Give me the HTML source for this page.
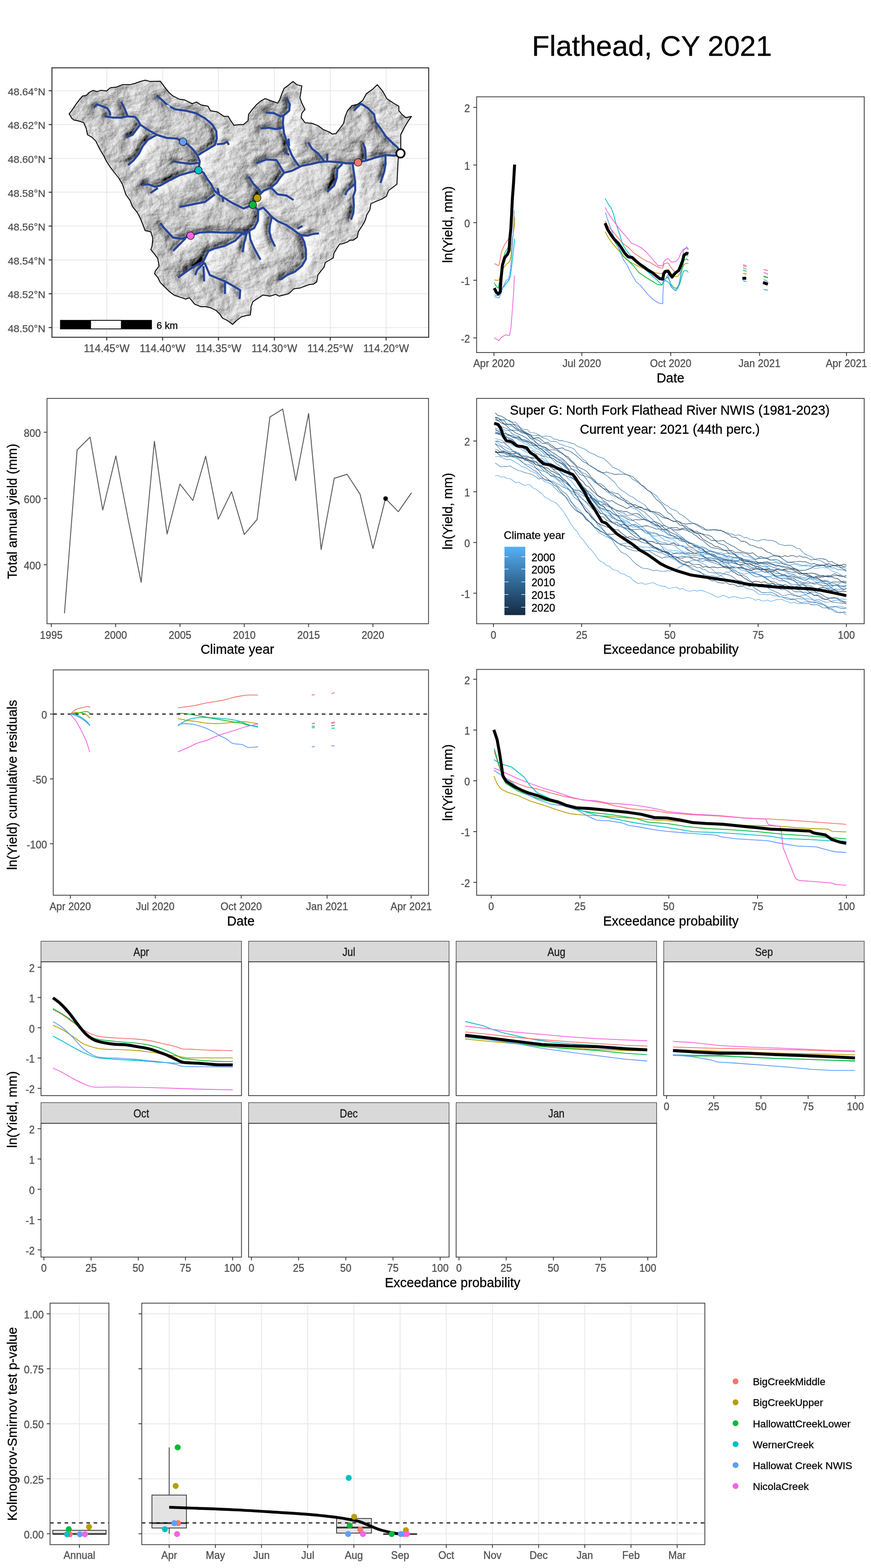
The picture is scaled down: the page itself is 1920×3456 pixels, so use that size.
<!DOCTYPE html><html><head><meta charset="utf-8"><title>Flathead, CY 2021</title>
<style>html,body{margin:0;padding:0;background:#fff;}svg{display:block;}text{font-family:'Liberation Sans', Arial, Helvetica, sans-serif;stroke-width:0.35px;}</style></head><body>
<svg width="1920" height="3456" viewBox="0 0 1920 3456">
<rect x="0" y="0" width="1920" height="3456" fill="#ffffff"/>
<text x="1437" y="123.4" font-size="63.6" text-anchor="middle" fill="#000000" stroke="#000000">Flathead, CY 2021</text>
<g id="map">
<line x1="235.2" y1="149.5" x2="235.2" y2="743.4" stroke="#EBEBEB" stroke-width="2.2"/>
<line x1="358.4" y1="149.5" x2="358.4" y2="743.4" stroke="#EBEBEB" stroke-width="2.2"/>
<line x1="481.6" y1="149.5" x2="481.6" y2="743.4" stroke="#EBEBEB" stroke-width="2.2"/>
<line x1="604.8" y1="149.5" x2="604.8" y2="743.4" stroke="#EBEBEB" stroke-width="2.2"/>
<line x1="728" y1="149.5" x2="728" y2="743.4" stroke="#EBEBEB" stroke-width="2.2"/>
<line x1="851.2" y1="149.5" x2="851.2" y2="743.4" stroke="#EBEBEB" stroke-width="2.2"/>
<line x1="114.5" y1="200" x2="945" y2="200" stroke="#EBEBEB" stroke-width="2.2"/>
<line x1="114.5" y1="274.57" x2="945" y2="274.57" stroke="#EBEBEB" stroke-width="2.2"/>
<line x1="114.5" y1="349.14" x2="945" y2="349.14" stroke="#EBEBEB" stroke-width="2.2"/>
<line x1="114.5" y1="423.71" x2="945" y2="423.71" stroke="#EBEBEB" stroke-width="2.2"/>
<line x1="114.5" y1="498.28" x2="945" y2="498.28" stroke="#EBEBEB" stroke-width="2.2"/>
<line x1="114.5" y1="572.85" x2="945" y2="572.85" stroke="#EBEBEB" stroke-width="2.2"/>
<line x1="114.5" y1="647.42" x2="945" y2="647.42" stroke="#EBEBEB" stroke-width="2.2"/>
<line x1="114.5" y1="721.99" x2="945" y2="721.99" stroke="#EBEBEB" stroke-width="2.2"/>
<defs><clipPath id="wsclip"><polygon points="152.4,250.8 158,243.9 166.3,231.3 174.7,220.1 181.7,211.7 190.1,210.3 197.1,203.3 205.5,199.1 213.9,201.9 222.2,199.1 234.8,200.5 243.2,193.5 255.8,192.1 269.8,186.6 286.5,186.6 297.7,183.8 308.9,179.6 320.1,176.8 331.3,179.6 353.6,179 362,190.7 373.2,204.7 381.6,211.7 395.5,218.7 406.7,220.1 423.5,228.5 433.3,224.9 443.1,231.3 458.4,234.1 464,243.9 479.4,246.7 493.4,256.4 503.2,256.4 508.8,266.2 515.7,276 530,274.6 536.8,274.6 546.6,266.2 548,252.2 556.3,241.1 564.7,231.3 574.5,222.9 584.3,217.3 595.5,221.5 612.2,227.1 616.4,220.1 622,204.7 626.2,194.9 637.4,186.6 645.8,179.6 654.2,186.6 665.4,189.4 662.6,207.5 661.2,215.9 665.4,227.1 672.3,241.1 665.4,249.4 664,259.2 672.3,270.4 687.7,271.8 701.7,277.4 712.9,285.8 726.9,291.4 732.4,295.6 740.8,294.2 749.2,283 757.6,271.8 760.4,257.8 766,243.9 775.8,232.7 788.3,229.9 799.5,221.5 807.9,206.1 821.9,196.3 831.7,186.6 844.3,201.9 852.6,217.3 869.4,228.5 879.2,234.1 879.2,243.9 886.2,252.2 894.6,259.2 907.1,256.4 900.2,266.2 891.8,280.2 883.4,297 883.4,327.7 877.8,350.1 876.4,378 875,406 856.7,420 851.7,432.6 841.6,438.9 829,443.9 817.7,448.9 815.2,462.8 808.9,472.8 805.2,485.4 801.4,493 796.4,500.5 790.1,510.6 787.5,523.1 778.7,529.4 771.2,529.4 766.2,533.2 756.1,537 748.6,538.2 743.5,545.8 736,558.4 734.7,568.4 725.9,573.5 717.1,578.5 714.6,588.6 708.3,596.1 700.8,606.2 698.2,621.3 690.7,626.3 680.6,627.5 670.6,631.3 660.5,635.1 647.9,636.4 640.4,643.9 635.3,647.7 625.3,650.2 615.2,652.7 607.7,648.9 595.1,652.7 580,650.2 565.9,659.2 557.5,664.8 553.3,676 553.3,681.6 551.9,694.2 543.5,695.5 532.3,698.3 521.1,706.7 512.8,715.1 501.6,706.7 490.4,701.1 484.8,692.8 476.4,684.4 465.2,678.8 454.1,676 442.9,676 428.9,670.4 417.7,656.4 409.3,659.2 400.9,656.4 384.2,650.8 373,642.4 361.8,631.3 353.4,622.9 347.8,611.7 340.8,603.3 342.2,597.7 350.6,586.5 347.8,569.8 339.4,558.6 332.5,550.2 335.3,541.8 336.7,525 332.5,511.1 319.9,508.3 315.7,497.1 310.1,483.1 303.1,469.1 291.9,455.2 286.3,441.2 278,430 275.4,422.8 269.8,406 261.4,392 250.2,378 241.8,366.8 234.8,355.7 229.2,344.5 219.4,327.7 211.1,310.9 202.7,302.6 192.9,297 190.1,283 184.5,270.4 171.9,266.2 163.5,264.8 158,260.6"/></clipPath>
<filter id="terrain" filterUnits="userSpaceOnUse" x="130" y="165" width="790" height="565" color-interpolation-filters="sRGB"><feGaussianBlur in="SourceAlpha" stdDeviation="6" result="b1"/><feGaussianBlur in="SourceAlpha" stdDeviation="20" result="b2"/><feComposite in="b1" in2="b2" operator="arithmetic" k2="0.5" k3="1.15" result="v"/><feTurbulence type="fractalNoise" baseFrequency="0.03 0.04" numOctaves="4" seed="4" result="n"/><feComposite in="v" in2="n" operator="arithmetic" k2="-0.6" k3="0.15" k4="0.77" result="h"/><feDiffuseLighting in="h" surfaceScale="27" diffuseConstant="1.0" lighting-color="#ffffff"><feDistantLight azimuth="205" elevation="45"/></feDiffuseLighting><feComponentTransfer><feFuncR type="gamma" amplitude="1" exponent="0.64" offset="0"/><feFuncG type="gamma" amplitude="1" exponent="0.64" offset="0"/><feFuncB type="gamma" amplitude="1" exponent="0.64" offset="0"/></feComponentTransfer></filter></defs>
<polygon points="152.4,250.8 158,243.9 166.3,231.3 174.7,220.1 181.7,211.7 190.1,210.3 197.1,203.3 205.5,199.1 213.9,201.9 222.2,199.1 234.8,200.5 243.2,193.5 255.8,192.1 269.8,186.6 286.5,186.6 297.7,183.8 308.9,179.6 320.1,176.8 331.3,179.6 353.6,179 362,190.7 373.2,204.7 381.6,211.7 395.5,218.7 406.7,220.1 423.5,228.5 433.3,224.9 443.1,231.3 458.4,234.1 464,243.9 479.4,246.7 493.4,256.4 503.2,256.4 508.8,266.2 515.7,276 530,274.6 536.8,274.6 546.6,266.2 548,252.2 556.3,241.1 564.7,231.3 574.5,222.9 584.3,217.3 595.5,221.5 612.2,227.1 616.4,220.1 622,204.7 626.2,194.9 637.4,186.6 645.8,179.6 654.2,186.6 665.4,189.4 662.6,207.5 661.2,215.9 665.4,227.1 672.3,241.1 665.4,249.4 664,259.2 672.3,270.4 687.7,271.8 701.7,277.4 712.9,285.8 726.9,291.4 732.4,295.6 740.8,294.2 749.2,283 757.6,271.8 760.4,257.8 766,243.9 775.8,232.7 788.3,229.9 799.5,221.5 807.9,206.1 821.9,196.3 831.7,186.6 844.3,201.9 852.6,217.3 869.4,228.5 879.2,234.1 879.2,243.9 886.2,252.2 894.6,259.2 907.1,256.4 900.2,266.2 891.8,280.2 883.4,297 883.4,327.7 877.8,350.1 876.4,378 875,406 856.7,420 851.7,432.6 841.6,438.9 829,443.9 817.7,448.9 815.2,462.8 808.9,472.8 805.2,485.4 801.4,493 796.4,500.5 790.1,510.6 787.5,523.1 778.7,529.4 771.2,529.4 766.2,533.2 756.1,537 748.6,538.2 743.5,545.8 736,558.4 734.7,568.4 725.9,573.5 717.1,578.5 714.6,588.6 708.3,596.1 700.8,606.2 698.2,621.3 690.7,626.3 680.6,627.5 670.6,631.3 660.5,635.1 647.9,636.4 640.4,643.9 635.3,647.7 625.3,650.2 615.2,652.7 607.7,648.9 595.1,652.7 580,650.2 565.9,659.2 557.5,664.8 553.3,676 553.3,681.6 551.9,694.2 543.5,695.5 532.3,698.3 521.1,706.7 512.8,715.1 501.6,706.7 490.4,701.1 484.8,692.8 476.4,684.4 465.2,678.8 454.1,676 442.9,676 428.9,670.4 417.7,656.4 409.3,659.2 400.9,656.4 384.2,650.8 373,642.4 361.8,631.3 353.4,622.9 347.8,611.7 340.8,603.3 342.2,597.7 350.6,586.5 347.8,569.8 339.4,558.6 332.5,550.2 335.3,541.8 336.7,525 332.5,511.1 319.9,508.3 315.7,497.1 310.1,483.1 303.1,469.1 291.9,455.2 286.3,441.2 278,430 275.4,422.8 269.8,406 261.4,392 250.2,378 241.8,366.8 234.8,355.7 229.2,344.5 219.4,327.7 211.1,310.9 202.7,302.6 192.9,297 190.1,283 184.5,270.4 171.9,266.2 163.5,264.8 158,260.6" fill="#cfcfcf" stroke="none"/>
<g clip-path="url(#wsclip)"><g filter="url(#terrain)"><path d="M206.9 236.9 L213.9 229.9 L225 234.1 L236.2 238.3 L241.8 246.7 L243.2 255 M230.6 256.4 L250.2 259.2 L267 259.2 L280.9 256.4 L297.7 257.8 L304.7 266.2 L308.9 274.6 L325.7 285.8 L345.2 297 L367.6 304 L390 305.4 L403.4 312.3 L415.1 319.3 L426.3 330.5 L434.7 341.7 L440.3 355.7 L437.5 375.2 L448.7 380.8 L457 394.8 L465.4 406 L472.4 420 L483 429.4 L509.9 446.1 L536.7 459.5 L557.2 451.5 M267 224.3 L271 232 L275.4 241.1 L280.9 255 M308.9 274.6 L300.5 285.8 L292.1 297 L278.1 302.6 M345.2 297 L325.7 308.2 L314.5 322.1 L306.1 338.9 L294.9 352.9 L282.3 364 M345.2 210.3 L353.6 217.3 L370.4 232.7 L387.2 241.1 L409.5 243.9 L431.9 249.4 L451.5 260.6 L468.2 274.6 L476.6 288.6 L478 305.4 L473.8 319.3 L459.8 327.7 L445.9 336.1 L437.5 341.7 M478 318 L493.4 316.5 L500.4 312.3 L504.6 319.3 M381.6 355.7 L398.3 358.5 L420.7 361.3 L440.3 358.5 M313.1 407.4 L325.7 406 L342.4 411.6 L353.6 408.8 L373.2 397.6 L395.5 386.4 L415.1 380.8 L437.5 375.2 M331.3 425.6 L348 414.4 M395.5 456.3 L423.5 450.7 L451.5 445.1 L473.8 428.3 M490.6 435.3 L492 445.1 M479.4 414.4 L483 429.4 M557.2 451.5 L567 436.2 L573.1 428.3 L581.5 420 L595.5 414.4 L609.4 403.2 L619.2 389.2 L626.2 380.8 L643 376.6 L654.2 371 L665.4 365.5 L687.7 361.3 L704.5 357.1 L721.3 355.7 L743.6 357.1 L763.2 359.9 L777.2 359.9 L789.2 357.9 L798.1 355.7 L810.7 352.9 L827.5 347.3 L849.8 341.7 L870.8 343.1 L882.8 338.1 M564.7 359.9 L587.1 351.5 L609.4 352.9 L617.8 366.8 L626.2 380.8 M631.8 215.9 L638.8 229.9 L637.4 243.9 L624.8 255 L623.4 271.8 L626.2 294.2 L631.8 311 L637.4 327.7 L643 341.7 L651.4 355.7 L659.8 366.8 M585.7 248 L603.9 249.4 L617.8 256.4 L624.8 255 M574.5 283 L592.7 281.6 L606.7 284.4 L619.2 283 L623.4 280 M627.6 334.7 L637.4 341.7 M636 305.4 L637.4 322.1 M780 243.9 L795.3 228.5 L810.7 238.3 L824.7 252.2 L827.5 269 L838.7 283 L849.8 299.8 L866.6 316.5 L876.4 324.9 L882.8 338.1 M799.5 313.7 L805.1 327.7 L806.5 355.7 M849.8 341.7 L849.8 361.3 L847 378 L838.7 403.2 M777.2 359.9 L780 380.8 L782.8 400.4 L783 420 L778.7 432.6 L780 452.7 L778.7 470.3 L773.7 484.2 M782.8 405 L771.6 414.4 L763.6 422.5 L761.1 430.1 M754.8 361.3 L743.6 372.4 L742.2 392 L736.6 408.8 L721.3 422.8 M721.3 338.9 L721.3 355.7 M679.3 313.7 L687.7 327.7 L701.7 338.9 L712.9 352.9 L716 357 M598.3 414.4 L612.2 428.3 L631.8 431.1 L647.2 440.9 M548 389.2 L559.1 406 L570.3 417.2 L575.9 425.6 L581.5 420 M557.2 451.5 L568.9 462.9 L568.7 485.9 L560.3 502.7 L549.1 508.3 L532.3 516.7 L518.3 530.6 L496 541.8 L473.6 547.4 L459.6 553 L451.3 569.8 L448.5 575.4 L428.9 586.5 L412.1 597.7 L392.6 611.7 M451.3 578.1 L434.5 594.9 L430.3 606.1 M448.5 586.5 L449.9 620.1 M451.3 580 L462.4 606.1 L482 614.5 L496 620.1 L515.6 631.3 L529.5 639.6 L528.1 659.2 M496 620.1 L496 648 M549.1 508.3 L551.9 527.8 L560.3 547.4 L574.3 572.6 M545 510 L537.9 536.2 L535.1 555.8 M353.4 491.5 L361.8 502.7 L381.4 523.6 L400.9 526.4 L420 519.4 L440.1 512.5 L462.4 511.1 L487.6 512.5 L529.5 512.5 L540.7 516.7 M409.3 525 L395.4 539 L381.4 553 M568.9 462.9 L580 457.7 L590.1 467.8 L598.9 477.9 L612.7 487.9 L630.3 495.5 L645.4 505.5 L655.5 513.1 L663 518.1 L670.6 533.2 L674.3 550.8 L674.3 570.9 L665.5 586 L650.4 598.6 L632.8 606.2 L620.3 615 L614 616.2 M663 518.1 L678.1 519.4 L690.7 515.6 L703.3 514.3 M655.5 504.3 L666.8 498 M598.9 479 L595.1 495.5 L593.8 510.6 L597.6 525.7 L606.4 543.3" fill="none" stroke="#000" stroke-width="6" stroke-linejoin="round"/></g></g>
<polygon points="152.4,250.8 158,243.9 166.3,231.3 174.7,220.1 181.7,211.7 190.1,210.3 197.1,203.3 205.5,199.1 213.9,201.9 222.2,199.1 234.8,200.5 243.2,193.5 255.8,192.1 269.8,186.6 286.5,186.6 297.7,183.8 308.9,179.6 320.1,176.8 331.3,179.6 353.6,179 362,190.7 373.2,204.7 381.6,211.7 395.5,218.7 406.7,220.1 423.5,228.5 433.3,224.9 443.1,231.3 458.4,234.1 464,243.9 479.4,246.7 493.4,256.4 503.2,256.4 508.8,266.2 515.7,276 530,274.6 536.8,274.6 546.6,266.2 548,252.2 556.3,241.1 564.7,231.3 574.5,222.9 584.3,217.3 595.5,221.5 612.2,227.1 616.4,220.1 622,204.7 626.2,194.9 637.4,186.6 645.8,179.6 654.2,186.6 665.4,189.4 662.6,207.5 661.2,215.9 665.4,227.1 672.3,241.1 665.4,249.4 664,259.2 672.3,270.4 687.7,271.8 701.7,277.4 712.9,285.8 726.9,291.4 732.4,295.6 740.8,294.2 749.2,283 757.6,271.8 760.4,257.8 766,243.9 775.8,232.7 788.3,229.9 799.5,221.5 807.9,206.1 821.9,196.3 831.7,186.6 844.3,201.9 852.6,217.3 869.4,228.5 879.2,234.1 879.2,243.9 886.2,252.2 894.6,259.2 907.1,256.4 900.2,266.2 891.8,280.2 883.4,297 883.4,327.7 877.8,350.1 876.4,378 875,406 856.7,420 851.7,432.6 841.6,438.9 829,443.9 817.7,448.9 815.2,462.8 808.9,472.8 805.2,485.4 801.4,493 796.4,500.5 790.1,510.6 787.5,523.1 778.7,529.4 771.2,529.4 766.2,533.2 756.1,537 748.6,538.2 743.5,545.8 736,558.4 734.7,568.4 725.9,573.5 717.1,578.5 714.6,588.6 708.3,596.1 700.8,606.2 698.2,621.3 690.7,626.3 680.6,627.5 670.6,631.3 660.5,635.1 647.9,636.4 640.4,643.9 635.3,647.7 625.3,650.2 615.2,652.7 607.7,648.9 595.1,652.7 580,650.2 565.9,659.2 557.5,664.8 553.3,676 553.3,681.6 551.9,694.2 543.5,695.5 532.3,698.3 521.1,706.7 512.8,715.1 501.6,706.7 490.4,701.1 484.8,692.8 476.4,684.4 465.2,678.8 454.1,676 442.9,676 428.9,670.4 417.7,656.4 409.3,659.2 400.9,656.4 384.2,650.8 373,642.4 361.8,631.3 353.4,622.9 347.8,611.7 340.8,603.3 342.2,597.7 350.6,586.5 347.8,569.8 339.4,558.6 332.5,550.2 335.3,541.8 336.7,525 332.5,511.1 319.9,508.3 315.7,497.1 310.1,483.1 303.1,469.1 291.9,455.2 286.3,441.2 278,430 275.4,422.8 269.8,406 261.4,392 250.2,378 241.8,366.8 234.8,355.7 229.2,344.5 219.4,327.7 211.1,310.9 202.7,302.6 192.9,297 190.1,283 184.5,270.4 171.9,266.2 163.5,264.8 158,260.6" fill="none" stroke="#000000" stroke-width="2" stroke-linejoin="round"/>
<path d="M206.9 236.9 L213.9 229.9 L225 234.1 L236.2 238.3 L241.8 246.7 L243.2 255 M230.6 256.4 L250.2 259.2 L267 259.2 L280.9 256.4 L297.7 257.8 L304.7 266.2 L308.9 274.6 L325.7 285.8 L345.2 297 L367.6 304 L390 305.4 L403.4 312.3 L415.1 319.3 L426.3 330.5 L434.7 341.7 L440.3 355.7 L437.5 375.2 L448.7 380.8 L457 394.8 L465.4 406 L472.4 420 L483 429.4 L509.9 446.1 L536.7 459.5 L557.2 451.5 M267 224.3 L271 232 L275.4 241.1 L280.9 255 M308.9 274.6 L300.5 285.8 L292.1 297 L278.1 302.6 M345.2 297 L325.7 308.2 L314.5 322.1 L306.1 338.9 L294.9 352.9 L282.3 364 M345.2 210.3 L353.6 217.3 L370.4 232.7 L387.2 241.1 L409.5 243.9 L431.9 249.4 L451.5 260.6 L468.2 274.6 L476.6 288.6 L478 305.4 L473.8 319.3 L459.8 327.7 L445.9 336.1 L437.5 341.7 M478 318 L493.4 316.5 L500.4 312.3 L504.6 319.3 M381.6 355.7 L398.3 358.5 L420.7 361.3 L440.3 358.5 M313.1 407.4 L325.7 406 L342.4 411.6 L353.6 408.8 L373.2 397.6 L395.5 386.4 L415.1 380.8 L437.5 375.2 M331.3 425.6 L348 414.4 M395.5 456.3 L423.5 450.7 L451.5 445.1 L473.8 428.3 M490.6 435.3 L492 445.1 M479.4 414.4 L483 429.4 M557.2 451.5 L567 436.2 L573.1 428.3 L581.5 420 L595.5 414.4 L609.4 403.2 L619.2 389.2 L626.2 380.8 L643 376.6 L654.2 371 L665.4 365.5 L687.7 361.3 L704.5 357.1 L721.3 355.7 L743.6 357.1 L763.2 359.9 L777.2 359.9 L789.2 357.9 L798.1 355.7 L810.7 352.9 L827.5 347.3 L849.8 341.7 L870.8 343.1 L882.8 338.1 M564.7 359.9 L587.1 351.5 L609.4 352.9 L617.8 366.8 L626.2 380.8 M631.8 215.9 L638.8 229.9 L637.4 243.9 L624.8 255 L623.4 271.8 L626.2 294.2 L631.8 311 L637.4 327.7 L643 341.7 L651.4 355.7 L659.8 366.8 M585.7 248 L603.9 249.4 L617.8 256.4 L624.8 255 M574.5 283 L592.7 281.6 L606.7 284.4 L619.2 283 L623.4 280 M627.6 334.7 L637.4 341.7 M636 305.4 L637.4 322.1 M780 243.9 L795.3 228.5 L810.7 238.3 L824.7 252.2 L827.5 269 L838.7 283 L849.8 299.8 L866.6 316.5 L876.4 324.9 L882.8 338.1 M799.5 313.7 L805.1 327.7 L806.5 355.7 M849.8 341.7 L849.8 361.3 L847 378 L838.7 403.2 M777.2 359.9 L780 380.8 L782.8 400.4 L783 420 L778.7 432.6 L780 452.7 L778.7 470.3 L773.7 484.2 M782.8 405 L771.6 414.4 L763.6 422.5 L761.1 430.1 M754.8 361.3 L743.6 372.4 L742.2 392 L736.6 408.8 L721.3 422.8 M721.3 338.9 L721.3 355.7 M679.3 313.7 L687.7 327.7 L701.7 338.9 L712.9 352.9 L716 357 M598.3 414.4 L612.2 428.3 L631.8 431.1 L647.2 440.9 M548 389.2 L559.1 406 L570.3 417.2 L575.9 425.6 L581.5 420 M557.2 451.5 L568.9 462.9 L568.7 485.9 L560.3 502.7 L549.1 508.3 L532.3 516.7 L518.3 530.6 L496 541.8 L473.6 547.4 L459.6 553 L451.3 569.8 L448.5 575.4 L428.9 586.5 L412.1 597.7 L392.6 611.7 M451.3 578.1 L434.5 594.9 L430.3 606.1 M448.5 586.5 L449.9 620.1 M451.3 580 L462.4 606.1 L482 614.5 L496 620.1 L515.6 631.3 L529.5 639.6 L528.1 659.2 M496 620.1 L496 648 M549.1 508.3 L551.9 527.8 L560.3 547.4 L574.3 572.6 M545 510 L537.9 536.2 L535.1 555.8 M353.4 491.5 L361.8 502.7 L381.4 523.6 L400.9 526.4 L420 519.4 L440.1 512.5 L462.4 511.1 L487.6 512.5 L529.5 512.5 L540.7 516.7 M409.3 525 L395.4 539 L381.4 553 M568.9 462.9 L580 457.7 L590.1 467.8 L598.9 477.9 L612.7 487.9 L630.3 495.5 L645.4 505.5 L655.5 513.1 L663 518.1 L670.6 533.2 L674.3 550.8 L674.3 570.9 L665.5 586 L650.4 598.6 L632.8 606.2 L620.3 615 L614 616.2 M663 518.1 L678.1 519.4 L690.7 515.6 L703.3 514.3 M655.5 504.3 L666.8 498 M598.9 479 L595.1 495.5 L593.8 510.6 L597.6 525.7 L606.4 543.3" fill="none" stroke="#26449A" stroke-width="4.6" stroke-linejoin="round" stroke-linecap="butt"/>
<ellipse cx="371" cy="234" rx="4.5" ry="2" fill="#a8d8f2" transform="rotate(30 371 234)"/>
<ellipse cx="857" cy="246" rx="2" ry="5" fill="#a8d8f2" transform="rotate(-40 857 246)"/>
<circle cx="403.4" cy="312.3" r="8.3" fill="#619CFF" stroke="#000000" stroke-width="1.1"/>
<circle cx="437.5" cy="375.2" r="8.3" fill="#00BFC4" stroke="#000000" stroke-width="1.1"/>
<circle cx="567" cy="436.2" r="8.3" fill="#B79F00" stroke="#000000" stroke-width="1.1"/>
<circle cx="557.2" cy="451.5" r="8.3" fill="#00BA38" stroke="#000000" stroke-width="1.1"/>
<circle cx="420" cy="519.4" r="8.3" fill="#F564E3" stroke="#000000" stroke-width="1.1"/>
<circle cx="789.2" cy="357.9" r="8.3" fill="#F8766D" stroke="#000000" stroke-width="1.1"/>
<circle cx="882.8" cy="338.1" r="9.3" fill="#ffffff" stroke="#000000" stroke-width="3.6"/>
<rect x="132.4" y="705.2" width="202.4" height="20.6" fill="#000000" stroke="none" stroke-width="0"/>
<rect x="200.6" y="707" width="66" height="17" fill="#ffffff" stroke="none" stroke-width="0"/>
<text x="345" y="724.7" font-size="21.8" text-anchor="start" fill="#000000" stroke="#000000">6 km</text>
<rect x="114.5" y="149.5" width="830.5" height="593.9" fill="none" stroke="#333333" stroke-width="2.2"/>
<line x1="235.2" y1="743.4" x2="235.2" y2="750.4" stroke="#333333" stroke-width="2.2"/>
<text x="235.2" y="775.6" font-size="23.3" text-anchor="middle" fill="#4D4D4D" stroke="#4D4D4D">114.45°W</text>
<line x1="358.4" y1="743.4" x2="358.4" y2="750.4" stroke="#333333" stroke-width="2.2"/>
<text x="358.4" y="775.6" font-size="23.3" text-anchor="middle" fill="#4D4D4D" stroke="#4D4D4D">114.40°W</text>
<line x1="481.6" y1="743.4" x2="481.6" y2="750.4" stroke="#333333" stroke-width="2.2"/>
<text x="481.6" y="775.6" font-size="23.3" text-anchor="middle" fill="#4D4D4D" stroke="#4D4D4D">114.35°W</text>
<line x1="604.8" y1="743.4" x2="604.8" y2="750.4" stroke="#333333" stroke-width="2.2"/>
<text x="604.8" y="775.6" font-size="23.3" text-anchor="middle" fill="#4D4D4D" stroke="#4D4D4D">114.30°W</text>
<line x1="728" y1="743.4" x2="728" y2="750.4" stroke="#333333" stroke-width="2.2"/>
<text x="728" y="775.6" font-size="23.3" text-anchor="middle" fill="#4D4D4D" stroke="#4D4D4D">114.25°W</text>
<line x1="851.2" y1="743.4" x2="851.2" y2="750.4" stroke="#333333" stroke-width="2.2"/>
<text x="851.2" y="775.6" font-size="23.3" text-anchor="middle" fill="#4D4D4D" stroke="#4D4D4D">114.20°W</text>
<line x1="107.3" y1="200" x2="114.5" y2="200" stroke="#333333" stroke-width="2.2"/>
<text x="100.1" y="209.8" font-size="22.86" text-anchor="end" fill="#4D4D4D" stroke="#4D4D4D">48.64°N</text>
<line x1="107.3" y1="274.57" x2="114.5" y2="274.57" stroke="#333333" stroke-width="2.2"/>
<text x="100.1" y="284.37" font-size="22.86" text-anchor="end" fill="#4D4D4D" stroke="#4D4D4D">48.62°N</text>
<line x1="107.3" y1="349.14" x2="114.5" y2="349.14" stroke="#333333" stroke-width="2.2"/>
<text x="100.1" y="358.94" font-size="22.86" text-anchor="end" fill="#4D4D4D" stroke="#4D4D4D">48.60°N</text>
<line x1="107.3" y1="423.71" x2="114.5" y2="423.71" stroke="#333333" stroke-width="2.2"/>
<text x="100.1" y="433.51" font-size="22.86" text-anchor="end" fill="#4D4D4D" stroke="#4D4D4D">48.58°N</text>
<line x1="107.3" y1="498.28" x2="114.5" y2="498.28" stroke="#333333" stroke-width="2.2"/>
<text x="100.1" y="508.08" font-size="22.86" text-anchor="end" fill="#4D4D4D" stroke="#4D4D4D">48.56°N</text>
<line x1="107.3" y1="572.85" x2="114.5" y2="572.85" stroke="#333333" stroke-width="2.2"/>
<text x="100.1" y="582.65" font-size="22.86" text-anchor="end" fill="#4D4D4D" stroke="#4D4D4D">48.54°N</text>
<line x1="107.3" y1="647.42" x2="114.5" y2="647.42" stroke="#333333" stroke-width="2.2"/>
<text x="100.1" y="657.22" font-size="22.86" text-anchor="end" fill="#4D4D4D" stroke="#4D4D4D">48.52°N</text>
<line x1="107.3" y1="721.99" x2="114.5" y2="721.99" stroke="#333333" stroke-width="2.2"/>
<text x="100.1" y="731.79" font-size="22.86" text-anchor="end" fill="#4D4D4D" stroke="#4D4D4D">48.50°N</text>
</g>
<g id="ts">
<polyline points="1089.6,581.2 1094.4,582.9 1096.9,585.3 1100.2,584.5 1102.6,571.5 1105,556.8 1108.3,548.6 1112.4,538.9 1117.3,531.5 1120.5,527.4 1122.2,524" fill="none" stroke="#F8766D" stroke-width="1.7" stroke-linejoin="round" stroke-linecap="butt"/>
<polyline points="1089.6,617.1 1096.1,617.9 1100.2,617.1 1104,605 1110.7,589.4 1115.6,582.9 1122.2,578 1126.2,566.6 1127.9,543.7 1128.7,530.7 1134.4,494.8 1134.4,478.5" fill="none" stroke="#B79F00" stroke-width="1.7" stroke-linejoin="round" stroke-linecap="butt"/>
<polyline points="1089.6,623.6 1094.4,631.8 1098.5,635 1103,610 1107.5,576.3 1113.2,556.8 1117.3,550.3 1119.7,545.4" fill="none" stroke="#00BA38" stroke-width="1.7" stroke-linejoin="round" stroke-linecap="butt"/>
<polyline points="1089.6,650 1096,652 1100.2,650 1102.6,644.8 1109.1,633.4 1122.2,617.1 1125.4,607.3 1128.7,581.2 1131.9,551.9 1134.4,525.8" fill="none" stroke="#00BFC4" stroke-width="1.7" stroke-linejoin="round" stroke-linecap="butt"/>
<polyline points="1089.6,653.8 1096.1,656.2 1100.2,656.2 1104.2,648.1 1109.1,631.8 1116.5,617.1 1121.3,615.5 1125.4,594.3 1128.7,551.9 1131.9,503 1133.6,463.9" fill="none" stroke="#619CFF" stroke-width="1.7" stroke-linejoin="round" stroke-linecap="butt"/>
<polyline points="1089.6,744.2 1094.4,747.5 1100.2,750.8 1104.2,744.2 1109.1,741 1115.6,737.7 1118.9,739.3 1123,739.3 1126.2,723.1 1129.5,682.3 1131.9,649.7 1133.9,607.3" fill="none" stroke="#F564E3" stroke-width="1.7" stroke-linejoin="round" stroke-linecap="butt"/>
<polyline points="1333.9,486.8 1339.1,497.8 1349.4,508.1 1361.1,522.7 1374.3,537.4 1386,546.2 1397.8,558 1411,566.8 1422.7,574.1 1433,578.5 1444.7,585.8 1453.5,590.2 1460.9,591 1463.8,581.4 1472.6,579.2 1478.5,588.8 1485.8,597.6 1493.2,599 1499.1,588.8 1504.9,574.1 1510.8,562.4 1517.4,563.8" fill="none" stroke="#F8766D" stroke-width="1.7" stroke-linejoin="round" stroke-linecap="butt"/>
<polyline points="1333.9,510.3 1342,525.7 1350.8,537.4 1361.1,549.1 1371.4,560.9 1381.6,572.6 1393.4,580 1408.1,587.3 1422.7,594.6 1437.4,599 1449.1,602 1459.4,603.4 1463.8,596.1 1474.1,594.6 1481.4,604.9 1488.8,609.3 1494.6,609.3 1502,596.1 1507.8,582.9 1513.7,580 1517.4,580.7" fill="none" stroke="#B79F00" stroke-width="1.7" stroke-linejoin="round" stroke-linecap="butt"/>
<polyline points="1333.9,497.8 1340.5,509.5 1349.4,521.3 1356.7,535.9 1365.5,549.1 1374.3,565.3 1386,575.6 1396.3,585.8 1408.1,600.5 1422.7,610.8 1437.4,619.6 1449.1,626.9 1459.4,628.4 1463.1,616.7 1472.6,610.8 1478.5,625.5 1485.8,634.3 1491.7,635.7 1497.6,625.5 1503.5,591.7 1507.8,574.1 1513,570.4 1517.4,574.1" fill="none" stroke="#00BA38" stroke-width="1.7" stroke-linejoin="round" stroke-linecap="butt"/>
<polyline points="1333.9,437.6 1340.5,449.4 1346.4,456.7 1352.3,471.4 1356.7,489 1361.1,502.2 1367,519.8 1371.4,535.9 1378.7,549.1 1389,562.4 1402.2,575.6 1419.8,591.7 1434.5,604.9 1447.7,616.7 1459.4,628.4 1462.4,619.6 1468.2,618.9 1474.1,622.5 1480,632.8 1485.8,638.7 1491.7,638.7 1497.6,628.4 1502,613.7 1506.4,597.6 1513.7,596.1 1517.4,600.5" fill="none" stroke="#00BFC4" stroke-width="1.7" stroke-linejoin="round" stroke-linecap="butt"/>
<polyline points="1334.7,468.4 1339.1,483.1 1345,499.2 1352.3,519.8 1361.1,540.3 1368.4,558 1374.3,572.6 1381.6,582.9 1391.9,603.4 1402.2,621.1 1411,628.4 1425.7,646 1440.3,660.7 1452.1,668 1460.9,669.5 1461.6,640.1 1463.1,622.5 1466.8,615.2 1472.6,604.9 1475.6,616.7 1480,631.3 1485.8,638.7 1490.2,640.9 1494.6,634.3 1499,615.2 1503.5,581.4 1506.4,552.1 1510.8,547.7 1513.7,544 1517.4,549.1" fill="none" stroke="#619CFF" stroke-width="1.7" stroke-linejoin="round" stroke-linecap="butt"/>
<polyline points="1333.9,457.4 1343.5,474.3 1355.2,490.4 1368.4,508.1 1381.6,522.7 1391.9,535.9 1402.2,540.3 1413.9,546.2 1424.2,555 1435.9,568.2 1444.7,578.5 1450.6,585.8 1460.9,585.8 1462.4,578.5 1466.8,572.6 1472.6,569.7 1480,577.8 1490.2,576.3 1496.1,569.7 1500.5,558 1506.4,549.1 1513.7,547.7 1517.4,549.9" fill="none" stroke="#F564E3" stroke-width="1.7" stroke-linejoin="round" stroke-linecap="butt"/>
<polyline points="1637.9,583.4 1641.5,584.4 1645.7,585.7" fill="none" stroke="#F564E3" stroke-width="1.9" stroke-linejoin="round" stroke-linecap="butt"/>
<polyline points="1637.9,586.2 1641.5,587.2 1645.7,587.9" fill="none" stroke="#F8766D" stroke-width="1.9" stroke-linejoin="round" stroke-linecap="butt"/>
<polyline points="1637.9,590.7 1641.5,591.7 1645.7,593.5" fill="none" stroke="#619CFF" stroke-width="1.9" stroke-linejoin="round" stroke-linecap="butt"/>
<polyline points="1637.9,595.7 1641.5,596.7 1645.7,597.7" fill="none" stroke="#00BA38" stroke-width="1.9" stroke-linejoin="round" stroke-linecap="butt"/>
<polyline points="1637.9,602.7 1641.5,603.7 1645.7,603.8" fill="none" stroke="#B79F00" stroke-width="1.9" stroke-linejoin="round" stroke-linecap="butt"/>
<polyline points="1637.9,618.6 1641.5,619.6 1645.7,620.6" fill="none" stroke="#00BFC4" stroke-width="1.9" stroke-linejoin="round" stroke-linecap="butt"/>
<polyline points="1683.2,593.8 1687.5,595 1692.7,596.8" fill="none" stroke="#F8766D" stroke-width="1.9" stroke-linejoin="round" stroke-linecap="butt"/>
<polyline points="1683.2,600.7 1687.5,601.9 1692.7,604.7" fill="none" stroke="#F564E3" stroke-width="1.9" stroke-linejoin="round" stroke-linecap="butt"/>
<polyline points="1683.2,609.8 1687.5,611 1692.7,612.2" fill="none" stroke="#B79F00" stroke-width="1.9" stroke-linejoin="round" stroke-linecap="butt"/>
<polyline points="1683.2,608.6 1687.5,609.8 1692.7,611.4" fill="none" stroke="#00BA38" stroke-width="1.9" stroke-linejoin="round" stroke-linecap="butt"/>
<polyline points="1683.2,616.4 1687.5,617.6 1692.7,621.4" fill="none" stroke="#619CFF" stroke-width="1.9" stroke-linejoin="round" stroke-linecap="butt"/>
<polyline points="1683.2,637.6 1687.5,638.8 1692.7,639.3" fill="none" stroke="#00BFC4" stroke-width="1.9" stroke-linejoin="round" stroke-linecap="butt"/>
<polyline points="1089.6,635 1094.4,644.8 1098.5,648.1 1102.6,643.2 1104.2,617.1 1107.5,584.5 1112.4,568.2 1118.9,560 1122.2,551.9 1123.8,527.4 1126.2,503 1127.9,470.4 1129.5,437.8 1131.9,405.2 1134.4,362.8" fill="none" stroke="#000000" stroke-width="6.5" stroke-linejoin="round" stroke-linecap="butt"/>
<polyline points="1333.9,491.9 1339.1,505.1 1346.4,516.9 1353.8,527.1 1362.6,535.9 1369.9,546.2 1377.2,558 1384.6,566 1393.4,567.5 1402.2,575.6 1411,582.9 1419.8,588.8 1428.6,595.4 1437.4,600.5 1446.2,607.8 1453.5,613.7 1460.9,615.2 1463.1,603.4 1466.8,598.3 1472.6,597.6 1477,604.9 1481.4,610.8 1485.8,604.9 1490.2,600.5 1496.1,596.1 1500.5,585.8 1504.9,574.1 1507.8,562.4 1513.7,558 1517.4,559.4" fill="none" stroke="#000000" stroke-width="6.5" stroke-linejoin="round" stroke-linecap="butt"/>
<polyline points="1636.5,613.6 1645,613.3" fill="none" stroke="#000000" stroke-width="6.5" stroke-linejoin="round" stroke-linecap="butt"/>
<polyline points="1682,622.6 1692.7,626.4" fill="none" stroke="#000000" stroke-width="6.5" stroke-linejoin="round" stroke-linecap="butt"/>
<rect x="1050.6" y="213.4" width="854.5" height="563.6" fill="none" stroke="#333333" stroke-width="1.7"/>
<line x1="1043.4" y1="236.7" x2="1050.6" y2="236.7" stroke="#333333" stroke-width="1.8"/>
<text x="1036" y="247.1" font-size="22.5" text-anchor="end" fill="#4D4D4D" stroke="#4D4D4D" transform="translate(0 247.1) scale(1 1.08) translate(0 -247.1)">2</text>
<line x1="1043.4" y1="363.7" x2="1050.6" y2="363.7" stroke="#333333" stroke-width="1.8"/>
<text x="1036" y="374.1" font-size="22.5" text-anchor="end" fill="#4D4D4D" stroke="#4D4D4D" transform="translate(0 374.1) scale(1 1.08) translate(0 -374.1)">1</text>
<line x1="1043.4" y1="490.7" x2="1050.6" y2="490.7" stroke="#333333" stroke-width="1.8"/>
<text x="1036" y="501.1" font-size="22.5" text-anchor="end" fill="#4D4D4D" stroke="#4D4D4D" transform="translate(0 501.1) scale(1 1.08) translate(0 -501.1)">0</text>
<line x1="1043.4" y1="617.7" x2="1050.6" y2="617.7" stroke="#333333" stroke-width="1.8"/>
<text x="1036" y="628.1" font-size="22.5" text-anchor="end" fill="#4D4D4D" stroke="#4D4D4D" transform="translate(0 628.1) scale(1 1.08) translate(0 -628.1)">-1</text>
<line x1="1043.4" y1="744.7" x2="1050.6" y2="744.7" stroke="#333333" stroke-width="1.8"/>
<text x="1036" y="755.1" font-size="22.5" text-anchor="end" fill="#4D4D4D" stroke="#4D4D4D" transform="translate(0 755.1) scale(1 1.08) translate(0 -755.1)">-2</text>
<line x1="1088.8" y1="777" x2="1088.8" y2="784.4" stroke="#333333" stroke-width="1.8"/>
<text x="1088.8" y="808.9" font-size="22.5" text-anchor="middle" fill="#4D4D4D" stroke="#4D4D4D" transform="translate(0 808.9) scale(1 1.08) translate(0 -808.9)">Apr 2020</text>
<line x1="1282.57" y1="777" x2="1282.57" y2="784.4" stroke="#333333" stroke-width="1.8"/>
<text x="1282.57" y="808.9" font-size="22.5" text-anchor="middle" fill="#4D4D4D" stroke="#4D4D4D" transform="translate(0 808.9) scale(1 1.08) translate(0 -808.9)">Jul 2020</text>
<line x1="1478.46" y1="777" x2="1478.46" y2="784.4" stroke="#333333" stroke-width="1.8"/>
<text x="1478.46" y="808.9" font-size="22.5" text-anchor="middle" fill="#4D4D4D" stroke="#4D4D4D" transform="translate(0 808.9) scale(1 1.08) translate(0 -808.9)">Oct 2020</text>
<line x1="1674.36" y1="777" x2="1674.36" y2="784.4" stroke="#333333" stroke-width="1.8"/>
<text x="1674.36" y="808.9" font-size="22.5" text-anchor="middle" fill="#4D4D4D" stroke="#4D4D4D" transform="translate(0 808.9) scale(1 1.08) translate(0 -808.9)">Jan 2021</text>
<line x1="1865.99" y1="777" x2="1865.99" y2="784.4" stroke="#333333" stroke-width="1.8"/>
<text x="1865.99" y="808.9" font-size="22.5" text-anchor="middle" fill="#4D4D4D" stroke="#4D4D4D" transform="translate(0 808.9) scale(1 1.08) translate(0 -808.9)">Apr 2021</text>
<text x="997.3" y="495" font-size="28.9" text-anchor="middle" fill="#000000" stroke="#000000" transform="rotate(-90 997.3 495)">ln(Yield, mm)</text>
<text x="1478" y="842.8" font-size="28.9" text-anchor="middle" fill="#000000" stroke="#000000">Date</text>
</g>
<g id="annual">
<polyline points="142.1,1351.8 170,991.8 198.6,963.5 226.5,1124 255.3,1005 283.6,1150.4 311.2,1283.5 340.4,972.5 368.3,1176.9 396.6,1066.9 425.1,1103 453.4,1005.6 481,1144.4 510.5,1083.7 538.5,1178.1 566.7,1145 595,919.1 623.2,901.6 652,1059.1 680.3,911.3 707.9,1211.1 736.8,1054.3 765,1045.3 793.6,1089.1 822.1,1209 849.8,1098.8 878,1127.9 907.1,1086.1" fill="none" stroke="#595959" stroke-width="2" stroke-linejoin="round" stroke-linecap="butt"/>
<circle cx="850" cy="1098.9" r="5" fill="#000000" stroke="none" stroke-width="0"/>
<rect x="103.6" y="878.2" width="841" height="496.5" fill="none" stroke="#333333" stroke-width="1.7"/>
<line x1="96.4" y1="1244.7" x2="103.6" y2="1244.7" stroke="#333333" stroke-width="1.8"/>
<text x="90" y="1255.1" font-size="22.5" text-anchor="end" fill="#4D4D4D" stroke="#4D4D4D" transform="translate(0 1255.1) scale(1 1.08) translate(0 -1255.1)">400</text>
<line x1="96.4" y1="1098.7" x2="103.6" y2="1098.7" stroke="#333333" stroke-width="1.8"/>
<text x="90" y="1109.1" font-size="22.5" text-anchor="end" fill="#4D4D4D" stroke="#4D4D4D" transform="translate(0 1109.1) scale(1 1.08) translate(0 -1109.1)">600</text>
<line x1="96.4" y1="952.7" x2="103.6" y2="952.7" stroke="#333333" stroke-width="1.8"/>
<text x="90" y="963.1" font-size="22.5" text-anchor="end" fill="#4D4D4D" stroke="#4D4D4D" transform="translate(0 963.1) scale(1 1.08) translate(0 -963.1)">800</text>
<line x1="113.1" y1="1374.7" x2="113.1" y2="1381.9" stroke="#333333" stroke-width="1.8"/>
<text x="113.1" y="1407.9" font-size="22.5" text-anchor="middle" fill="#4D4D4D" stroke="#4D4D4D" transform="translate(0 1407.9) scale(1 1.08) translate(0 -1407.9)">1995</text>
<line x1="254.9" y1="1374.7" x2="254.9" y2="1381.9" stroke="#333333" stroke-width="1.8"/>
<text x="254.9" y="1407.9" font-size="22.5" text-anchor="middle" fill="#4D4D4D" stroke="#4D4D4D" transform="translate(0 1407.9) scale(1 1.08) translate(0 -1407.9)">2000</text>
<line x1="396.7" y1="1374.7" x2="396.7" y2="1381.9" stroke="#333333" stroke-width="1.8"/>
<text x="396.7" y="1407.9" font-size="22.5" text-anchor="middle" fill="#4D4D4D" stroke="#4D4D4D" transform="translate(0 1407.9) scale(1 1.08) translate(0 -1407.9)">2005</text>
<line x1="538.5" y1="1374.7" x2="538.5" y2="1381.9" stroke="#333333" stroke-width="1.8"/>
<text x="538.5" y="1407.9" font-size="22.5" text-anchor="middle" fill="#4D4D4D" stroke="#4D4D4D" transform="translate(0 1407.9) scale(1 1.08) translate(0 -1407.9)">2010</text>
<line x1="680.3" y1="1374.7" x2="680.3" y2="1381.9" stroke="#333333" stroke-width="1.8"/>
<text x="680.3" y="1407.9" font-size="22.5" text-anchor="middle" fill="#4D4D4D" stroke="#4D4D4D" transform="translate(0 1407.9) scale(1 1.08) translate(0 -1407.9)">2015</text>
<line x1="822.1" y1="1374.7" x2="822.1" y2="1381.9" stroke="#333333" stroke-width="1.8"/>
<text x="822.1" y="1407.9" font-size="22.5" text-anchor="middle" fill="#4D4D4D" stroke="#4D4D4D" transform="translate(0 1407.9) scale(1 1.08) translate(0 -1407.9)">2020</text>
<text x="36.8" y="1127.3" font-size="28.9" text-anchor="middle" fill="#000000" stroke="#000000" transform="rotate(-90 36.8 1127.3)">Total annual yield (mm)</text>
<text x="523.3" y="1441.3" font-size="28.9" text-anchor="middle" fill="#000000" stroke="#000000">Climate year</text>
</g>
<g id="superg">
<defs><linearGradient id="cbar" x1="0" y1="0" x2="0" y2="1"><stop offset="0" stop-color="#56B1F7"/><stop offset="0.5" stop-color="#336A98"/><stop offset="1" stop-color="#132B43"/></linearGradient></defs>
<polyline points="1091.59,1048.64 1098.04,1047.97 1104.49,1051.7 1110.94,1050.74 1117.39,1054.57 1123.84,1054.8 1130.3,1058.97 1136.75,1064.03 1143.2,1062.75 1149.65,1066.44 1156.1,1069.91 1162.55,1067.95 1169,1069.07 1175.45,1076.08 1181.9,1078.25 1188.35,1083.72 1194.8,1088.23 1201.26,1096.1 1207.71,1098.61 1214.16,1103.19 1220.61,1105.98 1227.06,1109.59 1233.51,1117.53 1239.96,1124.74 1246.41,1134.35 1252.86,1145.1 1259.31,1156.09 1265.76,1165.11 1272.22,1171.95 1278.67,1183.07 1285.12,1189.36 1291.57,1198.44 1298.02,1207.65 1304.47,1213.28 1310.92,1221.58 1317.37,1231.05 1323.82,1237.44 1330.27,1239.83 1336.72,1246.9 1343.18,1247.31 1349.63,1254.73 1356.08,1256.75 1362.53,1257.94 1368.98,1264.46 1375.43,1265.25 1381.88,1269.22 1388.33,1271.6 1394.78,1277.97 1401.23,1283.24 1407.68,1286.51 1414.14,1284.25 1420.59,1287.7 1427.04,1287.08 1433.49,1285.54 1439.94,1284.3 1446.39,1287.51 1452.84,1290.47 1459.29,1292.09 1465.74,1291.97 1472.19,1296.66 1478.64,1296.32 1485.1,1295.29 1491.55,1294.04 1498,1298.7 1504.45,1296.62 1510.9,1300.77 1517.35,1302.79 1523.8,1302.79 1530.25,1300.76 1536.7,1303.04 1543.15,1301.1 1549.61,1302.1 1556.06,1304.67 1562.51,1306.99 1568.96,1310.08 1575.41,1313.56 1581.86,1316.22 1588.31,1314.92 1594.76,1311.73 1601.21,1314.77 1607.66,1318.3 1614.11,1315.03 1620.57,1315.36 1627.02,1316.61 1633.47,1318.97 1639.92,1318.67 1646.37,1316.91 1652.82,1318 1659.27,1319.29 1665.72,1323.05 1672.17,1320.5 1678.62,1324.29 1685.07,1324.52 1691.53,1322.43 1697.98,1325.55 1704.43,1324.24 1710.88,1321.67 1717.33,1321.7 1723.78,1320.73 1730.23,1324.67 1736.68,1325.98 1743.13,1329.2 1749.58,1327.35 1756.03,1329.62 1762.49,1330.63 1768.94,1327.89 1775.39,1326.6 1781.84,1324.74 1788.29,1326.83 1794.74,1328.41 1801.19,1328.25 1807.64,1329.96 1814.09,1332.89 1820.54,1334.82 1826.99,1338.42 1833.45,1340.14 1839.9,1337.59 1846.35,1335.68 1852.8,1336.44 1859.25,1338.15 1865.7,1340.91" fill="none" stroke="#51A6E9" stroke-width="1.1" stroke-linejoin="round" stroke-linecap="butt"/>
<polyline points="1091.59,948.09 1098.04,950.36 1104.49,948.93 1110.94,947.17 1117.39,949.22 1123.84,948.19 1130.3,947.9 1136.75,948.68 1143.2,949.79 1149.65,950.32 1156.1,953.75 1162.55,954.66 1169,958.31 1175.45,959.95 1181.9,959.51 1188.35,959.74 1194.8,962.75 1201.26,960.99 1207.71,961.57 1214.16,962.66 1220.61,967.64 1227.06,968.46 1233.51,971.36 1239.96,971.16 1246.41,973.52 1252.86,974.45 1259.31,976.86 1265.76,978.38 1272.22,983.29 1278.67,986.06 1285.12,988.52 1291.57,990.82 1298.02,996.74 1304.47,999.16 1310.92,1001.75 1317.37,1005.94 1323.82,1008.03 1330.27,1010.28 1336.72,1015.89 1343.18,1021.38 1349.63,1029.34 1356.08,1032.36 1362.53,1034.52 1368.98,1039.5 1375.43,1042.9 1381.88,1046.2 1388.33,1049.51 1394.78,1056.76 1401.23,1059.77 1407.68,1064.92 1414.14,1069.41 1420.59,1075.58 1427.04,1080.13 1433.49,1083.58 1439.94,1088.05 1446.39,1091.87 1452.84,1100.46 1459.29,1107.53 1465.74,1112.23 1472.19,1115.33 1478.64,1121.3 1485.1,1123.44 1491.55,1126.01 1498,1132.64 1504.45,1135.81 1510.9,1140.58 1517.35,1146.25 1523.8,1150.96 1530.25,1154.13 1536.7,1158.12 1543.15,1161.83 1549.61,1166.45 1556.06,1167.59 1562.51,1168.61 1568.96,1168.07 1575.41,1167.89 1581.86,1170.33 1588.31,1168.06 1594.76,1172.46 1601.21,1173.73 1607.66,1175.92 1614.11,1177.16 1620.57,1180.5 1627.02,1178.75 1633.47,1180.61 1639.92,1184.85 1646.37,1184.88 1652.82,1188.78 1659.27,1189.43 1665.72,1191.74 1672.17,1192.33 1678.62,1189.83 1685.07,1188.87 1691.53,1191.07 1697.98,1190.58 1704.43,1191.65 1710.88,1194.8 1717.33,1199.48 1723.78,1200.83 1730.23,1202.61 1736.68,1201.84 1743.13,1201.49 1749.58,1204.05 1756.03,1208.49 1762.49,1209.07 1768.94,1216.16 1775.39,1222.08 1781.84,1224.56 1788.29,1226.83 1794.74,1232.38 1801.19,1234.3 1807.64,1234.6 1814.09,1238.82 1820.54,1242.54 1826.99,1247.63 1833.45,1252.05 1839.9,1251.63 1846.35,1255.71 1852.8,1255.66 1859.25,1256.29 1865.7,1259.38" fill="none" stroke="#3C7CB1" stroke-width="1.1" stroke-linejoin="round" stroke-linecap="butt"/>
<polyline points="1091.59,1007.05 1098.04,1005.48 1104.49,1007.68 1110.94,1010.43 1117.39,1013.77 1123.84,1012.36 1130.3,1015.2 1136.75,1019.72 1143.2,1022.73 1149.65,1028.15 1156.1,1029.82 1162.55,1032.84 1169,1037.99 1175.45,1040.57 1181.9,1043.09 1188.35,1051.49 1194.8,1055.86 1201.26,1062.05 1207.71,1063.5 1214.16,1066.38 1220.61,1073.15 1227.06,1079.5 1233.51,1086.39 1239.96,1087.24 1246.41,1094.47 1252.86,1100.56 1259.31,1107.63 1265.76,1113.47 1272.22,1119.66 1278.67,1124.91 1285.12,1134.77 1291.57,1139.98 1298.02,1148.52 1304.47,1155.2 1310.92,1163.19 1317.37,1171.24 1323.82,1176.06 1330.27,1179.41 1336.72,1183.43 1343.18,1184.65 1349.63,1187.13 1356.08,1193.46 1362.53,1197.43 1368.98,1199.12 1375.43,1197.61 1381.88,1196.66 1388.33,1198.35 1394.78,1203.66 1401.23,1203.08 1407.68,1204.88 1414.14,1205.59 1420.59,1205.44 1427.04,1205.96 1433.49,1207.61 1439.94,1206.24 1446.39,1208.81 1452.84,1211.18 1459.29,1210.26 1465.74,1214.11 1472.19,1216.98 1478.64,1215.82 1485.1,1219.8 1491.55,1218.1 1498,1217.71 1504.45,1219.29 1510.9,1221.82 1517.35,1220.78 1523.8,1219.12 1530.25,1223.1 1536.7,1224.46 1543.15,1225.33 1549.61,1226.63 1556.06,1228.97 1562.51,1232 1568.96,1231.81 1575.41,1230.2 1581.86,1234.03 1588.31,1236.43 1594.76,1234.61 1601.21,1233.35 1607.66,1233.28 1614.11,1237.77 1620.57,1237.09 1627.02,1234.89 1633.47,1233.01 1639.92,1233.58 1646.37,1238.76 1652.82,1238.06 1659.27,1241.94 1665.72,1242.62 1672.17,1241.24 1678.62,1241.4 1685.07,1245.69 1691.53,1248.53 1697.98,1246.88 1704.43,1250.9 1710.88,1251.44 1717.33,1253.45 1723.78,1257.14 1730.23,1257.41 1736.68,1261.84 1743.13,1265.48 1749.58,1267.04 1756.03,1270.73 1762.49,1274.29 1768.94,1274.08 1775.39,1272.97 1781.84,1271.29 1788.29,1275.15 1794.74,1276.59 1801.19,1278.88 1807.64,1279.15 1814.09,1280.37 1820.54,1278.58 1826.99,1281.12 1833.45,1285.78 1839.9,1285.7 1846.35,1289.62 1852.8,1289.99 1859.25,1291.42 1865.7,1290.13" fill="none" stroke="#4C9CDB" stroke-width="1.1" stroke-linejoin="round" stroke-linecap="butt"/>
<polyline points="1091.59,997.19 1098.04,996.51 1104.49,998.51 1110.94,998.44 1117.39,1000.59 1123.84,999.26 1130.3,1000.34 1136.75,1004.52 1143.2,1007.85 1149.65,1010.19 1156.1,1010.1 1162.55,1014.26 1169,1015.33 1175.45,1017.71 1181.9,1024.28 1188.35,1026.62 1194.8,1033.24 1201.26,1039.45 1207.71,1042.3 1214.16,1047.91 1220.61,1049.11 1227.06,1053.59 1233.51,1059.3 1239.96,1061.78 1246.41,1071.08 1252.86,1076.53 1259.31,1086.98 1265.76,1096.53 1272.22,1100.44 1278.67,1106.79 1285.12,1116.72 1291.57,1127.45 1298.02,1132.04 1304.47,1139.26 1310.92,1145.57 1317.37,1156.83 1323.82,1163.07 1330.27,1169.42 1336.72,1176.36 1343.18,1182.3 1349.63,1186.08 1356.08,1191.7 1362.53,1196.38 1368.98,1201.89 1375.43,1202.2 1381.88,1203.95 1388.33,1204.62 1394.78,1207.92 1401.23,1207.92 1407.68,1210.02 1414.14,1211.42 1420.59,1212.84 1427.04,1212.99 1433.49,1215.54 1439.94,1219.88 1446.39,1224.18 1452.84,1226.84 1459.29,1230.34 1465.74,1227.63 1472.19,1228.11 1478.64,1226.49 1485.1,1229.94 1491.55,1229.77 1498,1226.79 1504.45,1226.1 1510.9,1226.9 1517.35,1227.46 1523.8,1230.61 1530.25,1233.17 1536.7,1235.57 1543.15,1236.41 1549.61,1237.3 1556.06,1234.81 1562.51,1237.48 1568.96,1239.36 1575.41,1241.1 1581.86,1243.7 1588.31,1245.41 1594.76,1247.59 1601.21,1248.15 1607.66,1252.09 1614.11,1249.79 1620.57,1251.98 1627.02,1250.4 1633.47,1251.16 1639.92,1252.36 1646.37,1255.25 1652.82,1254.99 1659.27,1260.93 1665.72,1262.84 1672.17,1267.52 1678.62,1269.08 1685.07,1270.52 1691.53,1276.14 1697.98,1281.26 1704.43,1287.42 1710.88,1291.86 1717.33,1297.26 1723.78,1300.21 1730.23,1299.29 1736.68,1303.08 1743.13,1307.18 1749.58,1310.1 1756.03,1314.31 1762.49,1315.29 1768.94,1316.59 1775.39,1321.88 1781.84,1326.32 1788.29,1327.54 1794.74,1326.89 1801.19,1328.59 1807.64,1331.79 1814.09,1331.06 1820.54,1337.28 1826.99,1342.55 1833.45,1342.39 1839.9,1344.92 1846.35,1349.8 1852.8,1350.73 1859.25,1348.6 1865.7,1350.06" fill="none" stroke="#3772A3" stroke-width="1.1" stroke-linejoin="round" stroke-linecap="butt"/>
<polyline points="1091.59,1020.2 1098.04,1025.07 1104.49,1029.47 1110.94,1027.59 1117.39,1028.66 1123.84,1026.44 1130.3,1030.87 1136.75,1033.72 1143.2,1037.53 1149.65,1038.47 1156.1,1041.61 1162.55,1043.04 1169,1044.4 1175.45,1047.32 1181.9,1051.8 1188.35,1056.02 1194.8,1053.49 1201.26,1056.94 1207.71,1057.98 1214.16,1059.93 1220.61,1061.12 1227.06,1065.65 1233.51,1068.54 1239.96,1073.03 1246.41,1075.71 1252.86,1077.45 1259.31,1082.21 1265.76,1085.7 1272.22,1094.35 1278.67,1104.52 1285.12,1111.31 1291.57,1119.2 1298.02,1126.97 1304.47,1136.6 1310.92,1144.83 1317.37,1152.88 1323.82,1158.86 1330.27,1167.78 1336.72,1175.63 1343.18,1180.88 1349.63,1190.54 1356.08,1200.61 1362.53,1208.45 1368.98,1216.85 1375.43,1220.01 1381.88,1222.86 1388.33,1229.19 1394.78,1236.26 1401.23,1242.7 1407.68,1246.8 1414.14,1251.43 1420.59,1252.99 1427.04,1253.15 1433.49,1255.35 1439.94,1258.3 1446.39,1256.21 1452.84,1258.57 1459.29,1259.32 1465.74,1259.09 1472.19,1258.02 1478.64,1258.52 1485.1,1256.05 1491.55,1254.38 1498,1249.71 1504.45,1246.82 1510.9,1241.86 1517.35,1239.15 1523.8,1236.1 1530.25,1234.8 1536.7,1234.76 1543.15,1232.39 1549.61,1231.73 1556.06,1229.32 1562.51,1228.79 1568.96,1228.89 1575.41,1232.4 1581.86,1232.23 1588.31,1235.55 1594.76,1240.77 1601.21,1246.38 1607.66,1251.19 1614.11,1255.39 1620.57,1256.85 1627.02,1261.42 1633.47,1267.55 1639.92,1268.7 1646.37,1271.68 1652.82,1278.47 1659.27,1284.76 1665.72,1290.19 1672.17,1293.73 1678.62,1293.43 1685.07,1292.81 1691.53,1294.81 1697.98,1299.36 1704.43,1302.12 1710.88,1305.06 1717.33,1307.87 1723.78,1312.5 1730.23,1312.53 1736.68,1310.75 1743.13,1309.7 1749.58,1312.91 1756.03,1312.49 1762.49,1314.33 1768.94,1311.95 1775.39,1311.38 1781.84,1307.17 1788.29,1304.15 1794.74,1305.72 1801.19,1305.43 1807.64,1300.77 1814.09,1299.56 1820.54,1298.45 1826.99,1297.25 1833.45,1293.81 1839.9,1289.52 1846.35,1288.48 1852.8,1284.56 1859.25,1283.74 1865.7,1286.52" fill="none" stroke="#3F82B8" stroke-width="1.1" stroke-linejoin="round" stroke-linecap="butt"/>
<polyline points="1091.59,989.62 1098.04,992.75 1104.49,998.35 1110.94,997.22 1117.39,1003.06 1123.84,1004.77 1130.3,1007.67 1136.75,1008.16 1143.2,1012.36 1149.65,1017.68 1156.1,1022.34 1162.55,1027.36 1169,1030.65 1175.45,1036.29 1181.9,1039.17 1188.35,1045.85 1194.8,1051.58 1201.26,1057.96 1207.71,1059.13 1214.16,1061.75 1220.61,1064.59 1227.06,1069.29 1233.51,1075.5 1239.96,1083.33 1246.41,1087.2 1252.86,1094.9 1259.31,1105.64 1265.76,1115.01 1272.22,1124.56 1278.67,1129.51 1285.12,1133.56 1291.57,1142.97 1298.02,1147.94 1304.47,1156.38 1310.92,1162.13 1317.37,1166.73 1323.82,1171.8 1330.27,1173.73 1336.72,1178.72 1343.18,1186.02 1349.63,1189.35 1356.08,1192.14 1362.53,1197.3 1368.98,1200.07 1375.43,1203.25 1381.88,1208.29 1388.33,1211.02 1394.78,1213.18 1401.23,1214.52 1407.68,1214.1 1414.14,1216.07 1420.59,1214.03 1427.04,1213.64 1433.49,1212.82 1439.94,1213.97 1446.39,1215.43 1452.84,1217.94 1459.29,1218.65 1465.74,1222.61 1472.19,1224.84 1478.64,1226.36 1485.1,1228.68 1491.55,1232.65 1498,1237.87 1504.45,1242.7 1510.9,1245.43 1517.35,1246.6 1523.8,1246.72 1530.25,1247.48 1536.7,1251.29 1543.15,1250.7 1549.61,1255.03 1556.06,1256.07 1562.51,1261.51 1568.96,1261.92 1575.41,1263.18 1581.86,1262.62 1588.31,1262.87 1594.76,1264.84 1601.21,1265.86 1607.66,1267.76 1614.11,1270.62 1620.57,1276.21 1627.02,1279.32 1633.47,1279.74 1639.92,1284.92 1646.37,1284.71 1652.82,1287.77 1659.27,1291.77 1665.72,1298.24 1672.17,1301.5 1678.62,1305.83 1685.07,1306.59 1691.53,1305.78 1697.98,1305.19 1704.43,1306.92 1710.88,1310.19 1717.33,1315.17 1723.78,1315.73 1730.23,1317.32 1736.68,1317.77 1743.13,1320.67 1749.58,1319.84 1756.03,1323.89 1762.49,1326.95 1768.94,1330.04 1775.39,1330.45 1781.84,1329.03 1788.29,1332.92 1794.74,1333.11 1801.19,1332.46 1807.64,1335.71 1814.09,1339.77 1820.54,1339.98 1826.99,1338.44 1833.45,1336.84 1839.9,1336.57 1846.35,1338.57 1852.8,1340.38 1859.25,1341.36 1865.7,1339.75" fill="none" stroke="#346D9C" stroke-width="1.1" stroke-linejoin="round" stroke-linecap="butt"/>
<polyline points="1091.59,995.88 1098.04,997.73 1104.49,997.2 1110.94,994.36 1117.39,997.37 1123.84,1001.24 1130.3,1004.67 1136.75,1005.19 1143.2,1005.67 1149.65,1009.33 1156.1,1012.86 1162.55,1013.57 1169,1014.89 1175.45,1016.77 1181.9,1018.69 1188.35,1025.56 1194.8,1029.28 1201.26,1030.77 1207.71,1031.88 1214.16,1037.91 1220.61,1040.24 1227.06,1044.39 1233.51,1046.81 1239.96,1054.45 1246.41,1059.77 1252.86,1065.51 1259.31,1074.05 1265.76,1085.13 1272.22,1095.21 1278.67,1105.27 1285.12,1115.66 1291.57,1125.51 1298.02,1131.9 1304.47,1141.9 1310.92,1147.04 1317.37,1152.51 1323.82,1156.26 1330.27,1158.46 1336.72,1161.33 1343.18,1162.67 1349.63,1163.88 1356.08,1167.45 1362.53,1168.01 1368.98,1173.9 1375.43,1179.11 1381.88,1183.98 1388.33,1187.31 1394.78,1189.1 1401.23,1190.03 1407.68,1189.2 1414.14,1188.1 1420.59,1191.77 1427.04,1192.9 1433.49,1193.08 1439.94,1194.57 1446.39,1197.87 1452.84,1197.72 1459.29,1199.4 1465.74,1199.07 1472.19,1200.43 1478.64,1198.64 1485.1,1197.19 1491.55,1202.33 1498,1202.53 1504.45,1203.41 1510.9,1207.59 1517.35,1212.98 1523.8,1215.72 1530.25,1219.5 1536.7,1220.7 1543.15,1221.03 1549.61,1225.51 1556.06,1230.47 1562.51,1233.48 1568.96,1235.2 1575.41,1236.51 1581.86,1239.54 1588.31,1244.53 1594.76,1249 1601.21,1249.77 1607.66,1253.04 1614.11,1259.44 1620.57,1262.8 1627.02,1267.27 1633.47,1268.46 1639.92,1273.8 1646.37,1277.29 1652.82,1281.72 1659.27,1283.12 1665.72,1280.95 1672.17,1282.13 1678.62,1283.96 1685.07,1281.8 1691.53,1285.7 1697.98,1287.29 1704.43,1285.54 1710.88,1289.53 1717.33,1287.77 1723.78,1288.99 1730.23,1292.42 1736.68,1293.82 1743.13,1293.64 1749.58,1294.01 1756.03,1293.46 1762.49,1296.23 1768.94,1297.61 1775.39,1293.73 1781.84,1294.1 1788.29,1294.37 1794.74,1297.31 1801.19,1298.75 1807.64,1295.58 1814.09,1294.88 1820.54,1295.76 1826.99,1299.95 1833.45,1301.61 1839.9,1300.74 1846.35,1302.69 1852.8,1303.66 1859.25,1302.76 1865.7,1304.12" fill="none" stroke="#132B43" stroke-width="1.1" stroke-linejoin="round" stroke-linecap="butt"/>
<polyline points="1091.59,994.81 1098.04,1000.18 1104.49,1005.2 1110.94,1004.68 1117.39,1006.86 1123.84,1005.78 1130.3,1005.76 1136.75,1005.65 1143.2,1009.5 1149.65,1008.84 1156.1,1010.17 1162.55,1010.62 1169,1017.24 1175.45,1019.73 1181.9,1024.71 1188.35,1025.63 1194.8,1026.59 1201.26,1033.07 1207.71,1037.62 1214.16,1042.92 1220.61,1046.44 1227.06,1051.03 1233.51,1052.65 1239.96,1058.01 1246.41,1063.7 1252.86,1068.19 1259.31,1075.21 1265.76,1079.69 1272.22,1080.48 1278.67,1081.66 1285.12,1088.01 1291.57,1095.45 1298.02,1096.86 1304.47,1097.64 1310.92,1101.27 1317.37,1108.11 1323.82,1112.98 1330.27,1111.68 1336.72,1110.73 1343.18,1116.46 1349.63,1120.78 1356.08,1123.27 1362.53,1126.52 1368.98,1125.71 1375.43,1127.91 1381.88,1127.38 1388.33,1131.54 1394.78,1133.04 1401.23,1131.69 1407.68,1133 1414.14,1138.83 1420.59,1144.28 1427.04,1145.91 1433.49,1149.68 1439.94,1153.55 1446.39,1156.73 1452.84,1159.33 1459.29,1159.5 1465.74,1165.18 1472.19,1168.45 1478.64,1173.82 1485.1,1176.77 1491.55,1178.55 1498,1184.71 1504.45,1188.18 1510.9,1190.15 1517.35,1197.12 1523.8,1198.44 1530.25,1202.45 1536.7,1205.81 1543.15,1208.43 1549.61,1209.87 1556.06,1216.44 1562.51,1219.01 1568.96,1224.75 1575.41,1227.69 1581.86,1230.81 1588.31,1236.04 1594.76,1238.97 1601.21,1240.73 1607.66,1241.08 1614.11,1239.73 1620.57,1242.54 1627.02,1244.1 1633.47,1244.37 1639.92,1243.22 1646.37,1242.27 1652.82,1241.31 1659.27,1245.32 1665.72,1249.9 1672.17,1248.7 1678.62,1253.17 1685.07,1254.59 1691.53,1253.89 1697.98,1254.74 1704.43,1256.47 1710.88,1254.32 1717.33,1256.77 1723.78,1257.2 1730.23,1255.7 1736.68,1259.16 1743.13,1260.78 1749.58,1261.25 1756.03,1261.21 1762.49,1263.69 1768.94,1264.24 1775.39,1267.49 1781.84,1270.24 1788.29,1270.97 1794.74,1272.94 1801.19,1269.08 1807.64,1270.63 1814.09,1272.02 1820.54,1269.87 1826.99,1268.41 1833.45,1270.57 1839.9,1268.73 1846.35,1268.69 1852.8,1270.47 1859.25,1270.6 1865.7,1273.56" fill="none" stroke="#1A3956" stroke-width="1.1" stroke-linejoin="round" stroke-linecap="butt"/>
<polyline points="1091.59,972.53 1098.04,972.16 1104.49,975.34 1110.94,975.5 1117.39,981.13 1123.84,986.89 1130.3,993.51 1136.75,995.52 1143.2,999.14 1149.65,1006.75 1156.1,1013.84 1162.55,1015.29 1169,1020.17 1175.45,1023.25 1181.9,1032.52 1188.35,1037.73 1194.8,1046.38 1201.26,1050.62 1207.71,1055.88 1214.16,1061.23 1220.61,1069.32 1227.06,1072.09 1233.51,1080.91 1239.96,1089.57 1246.41,1094.59 1252.86,1104.95 1259.31,1114.95 1265.76,1121.71 1272.22,1126.96 1278.67,1130.47 1285.12,1135.41 1291.57,1144.95 1298.02,1149.86 1304.47,1153.25 1310.92,1161.63 1317.37,1165.03 1323.82,1170.46 1330.27,1173.38 1336.72,1178.09 1343.18,1177.13 1349.63,1178.1 1356.08,1176.48 1362.53,1177.84 1368.98,1180.71 1375.43,1183.01 1381.88,1184.94 1388.33,1182.21 1394.78,1185.28 1401.23,1189.1 1407.68,1190.98 1414.14,1195.03 1420.59,1196.76 1427.04,1197.53 1433.49,1198.65 1439.94,1203.57 1446.39,1208.83 1452.84,1211.75 1459.29,1213.69 1465.74,1217.77 1472.19,1221.23 1478.64,1222.48 1485.1,1229.12 1491.55,1234.72 1498,1238.68 1504.45,1242.43 1510.9,1243.74 1517.35,1247.76 1523.8,1251 1530.25,1255.92 1536.7,1258.1 1543.15,1259.97 1549.61,1265.62 1556.06,1272.04 1562.51,1276.66 1568.96,1280.17 1575.41,1279.69 1581.86,1283.62 1588.31,1284.58 1594.76,1285.33 1601.21,1283.77 1607.66,1288.11 1614.11,1287.33 1620.57,1289.53 1627.02,1292.94 1633.47,1292.17 1639.92,1289.9 1646.37,1289.58 1652.82,1292.85 1659.27,1289.26 1665.72,1290.07 1672.17,1288.91 1678.62,1286.94 1685.07,1288.32 1691.53,1288.46 1697.98,1289.11 1704.43,1291.3 1710.88,1293.48 1717.33,1291 1723.78,1291.04 1730.23,1288.07 1736.68,1291.21 1743.13,1292.57 1749.58,1294.86 1756.03,1291.93 1762.49,1290.73 1768.94,1289.31 1775.39,1291.13 1781.84,1295.91 1788.29,1298.38 1794.74,1302.16 1801.19,1307.29 1807.64,1308.52 1814.09,1311.94 1820.54,1316.63 1826.99,1318.39 1833.45,1317.45 1839.9,1316.92 1846.35,1320.13 1852.8,1325.8 1859.25,1326.52 1865.7,1331.94" fill="none" stroke="#28557C" stroke-width="1.1" stroke-linejoin="round" stroke-linecap="butt"/>
<polyline points="1091.59,993.76 1098.04,997.72 1104.49,995.05 1110.94,995.83 1117.39,997.31 1123.84,999.83 1130.3,1000.63 1136.75,998.88 1143.2,1001.28 1149.65,1005.08 1156.1,1006.52 1162.55,1005.22 1169,1008.62 1175.45,1010.62 1181.9,1010.7 1188.35,1015.12 1194.8,1015.95 1201.26,1018.9 1207.71,1024.47 1214.16,1030.28 1220.61,1029.6 1227.06,1032.59 1233.51,1035.73 1239.96,1035.59 1246.41,1039.28 1252.86,1044.7 1259.31,1051.65 1265.76,1055.3 1272.22,1062.6 1278.67,1068.31 1285.12,1072.3 1291.57,1077.9 1298.02,1086.95 1304.47,1095.35 1310.92,1100.28 1317.37,1105.35 1323.82,1114.17 1330.27,1115.33 1336.72,1123.04 1343.18,1130.32 1349.63,1138.03 1356.08,1143.11 1362.53,1146.72 1368.98,1148.29 1375.43,1155.1 1381.88,1158.04 1388.33,1165.35 1394.78,1169.14 1401.23,1175.33 1407.68,1180.59 1414.14,1187.87 1420.59,1190.2 1427.04,1196.9 1433.49,1198.86 1439.94,1204.02 1446.39,1207.25 1452.84,1210.2 1459.29,1214.25 1465.74,1215.55 1472.19,1216.75 1478.64,1222.35 1485.1,1226.8 1491.55,1227.2 1498,1232.88 1504.45,1236.08 1510.9,1239.11 1517.35,1238.04 1523.8,1243.09 1530.25,1244.01 1536.7,1244.23 1543.15,1244.7 1549.61,1250.22 1556.06,1248.55 1562.51,1251.19 1568.96,1249.79 1575.41,1249.87 1581.86,1251.58 1588.31,1250.2 1594.76,1250.07 1601.21,1252.25 1607.66,1251.44 1614.11,1252.26 1620.57,1251.54 1627.02,1251.55 1633.47,1250.3 1639.92,1253.58 1646.37,1254.16 1652.82,1258.08 1659.27,1256.11 1665.72,1254.54 1672.17,1252.67 1678.62,1256.11 1685.07,1255.73 1691.53,1255.8 1697.98,1258.35 1704.43,1260.06 1710.88,1256.3 1717.33,1253.89 1723.78,1256.09 1730.23,1254.05 1736.68,1253.61 1743.13,1255.18 1749.58,1254.92 1756.03,1257.73 1762.49,1260.08 1768.94,1264.16 1775.39,1263.52 1781.84,1263.7 1788.29,1262.99 1794.74,1264.13 1801.19,1265.86 1807.64,1268.53 1814.09,1268.21 1820.54,1270.72 1826.99,1271.68 1833.45,1271.72 1839.9,1274.23 1846.35,1275.1 1852.8,1280.48 1859.25,1284.17 1865.7,1283.76" fill="none" stroke="#153049" stroke-width="1.1" stroke-linejoin="round" stroke-linecap="butt"/>
<polyline points="1091.59,978.28 1098.04,985.37 1104.49,992.37 1110.94,993.78 1117.39,999.98 1123.84,1003.36 1130.3,1007.21 1136.75,1008.73 1143.2,1012.64 1149.65,1016.06 1156.1,1022.74 1162.55,1023.52 1169,1025.5 1175.45,1029.26 1181.9,1031.43 1188.35,1035.12 1194.8,1037.88 1201.26,1039.54 1207.71,1042.73 1214.16,1049.73 1220.61,1049.98 1227.06,1049.5 1233.51,1054.5 1239.96,1059.8 1246.41,1063.67 1252.86,1069.99 1259.31,1073.92 1265.76,1079.55 1272.22,1083.87 1278.67,1089.45 1285.12,1091.92 1291.57,1095.59 1298.02,1096.34 1304.47,1099.88 1310.92,1105.13 1317.37,1105.02 1323.82,1105.19 1330.27,1106.3 1336.72,1111.24 1343.18,1115.09 1349.63,1118.98 1356.08,1123.6 1362.53,1130.83 1368.98,1134.5 1375.43,1136.5 1381.88,1139.71 1388.33,1142.36 1394.78,1146.9 1401.23,1151.38 1407.68,1155.58 1414.14,1159.88 1420.59,1165.41 1427.04,1173.72 1433.49,1180.17 1439.94,1186.61 1446.39,1191.43 1452.84,1197.49 1459.29,1205.27 1465.74,1214.38 1472.19,1221.91 1478.64,1229.27 1485.1,1232.64 1491.55,1235.18 1498,1241.52 1504.45,1244.83 1510.9,1245.64 1517.35,1249.61 1523.8,1254.91 1530.25,1255.97 1536.7,1258.46 1543.15,1262.03 1549.61,1264.04 1556.06,1267.51 1562.51,1269.18 1568.96,1268.55 1575.41,1270 1581.86,1271.78 1588.31,1269.44 1594.76,1264.44 1601.21,1260.79 1607.66,1261.01 1614.11,1257.06 1620.57,1259.41 1627.02,1261.06 1633.47,1263.61 1639.92,1265.66 1646.37,1263.93 1652.82,1261.6 1659.27,1261.79 1665.72,1260.07 1672.17,1261.32 1678.62,1259.2 1685.07,1259.91 1691.53,1261.49 1697.98,1265.92 1704.43,1268.59 1710.88,1271.42 1717.33,1271.87 1723.78,1276.97 1730.23,1281.63 1736.68,1282.77 1743.13,1289.55 1749.58,1292.93 1756.03,1298.71 1762.49,1301.34 1768.94,1304.72 1775.39,1311.7 1781.84,1313.99 1788.29,1318.72 1794.74,1323.79 1801.19,1324.95 1807.64,1326.87 1814.09,1332.1 1820.54,1334.42 1826.99,1340.51 1833.45,1343.3 1839.9,1348.9 1846.35,1350.06 1852.8,1349.22 1859.25,1350.4 1865.7,1355.52" fill="none" stroke="#4691CD" stroke-width="1.1" stroke-linejoin="round" stroke-linecap="butt"/>
<polyline points="1091.59,966.74 1098.04,968.29 1104.49,970.06 1110.94,973.85 1117.39,976.56 1123.84,978.01 1130.3,982.58 1136.75,983.07 1143.2,986.84 1149.65,990.2 1156.1,994.91 1162.55,997.98 1169,997.01 1175.45,1001.21 1181.9,1006.68 1188.35,1010.23 1194.8,1009.67 1201.26,1015.54 1207.71,1019.43 1214.16,1024.24 1220.61,1025.71 1227.06,1029 1233.51,1034.9 1239.96,1035.34 1246.41,1040.96 1252.86,1045.21 1259.31,1051.35 1265.76,1054.64 1272.22,1063.94 1278.67,1071.75 1285.12,1079.18 1291.57,1086.89 1298.02,1090.67 1304.47,1097.03 1310.92,1104.54 1317.37,1110.88 1323.82,1113.99 1330.27,1118 1336.72,1122.88 1343.18,1126.27 1349.63,1130.06 1356.08,1135.33 1362.53,1139.88 1368.98,1145.67 1375.43,1148.99 1381.88,1149.21 1388.33,1153.67 1394.78,1157.5 1401.23,1159.54 1407.68,1161.76 1414.14,1166.86 1420.59,1169.77 1427.04,1170.63 1433.49,1176.42 1439.94,1181.33 1446.39,1181.46 1452.84,1180.81 1459.29,1186.26 1465.74,1191.22 1472.19,1192.09 1478.64,1195.31 1485.1,1195.45 1491.55,1200.06 1498,1201.41 1504.45,1204.83 1510.9,1206.88 1517.35,1206.41 1523.8,1207.49 1530.25,1206.29 1536.7,1205.56 1543.15,1206.68 1549.61,1206.35 1556.06,1210.77 1562.51,1212.35 1568.96,1214.99 1575.41,1215.39 1581.86,1219.49 1588.31,1217.97 1594.76,1220.4 1601.21,1219.91 1607.66,1218.62 1614.11,1217.75 1620.57,1221.02 1627.02,1220.95 1633.47,1220.19 1639.92,1225.77 1646.37,1226.72 1652.82,1227.99 1659.27,1231.26 1665.72,1235.7 1672.17,1240.55 1678.62,1242.99 1685.07,1241.81 1691.53,1244.7 1697.98,1248.53 1704.43,1249.68 1710.88,1252.23 1717.33,1253.56 1723.78,1256.13 1730.23,1259.85 1736.68,1265.16 1743.13,1264.75 1749.58,1265.81 1756.03,1269.92 1762.49,1272.09 1768.94,1273.76 1775.39,1276.08 1781.84,1275.71 1788.29,1276.53 1794.74,1280.68 1801.19,1284.4 1807.64,1286.09 1814.09,1290.97 1820.54,1290.23 1826.99,1295.99 1833.45,1298.21 1839.9,1301.99 1846.35,1303.85 1852.8,1309.06 1859.25,1312.68 1865.7,1310.84" fill="none" stroke="#4EA1E2" stroke-width="1.1" stroke-linejoin="round" stroke-linecap="butt"/>
<polyline points="1091.59,977.57 1098.04,982.07 1104.49,984.54 1110.94,989.75 1117.39,993.84 1123.84,997.06 1130.3,994.96 1136.75,998.22 1143.2,1001.73 1149.65,1006.26 1156.1,1010.15 1162.55,1007.69 1169,1008.04 1175.45,1007.8 1181.9,1008.45 1188.35,1009.68 1194.8,1014.7 1201.26,1020.02 1207.71,1024.33 1214.16,1029.89 1220.61,1034.4 1227.06,1035.01 1233.51,1037.55 1239.96,1043.55 1246.41,1048.35 1252.86,1050.61 1259.31,1053.4 1265.76,1057.53 1272.22,1062.03 1278.67,1065.66 1285.12,1072.41 1291.57,1080.74 1298.02,1087.8 1304.47,1097.09 1310.92,1108.04 1317.37,1117.24 1323.82,1124.07 1330.27,1131.98 1336.72,1139.98 1343.18,1146.63 1349.63,1152.39 1356.08,1154.12 1362.53,1159.13 1368.98,1161.07 1375.43,1163.91 1381.88,1167.92 1388.33,1173.75 1394.78,1178.78 1401.23,1184.01 1407.68,1186.6 1414.14,1187.59 1420.59,1189.11 1427.04,1194.03 1433.49,1199.5 1439.94,1205.4 1446.39,1206.71 1452.84,1210.39 1459.29,1215.21 1465.74,1217.46 1472.19,1219.97 1478.64,1222.2 1485.1,1220.59 1491.55,1219.69 1498,1220.97 1504.45,1218.99 1510.9,1220.86 1517.35,1217.61 1523.8,1220.32 1530.25,1219.51 1536.7,1218.12 1543.15,1216.83 1549.61,1217.53 1556.06,1215.54 1562.51,1215.15 1568.96,1214.52 1575.41,1218.35 1581.86,1221.17 1588.31,1221.95 1594.76,1222.34 1601.21,1226.05 1607.66,1225.16 1614.11,1227.42 1620.57,1228.85 1627.02,1230.15 1633.47,1229.47 1639.92,1232.95 1646.37,1234.62 1652.82,1236.16 1659.27,1237.57 1665.72,1241.57 1672.17,1245.62 1678.62,1247.74 1685.07,1249.02 1691.53,1250.15 1697.98,1254.95 1704.43,1257.3 1710.88,1258.83 1717.33,1262.94 1723.78,1267.4 1730.23,1265.82 1736.68,1270.86 1743.13,1272.14 1749.58,1274.79 1756.03,1279.03 1762.49,1281.18 1768.94,1283.86 1775.39,1284.59 1781.84,1281.72 1788.29,1284.87 1794.74,1285.58 1801.19,1283.75 1807.64,1282.52 1814.09,1285.48 1820.54,1286.53 1826.99,1286.96 1833.45,1282.97 1839.9,1282.44 1846.35,1283.1 1852.8,1282.01 1859.25,1280.88 1865.7,1282.07" fill="none" stroke="#2B5A82" stroke-width="1.1" stroke-linejoin="round" stroke-linecap="butt"/>
<polyline points="1091.59,954.12 1098.04,956.01 1104.49,959.78 1110.94,963.11 1117.39,964.85 1123.84,965.53 1130.3,969.34 1136.75,977.39 1143.2,981.8 1149.65,985.09 1156.1,990.75 1162.55,993.78 1169,999.54 1175.45,1003.85 1181.9,1008.28 1188.35,1012.43 1194.8,1014.95 1201.26,1019.28 1207.71,1023.7 1214.16,1028.24 1220.61,1036.09 1227.06,1040.95 1233.51,1045.76 1239.96,1054.42 1246.41,1058.93 1252.86,1068.39 1259.31,1075.7 1265.76,1082.71 1272.22,1088.29 1278.67,1093.67 1285.12,1101.35 1291.57,1105.82 1298.02,1113.92 1304.47,1120.93 1310.92,1124.89 1317.37,1133.66 1323.82,1138.19 1330.27,1139.42 1336.72,1146.83 1343.18,1148.9 1349.63,1151.89 1356.08,1155.6 1362.53,1157 1368.98,1157.3 1375.43,1162.64 1381.88,1165.15 1388.33,1166.62 1394.78,1167.49 1401.23,1166.57 1407.68,1166.92 1414.14,1167.24 1420.59,1172.96 1427.04,1175.69 1433.49,1174.95 1439.94,1174.29 1446.39,1175.25 1452.84,1179.25 1459.29,1180.02 1465.74,1182.6 1472.19,1184.23 1478.64,1186 1485.1,1185.91 1491.55,1187.13 1498,1186.73 1504.45,1189.95 1510.9,1193.1 1517.35,1195.07 1523.8,1197.79 1530.25,1204.07 1536.7,1203.69 1543.15,1208.14 1549.61,1211.19 1556.06,1217.26 1562.51,1221.5 1568.96,1220.47 1575.41,1224.4 1581.86,1228.07 1588.31,1228.12 1594.76,1232.46 1601.21,1233.72 1607.66,1235.89 1614.11,1235.92 1620.57,1239.22 1627.02,1243.53 1633.47,1248.2 1639.92,1251.97 1646.37,1258.18 1652.82,1263.21 1659.27,1267.81 1665.72,1271.1 1672.17,1271.18 1678.62,1270.02 1685.07,1273.37 1691.53,1277.36 1697.98,1280.88 1704.43,1281.98 1710.88,1284.27 1717.33,1289.08 1723.78,1290.79 1730.23,1294.32 1736.68,1298.56 1743.13,1298.13 1749.58,1302.69 1756.03,1304.63 1762.49,1304.31 1768.94,1305.79 1775.39,1305.01 1781.84,1308.35 1788.29,1307.13 1794.74,1312.3 1801.19,1311.12 1807.64,1313.46 1814.09,1318.53 1820.54,1321.35 1826.99,1318.9 1833.45,1318.7 1839.9,1318.47 1846.35,1317.83 1852.8,1322.88 1859.25,1325.3 1865.7,1326.39" fill="none" stroke="#2F638F" stroke-width="1.1" stroke-linejoin="round" stroke-linecap="butt"/>
<polyline points="1091.59,956.35 1098.04,954.28 1104.49,957.81 1110.94,955.29 1117.39,956.24 1123.84,959.01 1130.3,963.65 1136.75,966 1143.2,967.82 1149.65,970.31 1156.1,973.93 1162.55,973.21 1169,976.32 1175.45,980.7 1181.9,981.85 1188.35,987.09 1194.8,991.08 1201.26,997.42 1207.71,1002.75 1214.16,1002.91 1220.61,1006.35 1227.06,1010.81 1233.51,1014.46 1239.96,1018.46 1246.41,1024.84 1252.86,1033.55 1259.31,1043.79 1265.76,1054.67 1272.22,1064.66 1278.67,1072.52 1285.12,1083.32 1291.57,1089.45 1298.02,1098.15 1304.47,1107.46 1310.92,1116 1317.37,1123.12 1323.82,1131.1 1330.27,1132.88 1336.72,1137.33 1343.18,1144.41 1349.63,1150.78 1356.08,1151.05 1362.53,1153.17 1368.98,1156.4 1375.43,1156.31 1381.88,1160.75 1388.33,1158.76 1394.78,1156.56 1401.23,1156.39 1407.68,1160.4 1414.14,1161.26 1420.59,1159.13 1427.04,1158.89 1433.49,1161.31 1439.94,1163.28 1446.39,1166.23 1452.84,1165.76 1459.29,1167.81 1465.74,1167.97 1472.19,1165.22 1478.64,1162.87 1485.1,1163.59 1491.55,1162.51 1498,1166.39 1504.45,1164.59 1510.9,1164.01 1517.35,1166.6 1523.8,1166.62 1530.25,1171.24 1536.7,1171.16 1543.15,1176.23 1549.61,1177.15 1556.06,1179 1562.51,1179.94 1568.96,1182.76 1575.41,1190.32 1581.86,1196.13 1588.31,1199.23 1594.76,1200.78 1601.21,1204.27 1607.66,1212.32 1614.11,1217.8 1620.57,1223.16 1627.02,1229.55 1633.47,1235.27 1639.92,1238.72 1646.37,1243.15 1652.82,1248.14 1659.27,1251.86 1665.72,1251.74 1672.17,1254.23 1678.62,1255.13 1685.07,1254.82 1691.53,1260.86 1697.98,1260.4 1704.43,1265.44 1710.88,1269.19 1717.33,1268.73 1723.78,1268.19 1730.23,1268.6 1736.68,1269.82 1743.13,1269.1 1749.58,1270.37 1756.03,1272.98 1762.49,1274.96 1768.94,1277.31 1775.39,1279.78 1781.84,1275.51 1788.29,1271.65 1794.74,1272.15 1801.19,1272.05 1807.64,1272.8 1814.09,1269.94 1820.54,1269.38 1826.99,1271.11 1833.45,1267.74 1839.9,1264.53 1846.35,1267.87 1852.8,1268.09 1859.25,1270.09 1865.7,1269.17" fill="none" stroke="#214769" stroke-width="1.1" stroke-linejoin="round" stroke-linecap="butt"/>
<polyline points="1091.59,971.72 1098.04,976.89 1104.49,981.76 1110.94,984.29 1117.39,987.56 1123.84,990.86 1130.3,993.15 1136.75,997.26 1143.2,997.97 1149.65,1002.45 1156.1,1004.3 1162.55,1005.3 1169,1009.36 1175.45,1014.19 1181.9,1017.55 1188.35,1021.51 1194.8,1029.01 1201.26,1034.51 1207.71,1041.56 1214.16,1049.1 1220.61,1051.54 1227.06,1056.54 1233.51,1061.81 1239.96,1068.37 1246.41,1075.62 1252.86,1079.19 1259.31,1085.08 1265.76,1090.31 1272.22,1093.83 1278.67,1095.9 1285.12,1099.88 1291.57,1107.48 1298.02,1109.48 1304.47,1117.38 1310.92,1122.22 1317.37,1126.65 1323.82,1132.53 1330.27,1132.6 1336.72,1134.96 1343.18,1136.73 1349.63,1142.64 1356.08,1143.49 1362.53,1147.99 1368.98,1149.41 1375.43,1150.19 1381.88,1154.1 1388.33,1158.31 1394.78,1161.99 1401.23,1161.18 1407.68,1163.13 1414.14,1166.6 1420.59,1169.52 1427.04,1171.94 1433.49,1177.29 1439.94,1183.81 1446.39,1189.86 1452.84,1192.48 1459.29,1195.23 1465.74,1195.6 1472.19,1198.96 1478.64,1200.73 1485.1,1201.52 1491.55,1206.11 1498,1211.17 1504.45,1215.79 1510.9,1221.05 1517.35,1223.5 1523.8,1227.43 1530.25,1234.5 1536.7,1235.45 1543.15,1239.73 1549.61,1242.41 1556.06,1246.52 1562.51,1250.01 1568.96,1253.56 1575.41,1260.27 1581.86,1266.44 1588.31,1268.11 1594.76,1272.57 1601.21,1278.36 1607.66,1279.06 1614.11,1280.46 1620.57,1281.88 1627.02,1286.01 1633.47,1291.68 1639.92,1292.6 1646.37,1297.4 1652.82,1298.72 1659.27,1299.9 1665.72,1304.05 1672.17,1309.7 1678.62,1310.57 1685.07,1310.08 1691.53,1311.14 1697.98,1309.44 1704.43,1313.23 1710.88,1313.17 1717.33,1315.2 1723.78,1316.02 1730.23,1318.69 1736.68,1321.54 1743.13,1321.85 1749.58,1321.72 1756.03,1319.5 1762.49,1319.62 1768.94,1320.41 1775.39,1320.02 1781.84,1319.79 1788.29,1321.03 1794.74,1322.9 1801.19,1321.6 1807.64,1322.41 1814.09,1325.45 1820.54,1327.13 1826.99,1327.23 1833.45,1324.98 1839.9,1323.13 1846.35,1322.58 1852.8,1319.78 1859.25,1320.63 1865.7,1321.16" fill="none" stroke="#4997D4" stroke-width="1.1" stroke-linejoin="round" stroke-linecap="butt"/>
<polyline points="1091.59,943.55 1098.04,945.61 1104.49,949.61 1110.94,950.37 1117.39,957.44 1123.84,960.59 1130.3,962.02 1136.75,963.94 1143.2,970.89 1149.65,973.29 1156.1,977.81 1162.55,979.53 1169,985.97 1175.45,990.11 1181.9,994.52 1188.35,996.61 1194.8,1003.54 1201.26,1009.89 1207.71,1017.9 1214.16,1021.67 1220.61,1029.77 1227.06,1032.09 1233.51,1039.51 1239.96,1046.25 1246.41,1048.52 1252.86,1055.4 1259.31,1060.41 1265.76,1068.36 1272.22,1076.75 1278.67,1083.93 1285.12,1086.84 1291.57,1095.69 1298.02,1099.23 1304.47,1103.13 1310.92,1108.57 1317.37,1116.83 1323.82,1120.45 1330.27,1121.49 1336.72,1124.88 1343.18,1130.75 1349.63,1133.55 1356.08,1133.97 1362.53,1136.76 1368.98,1141.89 1375.43,1146.27 1381.88,1147.43 1388.33,1152.74 1394.78,1158.02 1401.23,1160.44 1407.68,1163.77 1414.14,1165.45 1420.59,1170.21 1427.04,1171.47 1433.49,1172.21 1439.94,1175.78 1446.39,1177.57 1452.84,1179.99 1459.29,1180.81 1465.74,1183.5 1472.19,1185.95 1478.64,1188.97 1485.1,1189.97 1491.55,1196.31 1498,1202.22 1504.45,1202.69 1510.9,1203.77 1517.35,1210.85 1523.8,1211.4 1530.25,1214.27 1536.7,1215.5 1543.15,1218.04 1549.61,1222.89 1556.06,1229.21 1562.51,1230.21 1568.96,1231.75 1575.41,1235.02 1581.86,1239.51 1588.31,1243.06 1594.76,1242.45 1601.21,1245.37 1607.66,1249.87 1614.11,1248.64 1620.57,1247.76 1627.02,1252.64 1633.47,1256.93 1639.92,1257.13 1646.37,1259.78 1652.82,1261.59 1659.27,1261.83 1665.72,1264.94 1672.17,1265.47 1678.62,1268.29 1685.07,1270.65 1691.53,1270.5 1697.98,1271.18 1704.43,1268.57 1710.88,1271.45 1717.33,1268.68 1723.78,1270.76 1730.23,1272.07 1736.68,1274.88 1743.13,1275.96 1749.58,1272.39 1756.03,1273.58 1762.49,1271.44 1768.94,1268.69 1775.39,1268.31 1781.84,1271.63 1788.29,1272.97 1794.74,1275.98 1801.19,1278.21 1807.64,1279.74 1814.09,1282.42 1820.54,1281.43 1826.99,1281.83 1833.45,1283.99 1839.9,1286.35 1846.35,1289.42 1852.8,1292.54 1859.25,1293.28 1865.7,1296.67" fill="none" stroke="#53ACF0" stroke-width="1.1" stroke-linejoin="round" stroke-linecap="butt"/>
<polyline points="1091.59,953.9 1098.04,957.61 1104.49,957.53 1110.94,961.16 1117.39,960.53 1123.84,959.57 1130.3,959.49 1136.75,964.85 1143.2,965.06 1149.65,968.71 1156.1,969.41 1162.55,973.26 1169,976.53 1175.45,981.73 1181.9,983.19 1188.35,987.47 1194.8,988.01 1201.26,990.01 1207.71,994.01 1214.16,1000.6 1220.61,1005.09 1227.06,1008.35 1233.51,1011.89 1239.96,1013.88 1246.41,1020.98 1252.86,1025.61 1259.31,1027.37 1265.76,1029.13 1272.22,1033.13 1278.67,1037.31 1285.12,1042.38 1291.57,1045 1298.02,1049.47 1304.47,1056.4 1310.92,1063 1317.37,1066.49 1323.82,1072.28 1330.27,1076.74 1336.72,1083.24 1343.18,1087.08 1349.63,1092.25 1356.08,1094.25 1362.53,1095.77 1368.98,1097 1375.43,1098.86 1381.88,1107.22 1388.33,1114.83 1394.78,1120.17 1401.23,1122.12 1407.68,1126.39 1414.14,1132.72 1420.59,1139.86 1427.04,1145.6 1433.49,1151.98 1439.94,1157.96 1446.39,1159.55 1452.84,1165.21 1459.29,1170.82 1465.74,1173.09 1472.19,1178.9 1478.64,1179.45 1485.1,1181.24 1491.55,1181.61 1498,1183.32 1504.45,1185.12 1510.9,1190.23 1517.35,1193.97 1523.8,1197.86 1530.25,1201.5 1536.7,1201.42 1543.15,1204.91 1549.61,1205.75 1556.06,1207.77 1562.51,1213.05 1568.96,1216.99 1575.41,1218.1 1581.86,1217.78 1588.31,1221.49 1594.76,1224.79 1601.21,1226.96 1607.66,1228.44 1614.11,1230.15 1620.57,1228.3 1627.02,1228.98 1633.47,1231.98 1639.92,1234.28 1646.37,1235.29 1652.82,1238.69 1659.27,1240.2 1665.72,1243.9 1672.17,1243.09 1678.62,1240.51 1685.07,1238.05 1691.53,1237.99 1697.98,1239.43 1704.43,1239.52 1710.88,1239.66 1717.33,1242.43 1723.78,1242.39 1730.23,1242.69 1736.68,1245.05 1743.13,1245.48 1749.58,1243.2 1756.03,1242.58 1762.49,1244.24 1768.94,1246.39 1775.39,1245.64 1781.84,1245.58 1788.29,1247.35 1794.74,1247.65 1801.19,1248.42 1807.64,1247.66 1814.09,1245.33 1820.54,1246.85 1826.99,1247.15 1833.45,1247.34 1839.9,1246.89 1846.35,1249.53 1852.8,1251.94 1859.25,1249.53 1865.7,1252.9" fill="none" stroke="#448CC6" stroke-width="1.1" stroke-linejoin="round" stroke-linecap="butt"/>
<polyline points="1091.59,944.89 1098.04,950.48 1104.49,954.21 1110.94,958.15 1117.39,963.44 1123.84,968.86 1130.3,969 1136.75,976.11 1143.2,982.02 1149.65,983.46 1156.1,987.59 1162.55,992.76 1169,993.84 1175.45,993.9 1181.9,999.61 1188.35,1001.49 1194.8,1005.55 1201.26,1005.23 1207.71,1007.93 1214.16,1008.46 1220.61,1010.71 1227.06,1016.52 1233.51,1019.65 1239.96,1020.74 1246.41,1026.67 1252.86,1033.7 1259.31,1034.05 1265.76,1035.2 1272.22,1038.48 1278.67,1045.81 1285.12,1048.45 1291.57,1049.45 1298.02,1052.24 1304.47,1055.68 1310.92,1061.17 1317.37,1065.25 1323.82,1066.76 1330.27,1070.69 1336.72,1077.62 1343.18,1083.81 1349.63,1084.3 1356.08,1087.05 1362.53,1088.16 1368.98,1094.54 1375.43,1101.04 1381.88,1103.42 1388.33,1107.92 1394.78,1112.32 1401.23,1118.63 1407.68,1121.54 1414.14,1124.71 1420.59,1128.61 1427.04,1134.81 1433.49,1140.55 1439.94,1146.96 1446.39,1152.8 1452.84,1159.57 1459.29,1165.18 1465.74,1167.33 1472.19,1170.92 1478.64,1179.08 1485.1,1182.72 1491.55,1185.33 1498,1191.3 1504.45,1193.18 1510.9,1194.81 1517.35,1202.55 1523.8,1205.82 1530.25,1210.64 1536.7,1214.53 1543.15,1217.59 1549.61,1218.32 1556.06,1220.58 1562.51,1220.49 1568.96,1224.9 1575.41,1225.06 1581.86,1228.03 1588.31,1232.13 1594.76,1231.5 1601.21,1232.53 1607.66,1235.9 1614.11,1234.29 1620.57,1235.69 1627.02,1235.71 1633.47,1233.64 1639.92,1236.43 1646.37,1237.48 1652.82,1238.49 1659.27,1241.3 1665.72,1242.21 1672.17,1240.11 1678.62,1239.79 1685.07,1242.62 1691.53,1242.39 1697.98,1242.83 1704.43,1245.13 1710.88,1245.29 1717.33,1247.72 1723.78,1247.34 1730.23,1250.02 1736.68,1249.69 1743.13,1253.37 1749.58,1257.83 1756.03,1261.04 1762.49,1265.67 1768.94,1264.98 1775.39,1263.96 1781.84,1267.47 1788.29,1272.2 1794.74,1272.22 1801.19,1272.87 1807.64,1278.03 1814.09,1282.57 1820.54,1285.63 1826.99,1291.24 1833.45,1296.02 1839.9,1299.31 1846.35,1304.47 1852.8,1309.18 1859.25,1310.47 1865.7,1314" fill="none" stroke="#326895" stroke-width="1.1" stroke-linejoin="round" stroke-linecap="butt"/>
<polyline points="1091.59,925.08 1098.04,925.14 1104.49,927.6 1110.94,932.87 1117.39,934.57 1123.84,939.37 1130.3,940.77 1136.75,945.86 1143.2,949 1149.65,951.87 1156.1,955.24 1162.55,958.39 1169,964.34 1175.45,971.31 1181.9,976.5 1188.35,977.56 1194.8,985.43 1201.26,991.26 1207.71,996.81 1214.16,1001.4 1220.61,1003.11 1227.06,1010.08 1233.51,1017.32 1239.96,1024.95 1246.41,1031.15 1252.86,1035.86 1259.31,1042.85 1265.76,1048.64 1272.22,1055.63 1278.67,1063.81 1285.12,1071.84 1291.57,1082.64 1298.02,1086.92 1304.47,1093.23 1310.92,1104.2 1317.37,1114.17 1323.82,1118.99 1330.27,1124.66 1336.72,1128.67 1343.18,1132.84 1349.63,1141.34 1356.08,1144.8 1362.53,1152.31 1368.98,1159.24 1375.43,1161.61 1381.88,1163.67 1388.33,1169.45 1394.78,1174.39 1401.23,1176.67 1407.68,1181.98 1414.14,1185.95 1420.59,1185.98 1427.04,1192.25 1433.49,1192.44 1439.94,1193.27 1446.39,1193.5 1452.84,1199.13 1459.29,1204.64 1465.74,1208.06 1472.19,1213.12 1478.64,1212.4 1485.1,1213.97 1491.55,1213.6 1498,1215.8 1504.45,1217.8 1510.9,1216.51 1517.35,1221.2 1523.8,1224.74 1530.25,1223.6 1536.7,1224.54 1543.15,1224.15 1549.61,1222.43 1556.06,1222.43 1562.51,1223.23 1568.96,1222.99 1575.41,1224.31 1581.86,1227.67 1588.31,1229.93 1594.76,1227.83 1601.21,1228.77 1607.66,1233.04 1614.11,1232.67 1620.57,1229.97 1627.02,1230.2 1633.47,1231.39 1639.92,1232.78 1646.37,1232.88 1652.82,1233.18 1659.27,1234.42 1665.72,1232.77 1672.17,1231.46 1678.62,1230.63 1685.07,1230.35 1691.53,1230.21 1697.98,1233.75 1704.43,1234.92 1710.88,1237.59 1717.33,1240.45 1723.78,1237.95 1730.23,1240.81 1736.68,1239.42 1743.13,1238.2 1749.58,1240.22 1756.03,1244.77 1762.49,1247.86 1768.94,1247.52 1775.39,1246.94 1781.84,1249.04 1788.29,1249.38 1794.74,1252.72 1801.19,1252.41 1807.64,1251.46 1814.09,1250.8 1820.54,1251.9 1826.99,1252.99 1833.45,1258.06 1839.9,1260.89 1846.35,1262.6 1852.8,1266.6 1859.25,1270.29 1865.7,1267.64" fill="none" stroke="#56B1F7" stroke-width="1.1" stroke-linejoin="round" stroke-linecap="butt"/>
<polyline points="1091.59,951.81 1098.04,954.14 1104.49,955.44 1110.94,955.47 1117.39,957.22 1123.84,960.3 1130.3,963.79 1136.75,963.35 1143.2,963.28 1149.65,968.96 1156.1,969.59 1162.55,971.58 1169,975.69 1175.45,977.13 1181.9,981.49 1188.35,982.29 1194.8,984.51 1201.26,986.54 1207.71,992.23 1214.16,991.71 1220.61,991.22 1227.06,992.49 1233.51,997.24 1239.96,998.9 1246.41,1006.02 1252.86,1011.04 1259.31,1017.67 1265.76,1023.5 1272.22,1030.8 1278.67,1039.71 1285.12,1046.22 1291.57,1054.59 1298.02,1063.54 1304.47,1071.54 1310.92,1081.24 1317.37,1091.75 1323.82,1094.96 1330.27,1104.2 1336.72,1107.58 1343.18,1114.82 1349.63,1124.25 1356.08,1131.41 1362.53,1137.71 1368.98,1146.58 1375.43,1151.81 1381.88,1160.85 1388.33,1167.53 1394.78,1171.24 1401.23,1174.2 1407.68,1181.9 1414.14,1187.58 1420.59,1189.28 1427.04,1195.52 1433.49,1202.7 1439.94,1208.43 1446.39,1209.46 1452.84,1214.17 1459.29,1216.28 1465.74,1216.4 1472.19,1218.8 1478.64,1223.73 1485.1,1225.73 1491.55,1228.54 1498,1229.91 1504.45,1230.14 1510.9,1227.8 1517.35,1227.68 1523.8,1228.78 1530.25,1227.62 1536.7,1228.68 1543.15,1231.78 1549.61,1231.23 1556.06,1233.42 1562.51,1235.4 1568.96,1235.93 1575.41,1235.76 1581.86,1238.79 1588.31,1239.28 1594.76,1235.69 1601.21,1235.79 1607.66,1237.04 1614.11,1237.74 1620.57,1236.95 1627.02,1237.88 1633.47,1239.68 1639.92,1240.41 1646.37,1243.52 1652.82,1243.85 1659.27,1246.34 1665.72,1247.04 1672.17,1250.51 1678.62,1251.56 1685.07,1255.97 1691.53,1258.32 1697.98,1260.8 1704.43,1266.75 1710.88,1271.69 1717.33,1274.22 1723.78,1274.83 1730.23,1275.51 1736.68,1276.36 1743.13,1277.83 1749.58,1278.45 1756.03,1284.73 1762.49,1290.97 1768.94,1296.93 1775.39,1298.03 1781.84,1303.48 1788.29,1307.7 1794.74,1312.76 1801.19,1312.14 1807.64,1316.6 1814.09,1320.51 1820.54,1321.61 1826.99,1321.93 1833.45,1326.86 1839.9,1327.5 1846.35,1328.43 1852.8,1329.05 1859.25,1329.83 1865.7,1328.51" fill="none" stroke="#2D5E88" stroke-width="1.1" stroke-linejoin="round" stroke-linecap="butt"/>
<polyline points="1091.59,919.16 1098.04,921.1 1104.49,926.98 1110.94,934.64 1117.39,938.94 1123.84,946.27 1130.3,949.44 1136.75,954.16 1143.2,957.04 1149.65,959.53 1156.1,962.97 1162.55,966.81 1169,973.16 1175.45,976.59 1181.9,980.81 1188.35,988.04 1194.8,990.53 1201.26,996.05 1207.71,1001.11 1214.16,1008.46 1220.61,1011.14 1227.06,1016.55 1233.51,1020.03 1239.96,1022.97 1246.41,1029.37 1252.86,1036.35 1259.31,1044.12 1265.76,1053.3 1272.22,1058.27 1278.67,1062.55 1285.12,1073.31 1291.57,1083.73 1298.02,1090.63 1304.47,1100.1 1310.92,1106.66 1317.37,1113.77 1323.82,1120.41 1330.27,1121.75 1336.72,1124.62 1343.18,1125.13 1349.63,1130.91 1356.08,1135.01 1362.53,1136.85 1368.98,1136.94 1375.43,1139.54 1381.88,1143.62 1388.33,1145.95 1394.78,1146.86 1401.23,1145.07 1407.68,1145.92 1414.14,1145.48 1420.59,1145.33 1427.04,1148.14 1433.49,1150.24 1439.94,1150.01 1446.39,1150.73 1452.84,1153.79 1459.29,1158.12 1465.74,1158.4 1472.19,1161.88 1478.64,1165.21 1485.1,1168.12 1491.55,1167.88 1498,1168.16 1504.45,1166.63 1510.9,1167.91 1517.35,1170.02 1523.8,1169.38 1530.25,1174.23 1536.7,1175.69 1543.15,1174.54 1549.61,1178.35 1556.06,1183.08 1562.51,1187.16 1568.96,1191.59 1575.41,1190.89 1581.86,1192.75 1588.31,1191.85 1594.76,1191.25 1601.21,1196.61 1607.66,1199.7 1614.11,1203.05 1620.57,1206.32 1627.02,1211.17 1633.47,1214.24 1639.92,1216.72 1646.37,1218.49 1652.82,1219.89 1659.27,1218.39 1665.72,1223.49 1672.17,1228.09 1678.62,1226.65 1685.07,1229.94 1691.53,1231.44 1697.98,1234.72 1704.43,1233.87 1710.88,1233.21 1717.33,1235.48 1723.78,1241.11 1730.23,1244.5 1736.68,1245.54 1743.13,1247.76 1749.58,1252.03 1756.03,1255.33 1762.49,1260.88 1768.94,1263.75 1775.39,1263.71 1781.84,1267.02 1788.29,1269.7 1794.74,1274.29 1801.19,1274.86 1807.64,1277.69 1814.09,1280.67 1820.54,1280.89 1826.99,1284.62 1833.45,1289.66 1839.9,1290.45 1846.35,1290.71 1852.8,1295.88 1859.25,1298.63 1865.7,1297.51" fill="none" stroke="#244C6F" stroke-width="1.1" stroke-linejoin="round" stroke-linecap="butt"/>
<polyline points="1091.59,924.85 1098.04,927.37 1104.49,931.78 1110.94,934.86 1117.39,935.8 1123.84,934.69 1130.3,936.2 1136.75,936.13 1143.2,940.37 1149.65,946.88 1156.1,951.2 1162.55,955.3 1169,961.08 1175.45,966.07 1181.9,965.16 1188.35,964.88 1194.8,970.33 1201.26,975.92 1207.71,975.12 1214.16,980.5 1220.61,984.8 1227.06,989.61 1233.51,994.47 1239.96,1000.49 1246.41,1004.32 1252.86,1007.22 1259.31,1015.41 1265.76,1020.5 1272.22,1028.24 1278.67,1031.3 1285.12,1034.14 1291.57,1037.82 1298.02,1044.2 1304.47,1053.29 1310.92,1058.09 1317.37,1067.52 1323.82,1071.04 1330.27,1077.11 1336.72,1078.85 1343.18,1085 1349.63,1087.7 1356.08,1092.16 1362.53,1097.8 1368.98,1100.65 1375.43,1103.79 1381.88,1108.63 1388.33,1110.37 1394.78,1112.15 1401.23,1112.9 1407.68,1116.54 1414.14,1118.05 1420.59,1122.46 1427.04,1124.3 1433.49,1128.07 1439.94,1127.84 1446.39,1131.95 1452.84,1135.1 1459.29,1139.63 1465.74,1142.28 1472.19,1143.21 1478.64,1146.33 1485.1,1149.8 1491.55,1147.79 1498,1150.32 1504.45,1153.5 1510.9,1155.35 1517.35,1154.27 1523.8,1154.33 1530.25,1153.68 1536.7,1155.95 1543.15,1159.81 1549.61,1162.49 1556.06,1168.09 1562.51,1168.38 1568.96,1167.89 1575.41,1167.29 1581.86,1167.71 1588.31,1169.72 1594.76,1170.79 1601.21,1175.64 1607.66,1178.45 1614.11,1184.07 1620.57,1184.09 1627.02,1187.42 1633.47,1193.08 1639.92,1192.89 1646.37,1195.62 1652.82,1201.23 1659.27,1202.18 1665.72,1204.91 1672.17,1207.58 1678.62,1207.89 1685.07,1212.3 1691.53,1216.69 1697.98,1218.79 1704.43,1223.38 1710.88,1224.23 1717.33,1226.7 1723.78,1230.96 1730.23,1235.41 1736.68,1239.21 1743.13,1239.85 1749.58,1238.21 1756.03,1237.69 1762.49,1236.97 1768.94,1238.37 1775.39,1238.05 1781.84,1241.08 1788.29,1243.53 1794.74,1241.89 1801.19,1244.9 1807.64,1245.06 1814.09,1245.58 1820.54,1249.59 1826.99,1249.58 1833.45,1247.97 1839.9,1245.92 1846.35,1247.36 1852.8,1245.33 1859.25,1249.47 1865.7,1247.15" fill="none" stroke="#1F4262" stroke-width="1.1" stroke-linejoin="round" stroke-linecap="butt"/>
<polyline points="1091.59,932.67 1098.04,934.59 1104.49,939.18 1110.94,942.66 1117.39,944.45 1123.84,950.56 1130.3,957 1136.75,959.48 1143.2,961.25 1149.65,967.72 1156.1,971.64 1162.55,975.78 1169,981.27 1175.45,982.93 1181.9,988.71 1188.35,990.84 1194.8,995.7 1201.26,1002.25 1207.71,1002.83 1214.16,1009.4 1220.61,1015.92 1227.06,1022.59 1233.51,1026.66 1239.96,1032.89 1246.41,1038.93 1252.86,1040.49 1259.31,1047.24 1265.76,1050.67 1272.22,1057.79 1278.67,1066.08 1285.12,1074.24 1291.57,1081.49 1298.02,1082.82 1304.47,1088.1 1310.92,1094.85 1317.37,1102.87 1323.82,1105.67 1330.27,1109.79 1336.72,1114.81 1343.18,1117.9 1349.63,1119.2 1356.08,1123.34 1362.53,1125.5 1368.98,1129.72 1375.43,1131.21 1381.88,1136.43 1388.33,1135.31 1394.78,1134.65 1401.23,1136.96 1407.68,1140.25 1414.14,1144.08 1420.59,1145.45 1427.04,1148.25 1433.49,1150.24 1439.94,1154.26 1446.39,1158.53 1452.84,1160.5 1459.29,1166.42 1465.74,1170.97 1472.19,1176.13 1478.64,1181.21 1485.1,1181.25 1491.55,1185.48 1498,1186.68 1504.45,1192.88 1510.9,1192.71 1517.35,1196.11 1523.8,1197.62 1530.25,1203.74 1536.7,1206.11 1543.15,1207.17 1549.61,1212.11 1556.06,1218.05 1562.51,1221.18 1568.96,1221.61 1575.41,1222.37 1581.86,1228.17 1588.31,1231.81 1594.76,1231.27 1601.21,1235.44 1607.66,1240.81 1614.11,1240.47 1620.57,1240.82 1627.02,1244.01 1633.47,1245.39 1639.92,1246.53 1646.37,1247.24 1652.82,1252.61 1659.27,1253.9 1665.72,1253.97 1672.17,1255.16 1678.62,1257.9 1685.07,1261.39 1691.53,1260.64 1697.98,1260.07 1704.43,1261.06 1710.88,1264.17 1717.33,1264.42 1723.78,1264.94 1730.23,1268.1 1736.68,1273.6 1743.13,1275.28 1749.58,1280.19 1756.03,1283.27 1762.49,1284.49 1768.94,1286.14 1775.39,1286.72 1781.84,1286.13 1788.29,1284.8 1794.74,1287.98 1801.19,1286.41 1807.64,1289.43 1814.09,1291.96 1820.54,1291.43 1826.99,1289.48 1833.45,1291.03 1839.9,1290.43 1846.35,1289.72 1852.8,1292.63 1859.25,1293.12 1865.7,1291.35" fill="none" stroke="#3977AA" stroke-width="1.1" stroke-linejoin="round" stroke-linecap="butt"/>
<polyline points="1091.59,909.86 1098.04,916.1 1104.49,917 1110.94,920.49 1117.39,925.15 1123.84,927.25 1130.3,932.5 1136.75,940.16 1143.2,946.09 1149.65,949.11 1156.1,953.23 1162.55,958.47 1169,966.72 1175.45,967.6 1181.9,975.33 1188.35,981.4 1194.8,983.84 1201.26,985.59 1207.71,989.46 1214.16,995.56 1220.61,998.98 1227.06,1003.08 1233.51,1007.83 1239.96,1011.09 1246.41,1017.05 1252.86,1024.08 1259.31,1032.87 1265.76,1037.67 1272.22,1047.13 1278.67,1056.12 1285.12,1061.06 1291.57,1070.17 1298.02,1073.01 1304.47,1080.7 1310.92,1086.05 1317.37,1092.63 1323.82,1096.49 1330.27,1098.17 1336.72,1102.74 1343.18,1104.55 1349.63,1103.37 1356.08,1108.2 1362.53,1111.73 1368.98,1114.48 1375.43,1117.59 1381.88,1121.07 1388.33,1117.73 1394.78,1114.89 1401.23,1119.1 1407.68,1117.89 1414.14,1118.88 1420.59,1122.64 1427.04,1121.67 1433.49,1126.48 1439.94,1127.53 1446.39,1128.69 1452.84,1130 1459.29,1134.83 1465.74,1140.22 1472.19,1142.19 1478.64,1146.69 1485.1,1148.78 1491.55,1150.24 1498,1156.97 1504.45,1158.68 1510.9,1159.03 1517.35,1163.88 1523.8,1167.56 1530.25,1173.07 1536.7,1174.71 1543.15,1181.26 1549.61,1188.43 1556.06,1192.32 1562.51,1196.06 1568.96,1198.93 1575.41,1204.42 1581.86,1204.68 1588.31,1208.03 1594.76,1212.36 1601.21,1214.08 1607.66,1220.81 1614.11,1220.98 1620.57,1222.02 1627.02,1227.19 1633.47,1230.64 1639.92,1236.75 1646.37,1237.15 1652.82,1236.43 1659.27,1238.55 1665.72,1237.93 1672.17,1240.89 1678.62,1240.38 1685.07,1240.1 1691.53,1239.28 1697.98,1241.74 1704.43,1243.52 1710.88,1248.3 1717.33,1246.11 1723.78,1250.06 1730.23,1250.04 1736.68,1249.78 1743.13,1252.4 1749.58,1253.39 1756.03,1254.5 1762.49,1257.39 1768.94,1257.13 1775.39,1256.94 1781.84,1254.38 1788.29,1252.17 1794.74,1248.3 1801.19,1245.36 1807.64,1246.96 1814.09,1245.89 1820.54,1244.37 1826.99,1242.36 1833.45,1245.09 1839.9,1246.21 1846.35,1245.31 1852.8,1246.66 1859.25,1243.81 1865.7,1244.87" fill="none" stroke="#1C3E5C" stroke-width="1.1" stroke-linejoin="round" stroke-linecap="butt"/>
<polyline points="1091.59,920.86 1098.04,926.42 1104.49,925.88 1110.94,925.16 1117.39,924.86 1123.84,929.17 1130.3,930.29 1136.75,930.89 1143.2,937.83 1149.65,944.55 1156.1,946.78 1162.55,946.9 1169,953.54 1175.45,953.77 1181.9,955.47 1188.35,958.52 1194.8,963.78 1201.26,966.18 1207.71,968.65 1214.16,973.16 1220.61,972.63 1227.06,973.58 1233.51,978.69 1239.96,980.38 1246.41,983.33 1252.86,985.07 1259.31,986.9 1265.76,989.76 1272.22,998.65 1278.67,1004.6 1285.12,1012.49 1291.57,1016.22 1298.02,1024.84 1304.47,1028.04 1310.92,1033.08 1317.37,1038.12 1323.82,1040.78 1330.27,1043.73 1336.72,1047.94 1343.18,1053.03 1349.63,1058.75 1356.08,1064.68 1362.53,1073.53 1368.98,1080.14 1375.43,1083.16 1381.88,1088.29 1388.33,1093.15 1394.78,1095.32 1401.23,1101.23 1407.68,1105.1 1414.14,1108.64 1420.59,1112.21 1427.04,1120.12 1433.49,1125.16 1439.94,1131.2 1446.39,1136.33 1452.84,1144.93 1459.29,1152.41 1465.74,1159.22 1472.19,1162.13 1478.64,1165.15 1485.1,1170.8 1491.55,1174.77 1498,1179.9 1504.45,1184.26 1510.9,1190.45 1517.35,1195.84 1523.8,1196.83 1530.25,1198.66 1536.7,1205.98 1543.15,1212.88 1549.61,1214.23 1556.06,1218.59 1562.51,1221 1568.96,1223.71 1575.41,1226.42 1581.86,1227.05 1588.31,1233.09 1594.76,1233.84 1601.21,1238.92 1607.66,1244.95 1614.11,1249 1620.57,1251.33 1627.02,1251.65 1633.47,1253.71 1639.92,1253.07 1646.37,1258.12 1652.82,1261.47 1659.27,1263.29 1665.72,1264.98 1672.17,1265.87 1678.62,1267.76 1685.07,1272.34 1691.53,1271.81 1697.98,1271.38 1704.43,1276.09 1710.88,1275.23 1717.33,1280.14 1723.78,1279.88 1730.23,1280.17 1736.68,1282.76 1743.13,1286.54 1749.58,1288.8 1756.03,1288.33 1762.49,1288.62 1768.94,1287.02 1775.39,1290.1 1781.84,1289.8 1788.29,1291.77 1794.74,1295.22 1801.19,1297.31 1807.64,1299.73 1814.09,1301.58 1820.54,1304.09 1826.99,1299.9 1833.45,1300.5 1839.9,1298.36 1846.35,1298.84 1852.8,1298.72 1859.25,1300.48 1865.7,1297.32" fill="none" stroke="#4187BF" stroke-width="1.1" stroke-linejoin="round" stroke-linecap="butt"/>
<polyline points="1091.59,920.61 1098.04,921.83 1104.49,924.57 1110.94,926.83 1117.39,934.48 1123.84,935.46 1130.3,939.38 1136.75,944.02 1143.2,948.57 1149.65,953.78 1156.1,955.2 1162.55,956.58 1169,958.12 1175.45,965.18 1181.9,968.95 1188.35,971.29 1194.8,977.08 1201.26,977.44 1207.71,978.83 1214.16,984.49 1220.61,988.32 1227.06,989.08 1233.51,988.39 1239.96,986.99 1246.41,991.69 1252.86,993.12 1259.31,996.29 1265.76,1000.83 1272.22,1005.87 1278.67,1011.43 1285.12,1017.19 1291.57,1019.99 1298.02,1024.87 1304.47,1028.91 1310.92,1031.99 1317.37,1036.35 1323.82,1039.78 1330.27,1042.37 1336.72,1040.15 1343.18,1042.47 1349.63,1043.7 1356.08,1045.89 1362.53,1045.09 1368.98,1045.24 1375.43,1045.23 1381.88,1046.19 1388.33,1048.59 1394.78,1050.41 1401.23,1056.83 1407.68,1061.99 1414.14,1069.27 1420.59,1072.44 1427.04,1080.62 1433.49,1083.63 1439.94,1092.4 1446.39,1100.26 1452.84,1105.25 1459.29,1111.65 1465.74,1120.56 1472.19,1129.81 1478.64,1133.45 1485.1,1141.71 1491.55,1147.56 1498,1151.08 1504.45,1157.21 1510.9,1163.24 1517.35,1171.24 1523.8,1173.46 1530.25,1178.19 1536.7,1182.33 1543.15,1188.27 1549.61,1191.66 1556.06,1197.09 1562.51,1202.97 1568.96,1207.13 1575.41,1208.16 1581.86,1208.51 1588.31,1211.34 1594.76,1212.93 1601.21,1212.5 1607.66,1214.13 1614.11,1213.35 1620.57,1217.67 1627.02,1217.2 1633.47,1217.62 1639.92,1219.22 1646.37,1220.46 1652.82,1224.46 1659.27,1229 1665.72,1232.88 1672.17,1230.28 1678.62,1230.8 1685.07,1229.78 1691.53,1229.91 1697.98,1226.96 1704.43,1225.29 1710.88,1226.31 1717.33,1225.37 1723.78,1227.49 1730.23,1224.38 1736.68,1227.1 1743.13,1224.4 1749.58,1224.74 1756.03,1227.86 1762.49,1225.01 1768.94,1228.11 1775.39,1227.77 1781.84,1230.61 1788.29,1234.24 1794.74,1233.08 1801.19,1231.68 1807.64,1230.78 1814.09,1231.85 1820.54,1233.38 1826.99,1238.47 1833.45,1237.57 1839.9,1241.81 1846.35,1243.85 1852.8,1250.31 1859.25,1254.44 1865.7,1257.12" fill="none" stroke="#265075" stroke-width="1.1" stroke-linejoin="round" stroke-linecap="butt"/>
<polyline points="1089.4,932.8 1098.2,935.8 1104,944.6 1109.9,962.2 1115.8,971 1127.5,973.9 1139.2,982.7 1151,984.2 1161.3,987.1 1168.6,997.4 1180.3,1004.7 1189.1,1015 1198,1022.4 1215.6,1025.3 1230.2,1032.6 1247.8,1040 1262.5,1045.8 1268.4,1053.2 1277.2,1067.8 1288.9,1085.5 1297.7,1103.1 1309.5,1120.7 1318.3,1135.4 1327.1,1150 1335.9,1153 1347.6,1164.7 1359.4,1176.4 1377,1188.2 1394.6,1199.9 1409.3,1211.7 1426.9,1221.9 1441.6,1232.2 1456.2,1242.5 1470.9,1249.8 1491.4,1257.9 1522.9,1267.3 1554.3,1272 1585.8,1276.7 1617.2,1281.4 1648.7,1287.7 1680.1,1290.9 1711.6,1294 1743,1295.6 1774.5,1297.2 1805.9,1300.3 1837.4,1306.6 1865.7,1312.9" fill="none" stroke="#000000" stroke-width="6.5" stroke-linejoin="round" stroke-linecap="butt"/>
<text x="1476.5" y="913.5" font-size="28.9" text-anchor="middle" fill="#000000" stroke="#000000">Super G: North Fork Flathead River NWIS (1981-2023)</text>
<text x="1476.5" y="956" font-size="28.9" text-anchor="middle" fill="#000000" stroke="#000000">Current year: 2021 (44th perc.)</text>
<text x="1110.6" y="1188" font-size="24" text-anchor="start" fill="#000000" stroke="#000000">Climate year</text>
<rect x="1112" y="1205.1" width="45.9" height="150.6" fill="url(#cbar)"/>
<line x1="1112" y1="1227.1" x2="1121" y2="1227.1" stroke="#ffffff" stroke-width="1.2"/>
<line x1="1148.9" y1="1227.1" x2="1157.9" y2="1227.1" stroke="#ffffff" stroke-width="1.2"/>
<text x="1171.5" y="1236.6" font-size="23.6" text-anchor="start" fill="#000000" stroke="#000000">2000</text>
<line x1="1112" y1="1254.3" x2="1121" y2="1254.3" stroke="#ffffff" stroke-width="1.2"/>
<line x1="1148.9" y1="1254.3" x2="1157.9" y2="1254.3" stroke="#ffffff" stroke-width="1.2"/>
<text x="1171.5" y="1263.8" font-size="23.6" text-anchor="start" fill="#000000" stroke="#000000">2005</text>
<line x1="1112" y1="1282.5" x2="1121" y2="1282.5" stroke="#ffffff" stroke-width="1.2"/>
<line x1="1148.9" y1="1282.5" x2="1157.9" y2="1282.5" stroke="#ffffff" stroke-width="1.2"/>
<text x="1171.5" y="1292" font-size="23.6" text-anchor="start" fill="#000000" stroke="#000000">2010</text>
<line x1="1112" y1="1310.4" x2="1121" y2="1310.4" stroke="#ffffff" stroke-width="1.2"/>
<line x1="1148.9" y1="1310.4" x2="1157.9" y2="1310.4" stroke="#ffffff" stroke-width="1.2"/>
<text x="1171.5" y="1319.9" font-size="23.6" text-anchor="start" fill="#000000" stroke="#000000">2015</text>
<line x1="1112" y1="1338.4" x2="1121" y2="1338.4" stroke="#ffffff" stroke-width="1.2"/>
<line x1="1148.9" y1="1338.4" x2="1157.9" y2="1338.4" stroke="#ffffff" stroke-width="1.2"/>
<text x="1171.5" y="1347.9" font-size="23.6" text-anchor="start" fill="#000000" stroke="#000000">2020</text>
<rect x="1050.6" y="878.2" width="854.4" height="496.5" fill="none" stroke="#333333" stroke-width="1.7"/>
<line x1="1043.4" y1="972.04" x2="1050.6" y2="972.04" stroke="#333333" stroke-width="1.8"/>
<text x="1036" y="982.44" font-size="22.5" text-anchor="end" fill="#4D4D4D" stroke="#4D4D4D" transform="translate(0 982.44) scale(1 1.08) translate(0 -982.44)">2</text>
<line x1="1043.4" y1="1083.87" x2="1050.6" y2="1083.87" stroke="#333333" stroke-width="1.8"/>
<text x="1036" y="1094.27" font-size="22.5" text-anchor="end" fill="#4D4D4D" stroke="#4D4D4D" transform="translate(0 1094.27) scale(1 1.08) translate(0 -1094.27)">1</text>
<line x1="1043.4" y1="1195.7" x2="1050.6" y2="1195.7" stroke="#333333" stroke-width="1.8"/>
<text x="1036" y="1206.1" font-size="22.5" text-anchor="end" fill="#4D4D4D" stroke="#4D4D4D" transform="translate(0 1206.1) scale(1 1.08) translate(0 -1206.1)">0</text>
<line x1="1043.4" y1="1307.53" x2="1050.6" y2="1307.53" stroke="#333333" stroke-width="1.8"/>
<text x="1036" y="1317.93" font-size="22.5" text-anchor="end" fill="#4D4D4D" stroke="#4D4D4D" transform="translate(0 1317.93) scale(1 1.08) translate(0 -1317.93)">-1</text>
<line x1="1087.7" y1="1374.7" x2="1087.7" y2="1381.9" stroke="#333333" stroke-width="1.8"/>
<text x="1087.7" y="1407.7" font-size="22.5" text-anchor="middle" fill="#4D4D4D" stroke="#4D4D4D" transform="translate(0 1407.7) scale(1 1.08) translate(0 -1407.7)">0</text>
<line x1="1282.2" y1="1374.7" x2="1282.2" y2="1381.9" stroke="#333333" stroke-width="1.8"/>
<text x="1282.2" y="1407.7" font-size="22.5" text-anchor="middle" fill="#4D4D4D" stroke="#4D4D4D" transform="translate(0 1407.7) scale(1 1.08) translate(0 -1407.7)">25</text>
<line x1="1476.7" y1="1374.7" x2="1476.7" y2="1381.9" stroke="#333333" stroke-width="1.8"/>
<text x="1476.7" y="1407.7" font-size="22.5" text-anchor="middle" fill="#4D4D4D" stroke="#4D4D4D" transform="translate(0 1407.7) scale(1 1.08) translate(0 -1407.7)">50</text>
<line x1="1671.2" y1="1374.7" x2="1671.2" y2="1381.9" stroke="#333333" stroke-width="1.8"/>
<text x="1671.2" y="1407.7" font-size="22.5" text-anchor="middle" fill="#4D4D4D" stroke="#4D4D4D" transform="translate(0 1407.7) scale(1 1.08) translate(0 -1407.7)">75</text>
<line x1="1865.7" y1="1374.7" x2="1865.7" y2="1381.9" stroke="#333333" stroke-width="1.8"/>
<text x="1865.7" y="1407.7" font-size="22.5" text-anchor="middle" fill="#4D4D4D" stroke="#4D4D4D" transform="translate(0 1407.7) scale(1 1.08) translate(0 -1407.7)">100</text>
<text x="997.3" y="1126.7" font-size="28.9" text-anchor="middle" fill="#000000" stroke="#000000" transform="rotate(-90 997.3 1126.7)">ln(Yield, mm)</text>
<text x="1478.8" y="1441.1" font-size="28.9" text-anchor="middle" fill="#000000" stroke="#000000">Exceedance probability</text>
</g>
<g id="resid">
<line x1="117.4" y1="1573.8" x2="944.6" y2="1573.8" stroke="#000000" stroke-width="2.2" stroke-dasharray="8 8"/>
<path d="M155.5 1573.5 C157.43 1571.9 163.3 1566.05 167.1 1563.9 C170.9 1561.75 174.58 1561.63 178.3 1560.6 C182.02 1559.57 186.78 1558.3 189.4 1557.7 C192.02 1557.1 192.5 1556.72 194 1557 C195.5 1557.28 197.67 1559 198.4 1559.4" fill="none" stroke="#F8766D" stroke-width="1.8" stroke-linejoin="round" stroke-linecap="butt"/>
<path d="M155.5 1573.8 C157.43 1573.45 163.3 1572.3 167.1 1571.7 C170.9 1571.1 174.58 1570.75 178.3 1570.2 C182.02 1569.65 186.78 1568.6 189.4 1568.4 C192.02 1568.2 192.5 1568.33 194 1569 C195.5 1569.67 197.67 1571.83 198.4 1572.4" fill="none" stroke="#00BA38" stroke-width="1.8" stroke-linejoin="round" stroke-linecap="butt"/>
<path d="M155.5 1573.8 C157.43 1573.2 162.18 1570.35 167.1 1570.2 C172.02 1570.05 180.9 1571.9 185 1572.9 C189.1 1573.9 189.47 1574.53 191.7 1576.2 C193.93 1577.87 197.28 1581.78 198.4 1582.9" fill="none" stroke="#B79F00" stroke-width="1.8" stroke-linejoin="round" stroke-linecap="butt"/>
<path d="M155.5 1573.8 C157.43 1574.02 163.3 1573.95 167.1 1575.1 C170.9 1576.25 174.58 1578.47 178.3 1580.7 C182.02 1582.93 186.05 1585.52 189.4 1588.5 C192.75 1591.48 196.9 1596.92 198.4 1598.6" fill="none" stroke="#00BFC4" stroke-width="1.8" stroke-linejoin="round" stroke-linecap="butt"/>
<path d="M155.5 1573.8 C157.43 1574.38 163.3 1575.78 167.1 1577.3 C170.9 1578.82 174.58 1580.65 178.3 1582.9 C182.02 1585.15 186.05 1588 189.4 1590.8 C192.75 1593.6 196.9 1598.22 198.4 1599.7" fill="none" stroke="#619CFF" stroke-width="1.8" stroke-linejoin="round" stroke-linecap="butt"/>
<path d="M155.5 1575.1 C157.43 1577.33 163.3 1582.92 167.1 1588.5 C170.9 1594.08 175.32 1603 178.3 1608.6 C181.28 1614.2 182.77 1617.25 185 1622.1 C187.23 1626.95 189.55 1631.75 191.7 1637.7 C193.85 1643.65 196.87 1654.45 197.9 1657.8" fill="none" stroke="#F564E3" stroke-width="1.8" stroke-linejoin="round" stroke-linecap="butt"/>
<path d="M392.3 1560.1 C394.92 1559.75 401.9 1558.82 408 1558 C414.1 1557.18 421.92 1556.48 428.9 1555.2 C435.88 1553.92 442.92 1551.7 449.9 1550.3 C456.88 1548.9 463.82 1547.97 470.8 1546.8 C477.78 1545.63 484.8 1544.82 491.8 1543.3 C498.8 1541.78 505.82 1539.33 512.8 1537.7 C519.78 1536.07 527.42 1534.47 533.7 1533.5 C539.98 1532.53 544.67 1532.17 550.5 1531.9 C556.33 1531.63 565.67 1531.9 568.7 1531.9" fill="none" stroke="#F8766D" stroke-width="1.8" stroke-linejoin="round" stroke-linecap="butt"/>
<path d="M392.3 1583.9 C396.07 1584.58 407.63 1586.85 414.9 1588 C422.17 1589.15 428.9 1589.82 435.9 1590.8 C442.9 1591.78 449.92 1593.2 456.9 1593.9 C463.88 1594.6 470.82 1595.05 477.8 1595 C484.78 1594.95 491.8 1594.18 498.8 1593.6 C505.8 1593.02 512.82 1591.97 519.8 1591.5 C526.78 1591.03 532.55 1590.22 540.7 1590.8 C548.85 1591.38 564.03 1594.3 568.7 1595" fill="none" stroke="#B79F00" stroke-width="1.8" stroke-linejoin="round" stroke-linecap="butt"/>
<path d="M392.3 1572 C394.92 1572.12 401.9 1572 408 1572.7 C414.1 1573.4 421.92 1575.03 428.9 1576.2 C435.88 1577.37 442.92 1578.42 449.9 1579.7 C456.88 1580.98 463.82 1582.62 470.8 1583.9 C477.78 1585.18 484.8 1586.25 491.8 1587.4 C498.8 1588.55 505.82 1589.65 512.8 1590.8 C519.78 1591.95 527.88 1593.02 533.7 1594.3 C539.52 1595.58 541.87 1597.33 547.7 1598.5 C553.53 1599.67 565.2 1600.83 568.7 1601.3" fill="none" stroke="#00BA38" stroke-width="1.8" stroke-linejoin="round" stroke-linecap="butt"/>
<path d="M392.3 1599.9 C393.75 1598.85 397.7 1595.68 401 1593.6 C404.3 1591.52 407.92 1589.13 412.1 1587.4 C416.28 1585.67 420.97 1584.22 426.1 1583.2 C431.23 1582.18 436.6 1581.53 442.9 1581.3 C449.2 1581.07 456.92 1581.48 463.9 1581.8 C470.88 1582.12 477.82 1582.62 484.8 1583.2 C491.78 1583.78 498.8 1584.27 505.8 1585.3 C512.8 1586.33 519.82 1587.43 526.8 1589.4 C533.78 1591.37 540.72 1594.88 547.7 1597.1 C554.68 1599.32 565.2 1601.77 568.7 1602.7" fill="none" stroke="#00BFC4" stroke-width="1.8" stroke-linejoin="round" stroke-linecap="butt"/>
<path d="M392.3 1596.7 C394.92 1596.42 401.9 1594.93 408 1595 C414.1 1595.07 421.92 1595.7 428.9 1597.1 C435.88 1598.5 442.92 1600.72 449.9 1603.4 C456.88 1606.08 464.98 1610.17 470.8 1613.2 C476.62 1616.23 480.13 1619.03 484.8 1621.6 C489.47 1624.17 494.13 1625.8 498.8 1628.6 C503.47 1631.4 506.98 1636.3 512.8 1638.4 C518.62 1640.5 527.88 1639.7 533.7 1641.2 C539.52 1642.7 541.87 1646.6 547.7 1647.4 C553.53 1648.2 565.2 1646.23 568.7 1646" fill="none" stroke="#619CFF" stroke-width="1.8" stroke-linejoin="round" stroke-linecap="butt"/>
<path d="M392.3 1657.2 C396.07 1655.57 407.63 1650.65 414.9 1647.4 C422.17 1644.15 428.9 1640.37 435.9 1637.7 C442.9 1635.03 449.92 1633.97 456.9 1631.4 C463.88 1628.83 470.82 1624.98 477.8 1622.3 C484.78 1619.62 491.8 1617.52 498.8 1615.3 C505.8 1613.08 512.82 1611.22 519.8 1609 C526.78 1606.78 532.55 1604.22 540.7 1602 C548.85 1599.78 564.03 1596.75 568.7 1595.7" fill="none" stroke="#F564E3" stroke-width="1.8" stroke-linejoin="round" stroke-linecap="butt"/>
<polyline points="687.2,1532 693.9,1531" fill="none" stroke="#F8766D" stroke-width="1.8" stroke-linejoin="round" stroke-linecap="butt"/>
<polyline points="687.2,1595.2 693.9,1595" fill="none" stroke="#B79F00" stroke-width="1.8" stroke-linejoin="round" stroke-linecap="butt"/>
<polyline points="687.2,1594.8 693.9,1594" fill="none" stroke="#F564E3" stroke-width="1.8" stroke-linejoin="round" stroke-linecap="butt"/>
<polyline points="687.2,1600.8 693.9,1600.8" fill="none" stroke="#00BA38" stroke-width="1.8" stroke-linejoin="round" stroke-linecap="butt"/>
<polyline points="687.2,1603.9 693.9,1603.9" fill="none" stroke="#00BFC4" stroke-width="1.8" stroke-linejoin="round" stroke-linecap="butt"/>
<polyline points="687.2,1646.2 693.9,1645.5" fill="none" stroke="#619CFF" stroke-width="1.8" stroke-linejoin="round" stroke-linecap="butt"/>
<polyline points="730.3,1528.8 737.8,1526.6" fill="none" stroke="#F8766D" stroke-width="1.8" stroke-linejoin="round" stroke-linecap="butt"/>
<polyline points="730.3,1594.2 737.8,1593.4" fill="none" stroke="#B79F00" stroke-width="1.8" stroke-linejoin="round" stroke-linecap="butt"/>
<polyline points="730.3,1592.6 737.8,1591.2" fill="none" stroke="#F564E3" stroke-width="1.8" stroke-linejoin="round" stroke-linecap="butt"/>
<polyline points="730.3,1599.9 737.8,1598.6" fill="none" stroke="#00BA38" stroke-width="1.8" stroke-linejoin="round" stroke-linecap="butt"/>
<polyline points="730.3,1604.8 737.8,1605.2" fill="none" stroke="#00BFC4" stroke-width="1.8" stroke-linejoin="round" stroke-linecap="butt"/>
<polyline points="730.3,1643.9 737.8,1643.9" fill="none" stroke="#619CFF" stroke-width="1.8" stroke-linejoin="round" stroke-linecap="butt"/>
<rect x="117.4" y="1476.5" width="827.2" height="496.7" fill="none" stroke="#333333" stroke-width="1.7"/>
<line x1="110.2" y1="1573.8" x2="117.4" y2="1573.8" stroke="#333333" stroke-width="1.8"/>
<text x="103.8" y="1584.2" font-size="22.5" text-anchor="end" fill="#4D4D4D" stroke="#4D4D4D" transform="translate(0 1584.2) scale(1 1.08) translate(0 -1584.2)">0</text>
<line x1="110.2" y1="1716.7" x2="117.4" y2="1716.7" stroke="#333333" stroke-width="1.8"/>
<text x="103.8" y="1727.1" font-size="22.5" text-anchor="end" fill="#4D4D4D" stroke="#4D4D4D" transform="translate(0 1727.1) scale(1 1.08) translate(0 -1727.1)">-50</text>
<line x1="110.2" y1="1859.6" x2="117.4" y2="1859.6" stroke="#333333" stroke-width="1.8"/>
<text x="103.8" y="1870" font-size="22.5" text-anchor="end" fill="#4D4D4D" stroke="#4D4D4D" transform="translate(0 1870) scale(1 1.08) translate(0 -1870)">-100</text>
<line x1="155" y1="1973.2" x2="155" y2="1980.4" stroke="#333333" stroke-width="1.8"/>
<text x="155" y="2005.8" font-size="22.5" text-anchor="middle" fill="#4D4D4D" stroke="#4D4D4D" transform="translate(0 2005.8) scale(1 1.08) translate(0 -2005.8)">Apr 2020</text>
<line x1="342.31" y1="1973.2" x2="342.31" y2="1980.4" stroke="#333333" stroke-width="1.8"/>
<text x="342.31" y="2005.8" font-size="22.5" text-anchor="middle" fill="#4D4D4D" stroke="#4D4D4D" transform="translate(0 2005.8) scale(1 1.08) translate(0 -2005.8)">Jul 2020</text>
<line x1="531.69" y1="1973.2" x2="531.69" y2="1980.4" stroke="#333333" stroke-width="1.8"/>
<text x="531.69" y="2005.8" font-size="22.5" text-anchor="middle" fill="#4D4D4D" stroke="#4D4D4D" transform="translate(0 2005.8) scale(1 1.08) translate(0 -2005.8)">Oct 2020</text>
<line x1="721.06" y1="1973.2" x2="721.06" y2="1980.4" stroke="#333333" stroke-width="1.8"/>
<text x="721.06" y="2005.8" font-size="22.5" text-anchor="middle" fill="#4D4D4D" stroke="#4D4D4D" transform="translate(0 2005.8) scale(1 1.08) translate(0 -2005.8)">Jan 2021</text>
<line x1="906.32" y1="1973.2" x2="906.32" y2="1980.4" stroke="#333333" stroke-width="1.8"/>
<text x="906.32" y="2005.8" font-size="22.5" text-anchor="middle" fill="#4D4D4D" stroke="#4D4D4D" transform="translate(0 2005.8) scale(1 1.08) translate(0 -2005.8)">Apr 2021</text>
<text x="36.8" y="1730" font-size="28.9" text-anchor="middle" fill="#000000" stroke="#000000" transform="rotate(-90 36.8 1730)">ln(Yield) cumulative residuals</text>
<text x="530.9" y="2039.7" font-size="28.9" text-anchor="middle" fill="#000000" stroke="#000000">Date</text>
</g>
<g id="exc">
<polyline points="1089.5,1656 1098.7,1685 1107.2,1708 1115.8,1716.1 1141.6,1727.5 1161.7,1734.7 1184.6,1739 1213.3,1747.6 1241.9,1754.8 1270.6,1760.5 1299.2,1764.8 1327.9,1769.1 1356.5,1776.2 1385.2,1782 1413.8,1784.8 1442.5,1786.3 1470,1791.6 1527.3,1795.9 1584.6,1798.7 1641.9,1803 1699.2,1805.3 1756.5,1808.8 1813.8,1813.1 1865.4,1816.8" fill="none" stroke="#F8766D" stroke-width="1.8" stroke-linejoin="round" stroke-linecap="butt"/>
<polyline points="1088.6,1710.3 1095.8,1727.5 1104.4,1739 1118.7,1746.2 1141.6,1753.3 1170.3,1766.2 1198.9,1774.8 1227.6,1784.8 1256.2,1793.4 1284.9,1796.3 1313.5,1797.7 1342.1,1799.2 1370.8,1802 1399.4,1803.5 1428.1,1806.3 1470,1808.8 1504.4,1811.6 1556,1814.5 1641.9,1818.8 1699.2,1820.2 1727.9,1821.7 1756.5,1824.5 1785.2,1826 1825.3,1827.4 1833.9,1832.3 1865.4,1833.7" fill="none" stroke="#B79F00" stroke-width="1.8" stroke-linejoin="round" stroke-linecap="butt"/>
<polyline points="1089.5,1650.2 1098.7,1681.7 1107.2,1713.2 1115.8,1727.5 1141.6,1743.3 1170.3,1754.8 1198.9,1763.4 1227.6,1770.5 1256.2,1780.5 1284.9,1787.7 1313.5,1792 1342.1,1794.9 1370.8,1799.2 1399.4,1803.5 1428.1,1812.1 1470,1815.1 1513,1821.7 1556,1826 1613.3,1828.8 1670.6,1833.1 1727.9,1838.9 1785.2,1842.6 1828.2,1846 1865.4,1848.9" fill="none" stroke="#00BA38" stroke-width="1.8" stroke-linejoin="round" stroke-linecap="butt"/>
<polyline points="1088.6,1674.5 1107.2,1684.6 1127.3,1690.3 1141.6,1701.7 1156,1713.2 1167.4,1730.4 1184.6,1747.6 1207.5,1757.6 1230.5,1770.5 1256.2,1779.1 1284.9,1787.7 1313.5,1796.3 1342.1,1802 1370.8,1807.8 1399.4,1813.5 1428.1,1817.8 1470,1823.7 1527.3,1833.1 1584.6,1835.1 1641.9,1838.9 1699.2,1843.2 1727.9,1848.3 1785.2,1850.3 1828.2,1853.2 1865.4,1854" fill="none" stroke="#00BFC4" stroke-width="1.8" stroke-linejoin="round" stroke-linecap="butt"/>
<polyline points="1088.6,1697.4 1107.2,1710.3 1127.3,1723.2 1156,1747.6 1184.6,1761.9 1213.3,1772 1241.9,1776.2 1270.6,1784.8 1299.2,1800.6 1316.4,1807.8 1342.1,1809.2 1370.8,1813.5 1385.2,1819.2 1413.8,1823.5 1442.5,1828.9 1470,1832.3 1513,1836 1578.9,1840.9 1590.3,1844.6 1624.7,1848.9 1693.5,1853.2 1713.6,1857.5 1756.5,1864.6 1799.5,1866.6 1828.2,1874.7 1842.5,1877.5 1865.4,1879" fill="none" stroke="#619CFF" stroke-width="1.8" stroke-linejoin="round" stroke-linecap="butt"/>
<polyline points="1088.6,1692.6 1113,1703.2 1141.6,1716.1 1170.3,1727.5 1198.9,1737.6 1227.6,1746.2 1256.2,1756.2 1284.9,1763.4 1313.5,1764.8 1342.1,1770.5 1370.8,1772 1399.4,1774.8 1428.1,1779.1 1456.8,1784.8 1470,1788.7 1527.3,1794.4 1584.6,1797.3 1613.3,1800.2 1641.9,1803 1687.8,1805.3 1693.5,1817.4 1719.3,1821.7 1722.1,1831.7 1726.4,1868.9 1739.3,1900.5 1753.7,1936.3 1760.8,1940.6 1799.5,1943.4 1833.9,1946.3 1842.5,1949.7 1865.4,1951.2" fill="none" stroke="#F564E3" stroke-width="1.8" stroke-linejoin="round" stroke-linecap="butt"/>
<polyline points="1088.6,1608.6 1095.8,1630.1 1101.5,1661.6 1105.8,1690.3 1108.7,1710.3 1115.8,1721.8 1133,1733.3 1150.2,1741.9 1164.6,1747.6 1184.6,1753.3 1207.5,1761.9 1230.5,1767.7 1247.7,1774.8 1270.6,1780.5 1299.2,1782 1327.9,1784.8 1356.5,1787.7 1385.2,1790.6 1413.8,1794.9 1442.5,1802 1470,1803 1498.7,1807.3 1527.3,1813.1 1556,1815.1 1593.2,1816.8 1613.3,1818.8 1641.9,1821.7 1670.6,1824.5 1699.2,1827.4 1727.9,1828.8 1756.5,1830.3 1785.2,1831.7 1793.8,1836 1819.6,1840.3 1833.9,1850.3 1851.1,1856 1865.4,1858.9" fill="none" stroke="#000000" stroke-width="6.5" stroke-linejoin="round" stroke-linecap="butt"/>
<rect x="1050.6" y="1475.5" width="854.4" height="497.7" fill="none" stroke="#333333" stroke-width="1.7"/>
<line x1="1043.4" y1="1497.2" x2="1050.6" y2="1497.2" stroke="#333333" stroke-width="1.8"/>
<text x="1036" y="1507.6" font-size="22.5" text-anchor="end" fill="#4D4D4D" stroke="#4D4D4D" transform="translate(0 1507.6) scale(1 1.08) translate(0 -1507.6)">2</text>
<line x1="1043.4" y1="1609.1" x2="1050.6" y2="1609.1" stroke="#333333" stroke-width="1.8"/>
<text x="1036" y="1619.5" font-size="22.5" text-anchor="end" fill="#4D4D4D" stroke="#4D4D4D" transform="translate(0 1619.5) scale(1 1.08) translate(0 -1619.5)">1</text>
<line x1="1043.4" y1="1721" x2="1050.6" y2="1721" stroke="#333333" stroke-width="1.8"/>
<text x="1036" y="1731.4" font-size="22.5" text-anchor="end" fill="#4D4D4D" stroke="#4D4D4D" transform="translate(0 1731.4) scale(1 1.08) translate(0 -1731.4)">0</text>
<line x1="1043.4" y1="1832.9" x2="1050.6" y2="1832.9" stroke="#333333" stroke-width="1.8"/>
<text x="1036" y="1843.3" font-size="22.5" text-anchor="end" fill="#4D4D4D" stroke="#4D4D4D" transform="translate(0 1843.3) scale(1 1.08) translate(0 -1843.3)">-1</text>
<line x1="1043.4" y1="1944.8" x2="1050.6" y2="1944.8" stroke="#333333" stroke-width="1.8"/>
<text x="1036" y="1955.2" font-size="22.5" text-anchor="end" fill="#4D4D4D" stroke="#4D4D4D" transform="translate(0 1955.2) scale(1 1.08) translate(0 -1955.2)">-2</text>
<line x1="1082.8" y1="1973.2" x2="1082.8" y2="1980.4" stroke="#333333" stroke-width="1.8"/>
<text x="1082.8" y="2005.8" font-size="22.5" text-anchor="middle" fill="#4D4D4D" stroke="#4D4D4D" transform="translate(0 2005.8) scale(1 1.08) translate(0 -2005.8)">0</text>
<line x1="1278.52" y1="1973.2" x2="1278.52" y2="1980.4" stroke="#333333" stroke-width="1.8"/>
<text x="1278.52" y="2005.8" font-size="22.5" text-anchor="middle" fill="#4D4D4D" stroke="#4D4D4D" transform="translate(0 2005.8) scale(1 1.08) translate(0 -2005.8)">25</text>
<line x1="1474.25" y1="1973.2" x2="1474.25" y2="1980.4" stroke="#333333" stroke-width="1.8"/>
<text x="1474.25" y="2005.8" font-size="22.5" text-anchor="middle" fill="#4D4D4D" stroke="#4D4D4D" transform="translate(0 2005.8) scale(1 1.08) translate(0 -2005.8)">50</text>
<line x1="1669.97" y1="1973.2" x2="1669.97" y2="1980.4" stroke="#333333" stroke-width="1.8"/>
<text x="1669.97" y="2005.8" font-size="22.5" text-anchor="middle" fill="#4D4D4D" stroke="#4D4D4D" transform="translate(0 2005.8) scale(1 1.08) translate(0 -2005.8)">75</text>
<line x1="1865.7" y1="1973.2" x2="1865.7" y2="1980.4" stroke="#333333" stroke-width="1.8"/>
<text x="1865.7" y="2005.8" font-size="22.5" text-anchor="middle" fill="#4D4D4D" stroke="#4D4D4D" transform="translate(0 2005.8) scale(1 1.08) translate(0 -2005.8)">100</text>
<text x="997.3" y="1725" font-size="28.9" text-anchor="middle" fill="#000000" stroke="#000000" transform="rotate(-90 997.3 1725)">ln(Yield, mm)</text>
<text x="1478.8" y="2039.9" font-size="28.9" text-anchor="middle" fill="#000000" stroke="#000000">Exceedance probability</text>
</g>
<g id="facets">
<rect x="90.4" y="2074.5" width="441.95" height="45.3" fill="#D9D9D9" stroke="#333333" stroke-width="1.2"/>
<text x="311.38" y="2107.45" font-size="22.3" text-anchor="middle" fill="#1A1A1A" stroke="#1A1A1A" transform="translate(0 2107.45) scale(1 1.12) translate(0 -2107.45)">Apr</text>
<rect x="547.95" y="2074.5" width="441.95" height="45.3" fill="#D9D9D9" stroke="#333333" stroke-width="1.2"/>
<text x="768.93" y="2107.45" font-size="22.3" text-anchor="middle" fill="#1A1A1A" stroke="#1A1A1A" transform="translate(0 2107.45) scale(1 1.12) translate(0 -2107.45)">Jul</text>
<rect x="1005.5" y="2074.5" width="441.95" height="45.3" fill="#D9D9D9" stroke="#333333" stroke-width="1.2"/>
<text x="1226.47" y="2107.45" font-size="22.3" text-anchor="middle" fill="#1A1A1A" stroke="#1A1A1A" transform="translate(0 2107.45) scale(1 1.12) translate(0 -2107.45)">Aug</text>
<rect x="1463.05" y="2074.5" width="441.95" height="45.3" fill="#D9D9D9" stroke="#333333" stroke-width="1.2"/>
<text x="1684.03" y="2107.45" font-size="22.3" text-anchor="middle" fill="#1A1A1A" stroke="#1A1A1A" transform="translate(0 2107.45) scale(1 1.12) translate(0 -2107.45)">Sep</text>
<rect x="90.4" y="2430.3" width="441.95" height="45.5" fill="#D9D9D9" stroke="#333333" stroke-width="1.2"/>
<text x="311.38" y="2463.35" font-size="22.3" text-anchor="middle" fill="#1A1A1A" stroke="#1A1A1A" transform="translate(0 2463.35) scale(1 1.12) translate(0 -2463.35)">Oct</text>
<rect x="547.95" y="2430.3" width="441.95" height="45.5" fill="#D9D9D9" stroke="#333333" stroke-width="1.2"/>
<text x="768.93" y="2463.35" font-size="22.3" text-anchor="middle" fill="#1A1A1A" stroke="#1A1A1A" transform="translate(0 2463.35) scale(1 1.12) translate(0 -2463.35)">Dec</text>
<rect x="1005.5" y="2430.3" width="441.95" height="45.5" fill="#D9D9D9" stroke="#333333" stroke-width="1.2"/>
<text x="1226.47" y="2463.35" font-size="22.3" text-anchor="middle" fill="#1A1A1A" stroke="#1A1A1A" transform="translate(0 2463.35) scale(1 1.12) translate(0 -2463.35)">Jan</text>
<path d="M116.7 2225.3 C120.12 2227.15 130.12 2231.93 137.2 2236.4 C144.28 2240.87 151.87 2246.87 159.2 2252.1 C166.53 2257.33 174.92 2263.62 181.2 2267.8 C187.48 2271.98 191.67 2274.68 196.9 2277.2 C202.13 2279.72 206.83 2281.43 212.6 2282.9 C218.37 2284.37 223.1 2285.12 231.5 2286 C239.9 2286.88 252.52 2287.57 263 2288.2 C273.48 2288.83 283.93 2289 294.4 2289.8 C304.87 2290.6 315.32 2291.32 325.8 2293 C336.28 2294.68 346.82 2297.55 357.3 2299.9 C367.78 2302.25 381.37 2305.12 388.7 2307.1 C396.03 2309.08 396.05 2310.9 401.3 2311.8 C406.55 2312.7 411.82 2312.08 420.2 2312.5 C428.58 2312.92 441.12 2313.88 451.6 2314.3 C462.08 2314.72 472.87 2314.73 483.1 2315 C493.33 2315.27 508.02 2315.75 513 2315.9" fill="none" stroke="#F8766D" stroke-width="1.8" stroke-linejoin="round" stroke-linecap="butt"/>
<path d="M116.7 2259.9 C120.12 2261.48 130.12 2265.47 137.2 2269.4 C144.28 2273.33 151.35 2278.27 159.2 2283.5 C167.05 2288.73 175.92 2296.5 184.3 2300.8 C192.68 2305.1 201.63 2307.35 209.5 2309.3 C217.37 2311.25 222.58 2311.82 231.5 2312.5 C240.42 2313.18 252.52 2312.98 263 2313.4 C273.48 2313.82 283.93 2314.22 294.4 2315 C304.87 2315.78 315.32 2316.8 325.8 2318.1 C336.28 2319.4 346.82 2321.23 357.3 2322.8 C367.78 2324.37 379.78 2326.08 388.7 2327.5 C397.62 2328.92 402.93 2330.62 410.8 2331.3 C418.67 2331.98 418.87 2331.55 435.9 2331.6 C452.93 2331.65 500.15 2331.6 513 2331.6" fill="none" stroke="#B79F00" stroke-width="1.8" stroke-linejoin="round" stroke-linecap="butt"/>
<path d="M116.7 2223.1 C120.12 2225.05 130.12 2230.23 137.2 2234.8 C144.28 2239.37 151.87 2244.48 159.2 2250.5 C166.53 2256.52 174.92 2265.4 181.2 2270.9 C187.48 2276.4 191.67 2280.35 196.9 2283.5 C202.13 2286.65 206.83 2288.22 212.6 2289.8 C218.37 2291.38 223.1 2291.95 231.5 2293 C239.9 2294.05 252.52 2295.17 263 2296.1 C273.48 2297.03 283.93 2297.45 294.4 2298.6 C304.87 2299.75 315.32 2300.8 325.8 2303 C336.28 2305.2 346.82 2307.97 357.3 2311.8 C367.78 2315.63 381.37 2322.58 388.7 2326 C396.03 2329.42 396.05 2330.83 401.3 2332.3 C406.55 2333.77 411.82 2333.87 420.2 2334.8 C428.58 2335.73 441.12 2337.12 451.6 2337.9 C462.08 2338.68 472.87 2339.23 483.1 2339.5 C493.33 2339.77 508.02 2339.5 513 2339.5" fill="none" stroke="#00BA38" stroke-width="1.8" stroke-linejoin="round" stroke-linecap="butt"/>
<path d="M116.7 2283.5 C120.12 2285.33 130.12 2290.57 137.2 2294.5 C144.28 2298.43 151.87 2303.07 159.2 2307.1 C166.53 2311.13 172.82 2314.87 181.2 2318.7 C189.58 2322.53 201.12 2327.68 209.5 2330.1 C217.88 2332.52 222.58 2332.32 231.5 2333.2 C240.42 2334.08 252.52 2334.77 263 2335.4 C273.48 2336.03 283.93 2336.37 294.4 2337 C304.87 2337.63 315.32 2338.42 325.8 2339.2 C336.28 2339.98 346.82 2341.02 357.3 2341.7 C367.78 2342.38 380.83 2342.93 388.7 2343.3 C396.57 2343.67 394.28 2343.53 404.5 2343.9 C414.72 2344.27 431.92 2344.82 450 2345.5 C468.08 2346.18 502.5 2347.58 513 2348" fill="none" stroke="#00BFC4" stroke-width="1.8" stroke-linejoin="round" stroke-linecap="butt"/>
<path d="M116.7 2251.4 C120.12 2253.62 130.12 2259.08 137.2 2264.7 C144.28 2270.32 151.35 2277.25 159.2 2285.1 C167.05 2292.95 175.92 2304.73 184.3 2311.8 C192.68 2318.87 201.63 2324.25 209.5 2327.5 C217.37 2330.75 222.58 2330.5 231.5 2331.3 C240.42 2332.1 252.52 2331.77 263 2332.3 C273.48 2332.83 283.93 2333.62 294.4 2334.5 C304.87 2335.38 315.32 2336.55 325.8 2337.6 C336.28 2338.65 346.82 2339.33 357.3 2340.8 C367.78 2342.27 381.37 2344.83 388.7 2346.4 C396.03 2347.97 393.43 2349.42 401.3 2350.2 C409.17 2350.98 417.28 2350.83 435.9 2351.1 C454.52 2351.37 500.15 2351.68 513 2351.8" fill="none" stroke="#619CFF" stroke-width="1.8" stroke-linejoin="round" stroke-linecap="butt"/>
<path d="M116.7 2354.3 C120.12 2355.87 130.12 2360.03 137.2 2363.7 C144.28 2367.37 151.87 2372.37 159.2 2376.3 C166.53 2380.23 173.33 2384.05 181.2 2387.3 C189.07 2390.55 195.4 2394.38 206.4 2395.8 C217.4 2397.22 229.92 2395.65 247.2 2395.8 C264.48 2395.95 289.13 2396.28 310.1 2396.7 C331.07 2397.12 352.03 2397.67 373 2398.3 C393.97 2398.93 412.57 2399.87 435.9 2400.5 C459.23 2401.13 500.15 2401.83 513 2402.1" fill="none" stroke="#F564E3" stroke-width="1.8" stroke-linejoin="round" stroke-linecap="butt"/>
<path d="M116.7 2199.2 C119.58 2201.47 127.97 2207.13 134 2212.8 C140.03 2218.47 146.6 2225.6 152.9 2233.2 C159.2 2240.8 165.52 2250.53 171.8 2258.4 C178.08 2266.27 184.32 2274.63 190.6 2280.4 C196.88 2286.17 202.68 2289.97 209.5 2293 C216.32 2296.03 224.17 2297.13 231.5 2298.6 C238.83 2300.07 245.63 2301.07 253.5 2301.8 C261.37 2302.53 270.32 2302.12 278.7 2303 C287.08 2303.88 295.42 2305.63 303.8 2307.1 C312.18 2308.57 321.65 2309.97 329 2311.8 C336.35 2313.63 341.62 2315.9 347.9 2318.1 C354.18 2320.3 360.42 2322.38 366.7 2325 C372.98 2327.62 379.83 2331.17 385.6 2333.8 C391.37 2336.43 396.07 2339.33 401.3 2340.8 C406.53 2342.27 411.23 2342.18 417 2342.6 C422.77 2343.02 429.6 2342.93 435.9 2343.3 C442.2 2343.67 448.52 2344.28 454.8 2344.8 C461.08 2345.32 467.32 2346.03 473.6 2346.4 C479.88 2346.77 485.93 2346.9 492.5 2347 C499.07 2347.1 509.58 2347 513 2347" fill="none" stroke="#000000" stroke-width="6.5" stroke-linejoin="round" stroke-linecap="butt"/>
<polyline points="1025.4,2251.5 1065.4,2260.8 1083.8,2268.4 1108.4,2276.1 1148.4,2285.4 1179.1,2291.5 1209.9,2296.1 1240.6,2299.2 1271.4,2301.3 1330,2305.5 1426.7,2313" fill="none" stroke="#00BFC4" stroke-width="1.8" stroke-linejoin="round" stroke-linecap="butt"/>
<polyline points="1025.4,2261.7 1071.5,2266.9 1133,2274.6 1194.5,2279.8 1256,2285.4 1317.5,2289.3 1379,2292.1 1426.7,2294" fill="none" stroke="#F564E3" stroke-width="1.8" stroke-linejoin="round" stroke-linecap="butt"/>
<polyline points="1025.4,2274.6 1071.5,2279.2 1133,2286 1194.5,2291.5 1256,2296.1 1317.5,2300.1 1379,2303.8 1426.7,2305.6" fill="none" stroke="#F8766D" stroke-width="1.8" stroke-linejoin="round" stroke-linecap="butt"/>
<polyline points="1025.4,2290 1071.5,2294.6 1133,2300.1 1194.5,2306.3 1256,2310.6 1317.5,2313 1379,2315.5 1426.7,2316.1" fill="none" stroke="#B79F00" stroke-width="1.8" stroke-linejoin="round" stroke-linecap="butt"/>
<polyline points="1025.4,2286 1071.5,2290.9 1133,2299.2 1194.5,2306.9 1256,2311.5 1317.5,2315.5 1379,2321.6 1426.7,2324.7" fill="none" stroke="#00BA38" stroke-width="1.8" stroke-linejoin="round" stroke-linecap="butt"/>
<polyline points="1025.4,2285.4 1071.5,2290 1133,2299.2 1194.5,2310.6 1256,2319.2 1317.5,2326.9 1379,2334.6 1426.7,2338.5" fill="none" stroke="#619CFF" stroke-width="1.8" stroke-linejoin="round" stroke-linecap="butt"/>
<polyline points="1025.4,2281.7 1071.5,2286.9 1133,2294.6 1194.5,2302.3 1256,2305.3 1317.5,2306.9 1379,2311.5 1426.7,2314" fill="none" stroke="#000000" stroke-width="6.5" stroke-linejoin="round" stroke-linecap="butt"/>
<polyline points="1483.5,2295.4 1526.5,2297.8 1588,2304.6 1649.5,2307.7 1711,2309.8 1772.5,2312.3 1834,2315.4 1884.7,2316.3" fill="none" stroke="#F564E3" stroke-width="1.8" stroke-linejoin="round" stroke-linecap="butt"/>
<polyline points="1483.5,2307.7 1526.5,2309.2 1588,2310.8 1649.5,2311.7 1711,2313.2 1772.5,2314.4 1834,2316.3 1884.7,2317.8" fill="none" stroke="#F8766D" stroke-width="1.8" stroke-linejoin="round" stroke-linecap="butt"/>
<polyline points="1483.5,2313 1588,2317 1698.7,2320.6 1772.5,2322.4 1834,2323.7 1884.7,2325.2" fill="none" stroke="#B79F00" stroke-width="1.8" stroke-linejoin="round" stroke-linecap="butt"/>
<polyline points="1483.5,2325.2 1588,2326.1 1649.5,2330.7 1711,2332.9 1772.5,2334.7 1834,2336.9 1884.7,2338.9" fill="none" stroke="#00BFC4" stroke-width="1.8" stroke-linejoin="round" stroke-linecap="butt"/>
<polyline points="1483.5,2326.1 1526.5,2327.7 1588,2327.7 1649.5,2329.8 1711,2332.9 1772.5,2334.7 1834,2336.9 1884.7,2338" fill="none" stroke="#00BA38" stroke-width="1.8" stroke-linejoin="round" stroke-linecap="butt"/>
<polyline points="1483.5,2325.2 1526.5,2329.2 1566.5,2336 1581.8,2340.9 1618.8,2343 1680.3,2347.7 1741.7,2352.3 1787.9,2356.9 1834,2359.3 1884.7,2359.3" fill="none" stroke="#619CFF" stroke-width="1.8" stroke-linejoin="round" stroke-linecap="butt"/>
<polyline points="1483.5,2315.4 1526.5,2318.4 1588,2321.5 1649.5,2321.5 1711,2324.6 1772.5,2326.7 1834,2329.2 1884.7,2331.7" fill="none" stroke="#000000" stroke-width="6.5" stroke-linejoin="round" stroke-linecap="butt"/>
<rect x="90.4" y="2119.8" width="441.95" height="295" fill="none" stroke="#333333" stroke-width="1.7"/>
<rect x="547.95" y="2119.8" width="441.95" height="295" fill="none" stroke="#333333" stroke-width="1.7"/>
<rect x="1005.5" y="2119.8" width="441.95" height="295" fill="none" stroke="#333333" stroke-width="1.7"/>
<rect x="1463.05" y="2119.8" width="441.95" height="295" fill="none" stroke="#333333" stroke-width="1.7"/>
<rect x="90.4" y="2475.8" width="441.95" height="294.9" fill="none" stroke="#333333" stroke-width="1.7"/>
<rect x="547.95" y="2475.8" width="441.95" height="294.9" fill="none" stroke="#333333" stroke-width="1.7"/>
<rect x="1005.5" y="2475.8" width="441.95" height="294.9" fill="none" stroke="#333333" stroke-width="1.7"/>
<line x1="82.9" y1="2131.8" x2="90.4" y2="2131.8" stroke="#333333" stroke-width="1.8"/>
<text x="76.5" y="2142.2" font-size="22.5" text-anchor="end" fill="#4D4D4D" stroke="#4D4D4D" transform="translate(0 2142.2) scale(1 1.08) translate(0 -2142.2)">2</text>
<line x1="82.9" y1="2198.55" x2="90.4" y2="2198.55" stroke="#333333" stroke-width="1.8"/>
<text x="76.5" y="2208.95" font-size="22.5" text-anchor="end" fill="#4D4D4D" stroke="#4D4D4D" transform="translate(0 2208.95) scale(1 1.08) translate(0 -2208.95)">1</text>
<line x1="82.9" y1="2265.3" x2="90.4" y2="2265.3" stroke="#333333" stroke-width="1.8"/>
<text x="76.5" y="2275.7" font-size="22.5" text-anchor="end" fill="#4D4D4D" stroke="#4D4D4D" transform="translate(0 2275.7) scale(1 1.08) translate(0 -2275.7)">0</text>
<line x1="82.9" y1="2332.05" x2="90.4" y2="2332.05" stroke="#333333" stroke-width="1.8"/>
<text x="76.5" y="2342.45" font-size="22.5" text-anchor="end" fill="#4D4D4D" stroke="#4D4D4D" transform="translate(0 2342.45) scale(1 1.08) translate(0 -2342.45)">-1</text>
<line x1="82.9" y1="2398.8" x2="90.4" y2="2398.8" stroke="#333333" stroke-width="1.8"/>
<text x="76.5" y="2409.2" font-size="22.5" text-anchor="end" fill="#4D4D4D" stroke="#4D4D4D" transform="translate(0 2409.2) scale(1 1.08) translate(0 -2409.2)">-2</text>
<line x1="82.9" y1="2487.8" x2="90.4" y2="2487.8" stroke="#333333" stroke-width="1.8"/>
<text x="76.5" y="2498.2" font-size="22.5" text-anchor="end" fill="#4D4D4D" stroke="#4D4D4D" transform="translate(0 2498.2) scale(1 1.08) translate(0 -2498.2)">2</text>
<line x1="82.9" y1="2554.55" x2="90.4" y2="2554.55" stroke="#333333" stroke-width="1.8"/>
<text x="76.5" y="2564.95" font-size="22.5" text-anchor="end" fill="#4D4D4D" stroke="#4D4D4D" transform="translate(0 2564.95) scale(1 1.08) translate(0 -2564.95)">1</text>
<line x1="82.9" y1="2621.3" x2="90.4" y2="2621.3" stroke="#333333" stroke-width="1.8"/>
<text x="76.5" y="2631.7" font-size="22.5" text-anchor="end" fill="#4D4D4D" stroke="#4D4D4D" transform="translate(0 2631.7) scale(1 1.08) translate(0 -2631.7)">0</text>
<line x1="82.9" y1="2688.05" x2="90.4" y2="2688.05" stroke="#333333" stroke-width="1.8"/>
<text x="76.5" y="2698.45" font-size="22.5" text-anchor="end" fill="#4D4D4D" stroke="#4D4D4D" transform="translate(0 2698.45) scale(1 1.08) translate(0 -2698.45)">-1</text>
<line x1="82.9" y1="2754.8" x2="90.4" y2="2754.8" stroke="#333333" stroke-width="1.8"/>
<text x="76.5" y="2765.2" font-size="22.5" text-anchor="end" fill="#4D4D4D" stroke="#4D4D4D" transform="translate(0 2765.2) scale(1 1.08) translate(0 -2765.2)">-2</text>
<line x1="1469.35" y1="2414.8" x2="1469.35" y2="2422" stroke="#333333" stroke-width="1.8"/>
<text x="1469.35" y="2447" font-size="22.5" text-anchor="middle" fill="#4D4D4D" stroke="#4D4D4D" transform="translate(0 2447) scale(1 1.08) translate(0 -2447)">0</text>
<line x1="1573.38" y1="2414.8" x2="1573.38" y2="2422" stroke="#333333" stroke-width="1.8"/>
<text x="1573.38" y="2447" font-size="22.5" text-anchor="middle" fill="#4D4D4D" stroke="#4D4D4D" transform="translate(0 2447) scale(1 1.08) translate(0 -2447)">25</text>
<line x1="1677.4" y1="2414.8" x2="1677.4" y2="2422" stroke="#333333" stroke-width="1.8"/>
<text x="1677.4" y="2447" font-size="22.5" text-anchor="middle" fill="#4D4D4D" stroke="#4D4D4D" transform="translate(0 2447) scale(1 1.08) translate(0 -2447)">50</text>
<line x1="1781.43" y1="2414.8" x2="1781.43" y2="2422" stroke="#333333" stroke-width="1.8"/>
<text x="1781.43" y="2447" font-size="22.5" text-anchor="middle" fill="#4D4D4D" stroke="#4D4D4D" transform="translate(0 2447) scale(1 1.08) translate(0 -2447)">75</text>
<line x1="1885.45" y1="2414.8" x2="1885.45" y2="2422" stroke="#333333" stroke-width="1.8"/>
<text x="1885.45" y="2447" font-size="22.5" text-anchor="middle" fill="#4D4D4D" stroke="#4D4D4D" transform="translate(0 2447) scale(1 1.08) translate(0 -2447)">100</text>
<line x1="96.7" y1="2770.7" x2="96.7" y2="2777.9" stroke="#333333" stroke-width="1.8"/>
<text x="96.7" y="2802.9" font-size="22.5" text-anchor="middle" fill="#4D4D4D" stroke="#4D4D4D" transform="translate(0 2802.9) scale(1 1.08) translate(0 -2802.9)">0</text>
<line x1="200.72" y1="2770.7" x2="200.72" y2="2777.9" stroke="#333333" stroke-width="1.8"/>
<text x="200.72" y="2802.9" font-size="22.5" text-anchor="middle" fill="#4D4D4D" stroke="#4D4D4D" transform="translate(0 2802.9) scale(1 1.08) translate(0 -2802.9)">25</text>
<line x1="304.75" y1="2770.7" x2="304.75" y2="2777.9" stroke="#333333" stroke-width="1.8"/>
<text x="304.75" y="2802.9" font-size="22.5" text-anchor="middle" fill="#4D4D4D" stroke="#4D4D4D" transform="translate(0 2802.9) scale(1 1.08) translate(0 -2802.9)">50</text>
<line x1="408.77" y1="2770.7" x2="408.77" y2="2777.9" stroke="#333333" stroke-width="1.8"/>
<text x="408.77" y="2802.9" font-size="22.5" text-anchor="middle" fill="#4D4D4D" stroke="#4D4D4D" transform="translate(0 2802.9) scale(1 1.08) translate(0 -2802.9)">75</text>
<line x1="512.8" y1="2770.7" x2="512.8" y2="2777.9" stroke="#333333" stroke-width="1.8"/>
<text x="512.8" y="2802.9" font-size="22.5" text-anchor="middle" fill="#4D4D4D" stroke="#4D4D4D" transform="translate(0 2802.9) scale(1 1.08) translate(0 -2802.9)">100</text>
<line x1="554.25" y1="2770.7" x2="554.25" y2="2777.9" stroke="#333333" stroke-width="1.8"/>
<text x="554.25" y="2802.9" font-size="22.5" text-anchor="middle" fill="#4D4D4D" stroke="#4D4D4D" transform="translate(0 2802.9) scale(1 1.08) translate(0 -2802.9)">0</text>
<line x1="658.27" y1="2770.7" x2="658.27" y2="2777.9" stroke="#333333" stroke-width="1.8"/>
<text x="658.27" y="2802.9" font-size="22.5" text-anchor="middle" fill="#4D4D4D" stroke="#4D4D4D" transform="translate(0 2802.9) scale(1 1.08) translate(0 -2802.9)">25</text>
<line x1="762.3" y1="2770.7" x2="762.3" y2="2777.9" stroke="#333333" stroke-width="1.8"/>
<text x="762.3" y="2802.9" font-size="22.5" text-anchor="middle" fill="#4D4D4D" stroke="#4D4D4D" transform="translate(0 2802.9) scale(1 1.08) translate(0 -2802.9)">50</text>
<line x1="866.33" y1="2770.7" x2="866.33" y2="2777.9" stroke="#333333" stroke-width="1.8"/>
<text x="866.33" y="2802.9" font-size="22.5" text-anchor="middle" fill="#4D4D4D" stroke="#4D4D4D" transform="translate(0 2802.9) scale(1 1.08) translate(0 -2802.9)">75</text>
<line x1="970.35" y1="2770.7" x2="970.35" y2="2777.9" stroke="#333333" stroke-width="1.8"/>
<text x="970.35" y="2802.9" font-size="22.5" text-anchor="middle" fill="#4D4D4D" stroke="#4D4D4D" transform="translate(0 2802.9) scale(1 1.08) translate(0 -2802.9)">100</text>
<line x1="1011.8" y1="2770.7" x2="1011.8" y2="2777.9" stroke="#333333" stroke-width="1.8"/>
<text x="1011.8" y="2802.9" font-size="22.5" text-anchor="middle" fill="#4D4D4D" stroke="#4D4D4D" transform="translate(0 2802.9) scale(1 1.08) translate(0 -2802.9)">0</text>
<line x1="1115.83" y1="2770.7" x2="1115.83" y2="2777.9" stroke="#333333" stroke-width="1.8"/>
<text x="1115.83" y="2802.9" font-size="22.5" text-anchor="middle" fill="#4D4D4D" stroke="#4D4D4D" transform="translate(0 2802.9) scale(1 1.08) translate(0 -2802.9)">25</text>
<line x1="1219.85" y1="2770.7" x2="1219.85" y2="2777.9" stroke="#333333" stroke-width="1.8"/>
<text x="1219.85" y="2802.9" font-size="22.5" text-anchor="middle" fill="#4D4D4D" stroke="#4D4D4D" transform="translate(0 2802.9) scale(1 1.08) translate(0 -2802.9)">50</text>
<line x1="1323.88" y1="2770.7" x2="1323.88" y2="2777.9" stroke="#333333" stroke-width="1.8"/>
<text x="1323.88" y="2802.9" font-size="22.5" text-anchor="middle" fill="#4D4D4D" stroke="#4D4D4D" transform="translate(0 2802.9) scale(1 1.08) translate(0 -2802.9)">75</text>
<line x1="1427.9" y1="2770.7" x2="1427.9" y2="2777.9" stroke="#333333" stroke-width="1.8"/>
<text x="1427.9" y="2802.9" font-size="22.5" text-anchor="middle" fill="#4D4D4D" stroke="#4D4D4D" transform="translate(0 2802.9) scale(1 1.08) translate(0 -2802.9)">100</text>
<text x="36.8" y="2445.5" font-size="28.9" text-anchor="middle" fill="#000000" stroke="#000000" transform="rotate(-90 36.8 2445.5)">ln(Yield, mm)</text>
<text x="997.7" y="2836.9" font-size="28.9" text-anchor="middle" fill="#000000" stroke="#000000">Exceedance probability</text>
</g>
<g id="ks">
<line x1="110.4" y1="3380.5" x2="240.1" y2="3380.5" stroke="#EBEBEB" stroke-width="2.2"/>
<line x1="312.5" y1="3380.5" x2="1553.7" y2="3380.5" stroke="#EBEBEB" stroke-width="2.2"/>
<line x1="110.4" y1="3259.3" x2="240.1" y2="3259.3" stroke="#EBEBEB" stroke-width="2.2"/>
<line x1="312.5" y1="3259.3" x2="1553.7" y2="3259.3" stroke="#EBEBEB" stroke-width="2.2"/>
<line x1="110.4" y1="3138.1" x2="240.1" y2="3138.1" stroke="#EBEBEB" stroke-width="2.2"/>
<line x1="312.5" y1="3138.1" x2="1553.7" y2="3138.1" stroke="#EBEBEB" stroke-width="2.2"/>
<line x1="110.4" y1="3016.9" x2="240.1" y2="3016.9" stroke="#EBEBEB" stroke-width="2.2"/>
<line x1="312.5" y1="3016.9" x2="1553.7" y2="3016.9" stroke="#EBEBEB" stroke-width="2.2"/>
<line x1="110.4" y1="2895.7" x2="240.1" y2="2895.7" stroke="#EBEBEB" stroke-width="2.2"/>
<line x1="312.5" y1="2895.7" x2="1553.7" y2="2895.7" stroke="#EBEBEB" stroke-width="2.2"/>
<line x1="175.1" y1="2872.3" x2="175.1" y2="3404.5" stroke="#EBEBEB" stroke-width="2.2"/>
<line x1="372.9" y1="2872.3" x2="372.9" y2="3404.5" stroke="#EBEBEB" stroke-width="2.2"/>
<line x1="474.7" y1="2872.3" x2="474.7" y2="3404.5" stroke="#EBEBEB" stroke-width="2.2"/>
<line x1="576.5" y1="2872.3" x2="576.5" y2="3404.5" stroke="#EBEBEB" stroke-width="2.2"/>
<line x1="678.3" y1="2872.3" x2="678.3" y2="3404.5" stroke="#EBEBEB" stroke-width="2.2"/>
<line x1="780.1" y1="2872.3" x2="780.1" y2="3404.5" stroke="#EBEBEB" stroke-width="2.2"/>
<line x1="881.9" y1="2872.3" x2="881.9" y2="3404.5" stroke="#EBEBEB" stroke-width="2.2"/>
<line x1="983.7" y1="2872.3" x2="983.7" y2="3404.5" stroke="#EBEBEB" stroke-width="2.2"/>
<line x1="1085.5" y1="2872.3" x2="1085.5" y2="3404.5" stroke="#EBEBEB" stroke-width="2.2"/>
<line x1="1187.3" y1="2872.3" x2="1187.3" y2="3404.5" stroke="#EBEBEB" stroke-width="2.2"/>
<line x1="1289.1" y1="2872.3" x2="1289.1" y2="3404.5" stroke="#EBEBEB" stroke-width="2.2"/>
<line x1="1390.9" y1="2872.3" x2="1390.9" y2="3404.5" stroke="#EBEBEB" stroke-width="2.2"/>
<line x1="1492.7" y1="2872.3" x2="1492.7" y2="3404.5" stroke="#EBEBEB" stroke-width="2.2"/>
<rect x="116.4" y="3372.9" width="117.4" height="8.1" fill="#E3E3E3" stroke="#333333" stroke-width="1.7"/>
<line x1="116.4" y1="3381" x2="233.8" y2="3381" stroke="#333333" stroke-width="3.6"/>
<line x1="372.9" y1="3295.3" x2="372.9" y2="3190.2" stroke="#333333" stroke-width="1.7"/>
<line x1="372.9" y1="3367.8" x2="372.9" y2="3380.5" stroke="#333333" stroke-width="1.7"/>
<rect x="334.9" y="3295.3" width="76" height="72.5" fill="#E3E3E3" stroke="#333333" stroke-width="1.7"/>
<line x1="334.9" y1="3357" x2="410.9" y2="3357" stroke="#333333" stroke-width="3.6"/>
<line x1="779.9" y1="3346.8" x2="779.9" y2="3343" stroke="#333333" stroke-width="1.7"/>
<rect x="741.9" y="3346.8" width="76.9" height="32.2" fill="#E3E3E3" stroke="#333333" stroke-width="1.7"/>
<line x1="741.9" y1="3366.9" x2="818.8" y2="3366.9" stroke="#333333" stroke-width="3.6"/>
<line x1="844.7" y1="3381.2" x2="919.4" y2="3381.2" stroke="#333333" stroke-width="3.6"/>
<line x1="110.4" y1="3356.6" x2="240.1" y2="3356.6" stroke="#000000" stroke-width="2.2" stroke-dasharray="8 8"/>
<line x1="312.5" y1="3356.6" x2="1553.7" y2="3356.6" stroke="#000000" stroke-width="2.2" stroke-dasharray="8 8"/>
<path d="M372.9 3322.2 C383.12 3322.57 409.08 3323.43 434.2 3324.4 C459.32 3325.37 493.78 3326.5 523.6 3328 C553.42 3329.5 587.02 3331.77 613.1 3333.4 C639.18 3335.03 661.47 3336.32 680.1 3337.8 C698.73 3339.28 713.25 3341.02 724.9 3342.3 C736.55 3343.58 742.55 3344.38 750 3345.5 C757.45 3346.62 762.6 3347.67 769.6 3349 C776.6 3350.33 784.55 3351.27 792 3353.5 C799.45 3355.73 806.85 3359.42 814.3 3362.4 C821.75 3365.38 828.5 3368.78 836.7 3371.4 C844.9 3374.02 856.05 3376.47 863.5 3378.1 C870.95 3379.73 878.42 3380.68 881.4 3381.2" fill="none" stroke="#000000" stroke-width="6.2" stroke-linejoin="round" stroke-linecap="butt"/>
<circle cx="151.5" cy="3370.4" r="6.6" fill="#00BA38" stroke="none" stroke-width="0"/>
<circle cx="196.2" cy="3365.3" r="6.6" fill="#B79F00" stroke="none" stroke-width="0"/>
<circle cx="153.7" cy="3381.6" r="6.6" fill="#F8766D" stroke="none" stroke-width="0"/>
<circle cx="147.7" cy="3381.6" r="6.6" fill="#00BFC4" stroke="none" stroke-width="0"/>
<circle cx="176.1" cy="3381.6" r="6.6" fill="#619CFF" stroke="none" stroke-width="0"/>
<circle cx="187.3" cy="3381.6" r="6.6" fill="#F564E3" stroke="none" stroke-width="0"/>
<circle cx="391.7" cy="3190.2" r="6.6" fill="#00BA38" stroke="none" stroke-width="0"/>
<circle cx="387.2" cy="3275.2" r="6.6" fill="#B79F00" stroke="none" stroke-width="0"/>
<circle cx="392.6" cy="3357.1" r="6.6" fill="#F8766D" stroke="none" stroke-width="0"/>
<circle cx="384.1" cy="3357.1" r="6.6" fill="#619CFF" stroke="none" stroke-width="0"/>
<circle cx="363.5" cy="3370.5" r="6.6" fill="#00BFC4" stroke="none" stroke-width="0"/>
<circle cx="390.3" cy="3381.2" r="6.6" fill="#F564E3" stroke="none" stroke-width="0"/>
<circle cx="768.7" cy="3257.3" r="6.6" fill="#00BFC4" stroke="none" stroke-width="0"/>
<circle cx="780.8" cy="3343.2" r="6.6" fill="#B79F00" stroke="none" stroke-width="0"/>
<circle cx="770.9" cy="3362.4" r="6.6" fill="#00BA38" stroke="none" stroke-width="0"/>
<circle cx="794.2" cy="3371.4" r="6.6" fill="#F8766D" stroke="none" stroke-width="0"/>
<circle cx="767.4" cy="3381.2" r="6.6" fill="#619CFF" stroke="none" stroke-width="0"/>
<circle cx="800" cy="3381.2" r="6.6" fill="#F564E3" stroke="none" stroke-width="0"/>
<circle cx="863.5" cy="3381.2" r="6.6" fill="#00BA38" stroke="none" stroke-width="0"/>
<circle cx="894.8" cy="3372.7" r="6.6" fill="#B79F00" stroke="none" stroke-width="0"/>
<circle cx="890.3" cy="3381.2" r="6.6" fill="#F8766D" stroke="none" stroke-width="0"/>
<circle cx="883.6" cy="3381.2" r="6.6" fill="#619CFF" stroke="none" stroke-width="0"/>
<circle cx="897" cy="3381.2" r="6.6" fill="#F564E3" stroke="none" stroke-width="0"/>
<rect x="110.4" y="2872.3" width="129.7" height="532.2" fill="none" stroke="#333333" stroke-width="1.7"/>
<rect x="312.5" y="2872.3" width="1241.2" height="532.2" fill="none" stroke="#333333" stroke-width="1.7"/>
<line x1="103.2" y1="2895.7" x2="110.4" y2="2895.7" stroke="#333333" stroke-width="1.8"/>
<text x="96.6" y="2906.1" font-size="22.5" text-anchor="end" fill="#4D4D4D" stroke="#4D4D4D" transform="translate(0 2906.1) scale(1 1.08) translate(0 -2906.1)">1.00</text>
<line x1="103.2" y1="3016.9" x2="110.4" y2="3016.9" stroke="#333333" stroke-width="1.8"/>
<text x="96.6" y="3027.3" font-size="22.5" text-anchor="end" fill="#4D4D4D" stroke="#4D4D4D" transform="translate(0 3027.3) scale(1 1.08) translate(0 -3027.3)">0.75</text>
<line x1="103.2" y1="3138.1" x2="110.4" y2="3138.1" stroke="#333333" stroke-width="1.8"/>
<text x="96.6" y="3148.5" font-size="22.5" text-anchor="end" fill="#4D4D4D" stroke="#4D4D4D" transform="translate(0 3148.5) scale(1 1.08) translate(0 -3148.5)">0.50</text>
<line x1="103.2" y1="3259.3" x2="110.4" y2="3259.3" stroke="#333333" stroke-width="1.8"/>
<text x="96.6" y="3269.7" font-size="22.5" text-anchor="end" fill="#4D4D4D" stroke="#4D4D4D" transform="translate(0 3269.7) scale(1 1.08) translate(0 -3269.7)">0.25</text>
<line x1="103.2" y1="3380.5" x2="110.4" y2="3380.5" stroke="#333333" stroke-width="1.8"/>
<text x="96.6" y="3390.9" font-size="22.5" text-anchor="end" fill="#4D4D4D" stroke="#4D4D4D" transform="translate(0 3390.9) scale(1 1.08) translate(0 -3390.9)">0.00</text>
<line x1="305.3" y1="2895.7" x2="312.5" y2="2895.7" stroke="#333333" stroke-width="1.8"/>
<line x1="305.3" y1="3016.9" x2="312.5" y2="3016.9" stroke="#333333" stroke-width="1.8"/>
<line x1="305.3" y1="3138.1" x2="312.5" y2="3138.1" stroke="#333333" stroke-width="1.8"/>
<line x1="305.3" y1="3259.3" x2="312.5" y2="3259.3" stroke="#333333" stroke-width="1.8"/>
<line x1="305.3" y1="3380.5" x2="312.5" y2="3380.5" stroke="#333333" stroke-width="1.8"/>
<line x1="175.1" y1="3404.5" x2="175.1" y2="3411.7" stroke="#333333" stroke-width="1.8"/>
<text x="175.1" y="3436.4" font-size="22.5" text-anchor="middle" fill="#4D4D4D" stroke="#4D4D4D" transform="translate(0 3436.4) scale(1 1.08) translate(0 -3436.4)">Annual</text>
<line x1="372.9" y1="3404.5" x2="372.9" y2="3411.7" stroke="#333333" stroke-width="1.8"/>
<text x="372.9" y="3436.4" font-size="22.5" text-anchor="middle" fill="#4D4D4D" stroke="#4D4D4D" transform="translate(0 3436.4) scale(1 1.08) translate(0 -3436.4)">Apr</text>
<line x1="474.7" y1="3404.5" x2="474.7" y2="3411.7" stroke="#333333" stroke-width="1.8"/>
<text x="474.7" y="3436.4" font-size="22.5" text-anchor="middle" fill="#4D4D4D" stroke="#4D4D4D" transform="translate(0 3436.4) scale(1 1.08) translate(0 -3436.4)">May</text>
<line x1="576.5" y1="3404.5" x2="576.5" y2="3411.7" stroke="#333333" stroke-width="1.8"/>
<text x="576.5" y="3436.4" font-size="22.5" text-anchor="middle" fill="#4D4D4D" stroke="#4D4D4D" transform="translate(0 3436.4) scale(1 1.08) translate(0 -3436.4)">Jun</text>
<line x1="678.3" y1="3404.5" x2="678.3" y2="3411.7" stroke="#333333" stroke-width="1.8"/>
<text x="678.3" y="3436.4" font-size="22.5" text-anchor="middle" fill="#4D4D4D" stroke="#4D4D4D" transform="translate(0 3436.4) scale(1 1.08) translate(0 -3436.4)">Jul</text>
<line x1="780.1" y1="3404.5" x2="780.1" y2="3411.7" stroke="#333333" stroke-width="1.8"/>
<text x="780.1" y="3436.4" font-size="22.5" text-anchor="middle" fill="#4D4D4D" stroke="#4D4D4D" transform="translate(0 3436.4) scale(1 1.08) translate(0 -3436.4)">Aug</text>
<line x1="881.9" y1="3404.5" x2="881.9" y2="3411.7" stroke="#333333" stroke-width="1.8"/>
<text x="881.9" y="3436.4" font-size="22.5" text-anchor="middle" fill="#4D4D4D" stroke="#4D4D4D" transform="translate(0 3436.4) scale(1 1.08) translate(0 -3436.4)">Sep</text>
<line x1="983.7" y1="3404.5" x2="983.7" y2="3411.7" stroke="#333333" stroke-width="1.8"/>
<text x="983.7" y="3436.4" font-size="22.5" text-anchor="middle" fill="#4D4D4D" stroke="#4D4D4D" transform="translate(0 3436.4) scale(1 1.08) translate(0 -3436.4)">Oct</text>
<line x1="1085.5" y1="3404.5" x2="1085.5" y2="3411.7" stroke="#333333" stroke-width="1.8"/>
<text x="1085.5" y="3436.4" font-size="22.5" text-anchor="middle" fill="#4D4D4D" stroke="#4D4D4D" transform="translate(0 3436.4) scale(1 1.08) translate(0 -3436.4)">Nov</text>
<line x1="1187.3" y1="3404.5" x2="1187.3" y2="3411.7" stroke="#333333" stroke-width="1.8"/>
<text x="1187.3" y="3436.4" font-size="22.5" text-anchor="middle" fill="#4D4D4D" stroke="#4D4D4D" transform="translate(0 3436.4) scale(1 1.08) translate(0 -3436.4)">Dec</text>
<line x1="1289.1" y1="3404.5" x2="1289.1" y2="3411.7" stroke="#333333" stroke-width="1.8"/>
<text x="1289.1" y="3436.4" font-size="22.5" text-anchor="middle" fill="#4D4D4D" stroke="#4D4D4D" transform="translate(0 3436.4) scale(1 1.08) translate(0 -3436.4)">Jan</text>
<line x1="1390.9" y1="3404.5" x2="1390.9" y2="3411.7" stroke="#333333" stroke-width="1.8"/>
<text x="1390.9" y="3436.4" font-size="22.5" text-anchor="middle" fill="#4D4D4D" stroke="#4D4D4D" transform="translate(0 3436.4) scale(1 1.08) translate(0 -3436.4)">Feb</text>
<line x1="1492.7" y1="3404.5" x2="1492.7" y2="3411.7" stroke="#333333" stroke-width="1.8"/>
<text x="1492.7" y="3436.4" font-size="22.5" text-anchor="middle" fill="#4D4D4D" stroke="#4D4D4D" transform="translate(0 3436.4) scale(1 1.08) translate(0 -3436.4)">Mar</text>
<text x="36.8" y="3138.4" font-size="28.9" text-anchor="middle" fill="#000000" stroke="#000000" transform="rotate(-90 36.8 3138.4)">Kolmogorov-Smirnov test p-value</text>
<circle cx="1621.4" cy="3044.7" r="6.5" fill="#F8766D" stroke="none" stroke-width="0"/>
<text x="1659.4" y="3053.3" font-size="22.7" text-anchor="start" fill="#000000" stroke="#000000">BigCreekMiddle</text>
<circle cx="1621.4" cy="3090.82" r="6.5" fill="#B79F00" stroke="none" stroke-width="0"/>
<text x="1659.4" y="3099.42" font-size="22.7" text-anchor="start" fill="#000000" stroke="#000000">BigCreekUpper</text>
<circle cx="1621.4" cy="3136.94" r="6.5" fill="#00BA38" stroke="none" stroke-width="0"/>
<text x="1659.4" y="3145.54" font-size="22.7" text-anchor="start" fill="#000000" stroke="#000000">HallowattCreekLower</text>
<circle cx="1621.4" cy="3183.06" r="6.5" fill="#00BFC4" stroke="none" stroke-width="0"/>
<text x="1659.4" y="3191.66" font-size="22.7" text-anchor="start" fill="#000000" stroke="#000000">WernerCreek</text>
<circle cx="1621.4" cy="3229.18" r="6.5" fill="#619CFF" stroke="none" stroke-width="0"/>
<text x="1659.4" y="3237.78" font-size="22.7" text-anchor="start" fill="#000000" stroke="#000000">Hallowat Creek NWIS</text>
<circle cx="1621.4" cy="3275.3" r="6.5" fill="#F564E3" stroke="none" stroke-width="0"/>
<text x="1659.4" y="3283.9" font-size="22.7" text-anchor="start" fill="#000000" stroke="#000000">NicolaCreek</text>
</g>
</svg></body></html>
